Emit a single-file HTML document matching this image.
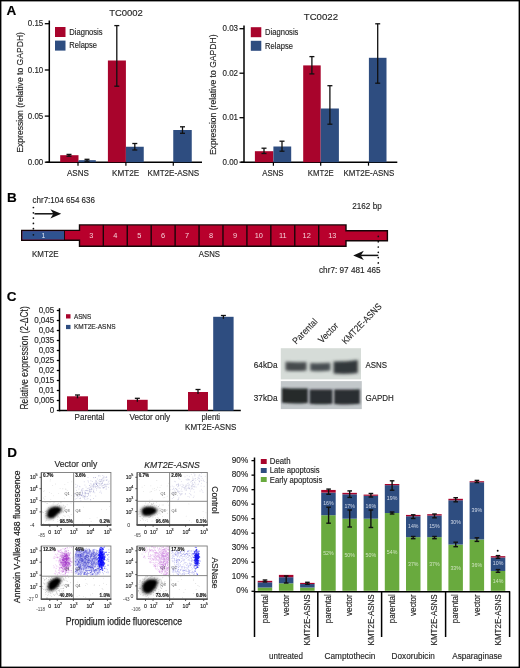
<!DOCTYPE html>
<html><head><meta charset="utf-8"><style>
html,body{margin:0;padding:0;background:#fff;}
svg{display:block;will-change:transform;}
text{font-family:"Liberation Sans",sans-serif;}
</style></head><body>
<svg width="520" height="668" viewBox="0 0 520 668">
<rect width="520" height="668" fill="#fff"/>
<text x="6.6" y="15.2" font-size="13.5" font-weight="bold" fill="#000" stroke="#000" stroke-width="0.15" >A</text>
<text x="7" y="202" font-size="13.5" font-weight="bold" fill="#000" stroke="#000" stroke-width="0.15" >B</text>
<text x="6.8" y="300.7" font-size="13.5" font-weight="bold" fill="#000" stroke="#000" stroke-width="0.15" >C</text>
<text x="7.2" y="456.8" font-size="13.5" font-weight="bold" fill="#000" stroke="#000" stroke-width="0.15" >D</text>
<text x="109.2" y="15.5" font-size="9.9" fill="#262626" stroke="#262626" stroke-width="0.15" textLength="33.7" lengthAdjust="spacingAndGlyphs" >TC0002</text>
<line x1="49.3" y1="20.5" x2="49.3" y2="162.95" stroke="#000" stroke-width="1.5" />
<line x1="46.3" y1="162.2" x2="202" y2="162.2" stroke="#000" stroke-width="1.5" />
<line x1="44.8" y1="23.7" x2="49.3" y2="23.7" stroke="#000" stroke-width="1.3" />
<text x="43.3" y="26.4" font-size="8.58" text-anchor="end" fill="#262626" stroke="#262626" stroke-width="0.15" textLength="15.5" lengthAdjust="spacingAndGlyphs" >0.15</text>
<line x1="44.8" y1="70" x2="49.3" y2="70" stroke="#000" stroke-width="1.3" />
<text x="43.3" y="72.7" font-size="8.58" text-anchor="end" fill="#262626" stroke="#262626" stroke-width="0.15" textLength="15.5" lengthAdjust="spacingAndGlyphs" >0.10</text>
<line x1="44.8" y1="116.1" x2="49.3" y2="116.1" stroke="#000" stroke-width="1.3" />
<text x="43.3" y="118.8" font-size="8.58" text-anchor="end" fill="#262626" stroke="#262626" stroke-width="0.15" textLength="15.5" lengthAdjust="spacingAndGlyphs" >0.05</text>
<line x1="44.8" y1="162.2" x2="49.3" y2="162.2" stroke="#000" stroke-width="1.3" />
<text x="43.3" y="164.9" font-size="8.58" text-anchor="end" fill="#262626" stroke="#262626" stroke-width="0.15" textLength="15.5" lengthAdjust="spacingAndGlyphs" >0.00</text>
<text transform="translate(22.6,92.35) rotate(-90)" font-size="9.46" text-anchor="middle" fill="#262626" stroke="#262626" stroke-width="0.15" textLength="120.6" lengthAdjust="spacingAndGlyphs" >Expression (relative to GAPDH)</text>
<rect x="55" y="27" width="10.5" height="10" fill="#a8042c" />
<rect x="55" y="40.6" width="10.5" height="10" fill="#2e4d80" />
<text x="69.3" y="34.8" font-size="8.25" fill="#262626" stroke="#262626" stroke-width="0.15" textLength="33.3" lengthAdjust="spacingAndGlyphs" >Diagnosis</text>
<text x="69.3" y="48.4" font-size="8.25" fill="#262626" stroke="#262626" stroke-width="0.15" textLength="27.8" lengthAdjust="spacingAndGlyphs" >Relapse</text>
<rect x="60.2" y="155.2" width="18.3" height="7" fill="#a8042c" />
<rect x="78.5" y="160.2" width="17.3" height="2" fill="#2e4d80" />
<rect x="107.9" y="60.5" width="18" height="101.7" fill="#a8042c" />
<rect x="125.9" y="146.75" width="17.85" height="15.45" fill="#2e4d80" />
<rect x="173.25" y="130" width="18.5" height="32.2" fill="#2e4d80" />
<line x1="69" y1="154.4" x2="69" y2="156.2" stroke="#111" stroke-width="1.3" />
<line x1="66.5" y1="154.4" x2="71.5" y2="154.4" stroke="#111" stroke-width="1.3" />
<line x1="66.5" y1="156.2" x2="71.5" y2="156.2" stroke="#111" stroke-width="1.3" />
<line x1="87" y1="159.3" x2="87" y2="161.2" stroke="#111" stroke-width="1.3" />
<line x1="84.5" y1="159.3" x2="89.5" y2="159.3" stroke="#111" stroke-width="1.3" />
<line x1="84.5" y1="161.2" x2="89.5" y2="161.2" stroke="#111" stroke-width="1.3" />
<line x1="116.8" y1="25.6" x2="116.8" y2="86.2" stroke="#111" stroke-width="1.3" />
<line x1="114.3" y1="25.6" x2="119.3" y2="25.6" stroke="#111" stroke-width="1.3" />
<line x1="114.3" y1="86.2" x2="119.3" y2="86.2" stroke="#111" stroke-width="1.3" />
<line x1="134.8" y1="143.5" x2="134.8" y2="150" stroke="#111" stroke-width="1.3" />
<line x1="132.3" y1="143.5" x2="137.3" y2="143.5" stroke="#111" stroke-width="1.3" />
<line x1="132.3" y1="150" x2="137.3" y2="150" stroke="#111" stroke-width="1.3" />
<line x1="182.5" y1="126.8" x2="182.5" y2="133.3" stroke="#111" stroke-width="1.3" />
<line x1="180" y1="126.8" x2="185" y2="126.8" stroke="#111" stroke-width="1.3" />
<line x1="180" y1="133.3" x2="185" y2="133.3" stroke="#111" stroke-width="1.3" />
<line x1="78" y1="162.2" x2="78" y2="165.7" stroke="#000" stroke-width="1.2" />
<line x1="125.9" y1="162.2" x2="125.9" y2="165.7" stroke="#000" stroke-width="1.2" />
<line x1="173.3" y1="162.2" x2="173.3" y2="165.7" stroke="#000" stroke-width="1.2" />
<text x="77.9" y="176" font-size="8.8" text-anchor="middle" fill="#262626" stroke="#262626" stroke-width="0.15" textLength="21.9" lengthAdjust="spacingAndGlyphs" >ASNS</text>
<text x="125.6" y="176" font-size="8.8" text-anchor="middle" fill="#262626" stroke="#262626" stroke-width="0.15" textLength="27.2" lengthAdjust="spacingAndGlyphs" >KMT2E</text>
<text x="173.4" y="176" font-size="8.8" text-anchor="middle" fill="#262626" stroke="#262626" stroke-width="0.15" textLength="51.7" lengthAdjust="spacingAndGlyphs" >KMT2E-ASNS</text>
<text x="303.8" y="19.8" font-size="9.9" fill="#262626" stroke="#262626" stroke-width="0.15" textLength="34.2" lengthAdjust="spacingAndGlyphs" >TC0022</text>
<line x1="244" y1="25.4" x2="244" y2="162.95" stroke="#000" stroke-width="1.5" />
<line x1="241" y1="162.2" x2="397.3" y2="162.2" stroke="#000" stroke-width="1.5" />
<line x1="239.5" y1="28.7" x2="244" y2="28.7" stroke="#000" stroke-width="1.3" />
<text x="238" y="31.4" font-size="8.58" text-anchor="end" fill="#262626" stroke="#262626" stroke-width="0.15" textLength="15.5" lengthAdjust="spacingAndGlyphs" >0.03</text>
<line x1="239.5" y1="73.2" x2="244" y2="73.2" stroke="#000" stroke-width="1.3" />
<text x="238" y="75.9" font-size="8.58" text-anchor="end" fill="#262626" stroke="#262626" stroke-width="0.15" textLength="15.5" lengthAdjust="spacingAndGlyphs" >0.02</text>
<line x1="239.5" y1="117.7" x2="244" y2="117.7" stroke="#000" stroke-width="1.3" />
<text x="238" y="120.4" font-size="8.58" text-anchor="end" fill="#262626" stroke="#262626" stroke-width="0.15" textLength="15.5" lengthAdjust="spacingAndGlyphs" >0.01</text>
<line x1="239.5" y1="162.2" x2="244" y2="162.2" stroke="#000" stroke-width="1.3" />
<text x="238" y="164.9" font-size="8.58" text-anchor="end" fill="#262626" stroke="#262626" stroke-width="0.15" textLength="15.5" lengthAdjust="spacingAndGlyphs" >0.00</text>
<text transform="translate(216.3,94.8) rotate(-90)" font-size="9.46" text-anchor="middle" fill="#262626" stroke="#262626" stroke-width="0.15" textLength="120.6" lengthAdjust="spacingAndGlyphs" >Expression (relative to GAPDH)</text>
<rect x="250.8" y="27.2" width="10.5" height="10" fill="#a8042c" />
<rect x="250.8" y="40.8" width="10.5" height="10" fill="#2e4d80" />
<text x="265.1" y="35" font-size="8.25" fill="#262626" stroke="#262626" stroke-width="0.15" textLength="33.3" lengthAdjust="spacingAndGlyphs" >Diagnosis</text>
<text x="265.1" y="48.6" font-size="8.25" fill="#262626" stroke="#262626" stroke-width="0.15" textLength="27.8" lengthAdjust="spacingAndGlyphs" >Relapse</text>
<rect x="254.9" y="151.2" width="18.5" height="11" fill="#a8042c" />
<rect x="273.4" y="146.5" width="17.8" height="15.7" fill="#2e4d80" />
<rect x="303.2" y="65.4" width="17.5" height="96.8" fill="#a8042c" />
<rect x="320.7" y="108.5" width="18.2" height="53.7" fill="#2e4d80" />
<rect x="368.9" y="57.8" width="17.6" height="104.4" fill="#2e4d80" />
<line x1="264" y1="148.2" x2="264" y2="153.5" stroke="#111" stroke-width="1.3" />
<line x1="261.5" y1="148.2" x2="266.5" y2="148.2" stroke="#111" stroke-width="1.3" />
<line x1="261.5" y1="153.5" x2="266.5" y2="153.5" stroke="#111" stroke-width="1.3" />
<line x1="282" y1="141.2" x2="282" y2="151.2" stroke="#111" stroke-width="1.3" />
<line x1="279.5" y1="141.2" x2="284.5" y2="141.2" stroke="#111" stroke-width="1.3" />
<line x1="279.5" y1="151.2" x2="284.5" y2="151.2" stroke="#111" stroke-width="1.3" />
<line x1="311.9" y1="56.6" x2="311.9" y2="73.9" stroke="#111" stroke-width="1.3" />
<line x1="309.4" y1="56.6" x2="314.4" y2="56.6" stroke="#111" stroke-width="1.3" />
<line x1="309.4" y1="73.9" x2="314.4" y2="73.9" stroke="#111" stroke-width="1.3" />
<line x1="329.9" y1="85.7" x2="329.9" y2="124.2" stroke="#111" stroke-width="1.3" />
<line x1="327.4" y1="85.7" x2="332.4" y2="85.7" stroke="#111" stroke-width="1.3" />
<line x1="327.4" y1="124.2" x2="332.4" y2="124.2" stroke="#111" stroke-width="1.3" />
<line x1="377.7" y1="23.8" x2="377.7" y2="83.2" stroke="#111" stroke-width="1.3" />
<line x1="375.2" y1="23.8" x2="380.2" y2="23.8" stroke="#111" stroke-width="1.3" />
<line x1="375.2" y1="83.2" x2="380.2" y2="83.2" stroke="#111" stroke-width="1.3" />
<line x1="273.4" y1="162.2" x2="273.4" y2="165.7" stroke="#000" stroke-width="1.2" />
<line x1="320.7" y1="162.2" x2="320.7" y2="165.7" stroke="#000" stroke-width="1.2" />
<line x1="368.5" y1="162.2" x2="368.5" y2="165.7" stroke="#000" stroke-width="1.2" />
<text x="272.9" y="176" font-size="8.8" text-anchor="middle" fill="#262626" stroke="#262626" stroke-width="0.15" textLength="21.2" lengthAdjust="spacingAndGlyphs" >ASNS</text>
<text x="320.8" y="176" font-size="8.8" text-anchor="middle" fill="#262626" stroke="#262626" stroke-width="0.15" textLength="26" lengthAdjust="spacingAndGlyphs" >KMT2E</text>
<text x="368.9" y="176" font-size="8.8" text-anchor="middle" fill="#262626" stroke="#262626" stroke-width="0.15" textLength="50.8" lengthAdjust="spacingAndGlyphs" >KMT2E-ASNS</text>
<text x="32.5" y="202.5" font-size="8.8" fill="#262626" stroke="#262626" stroke-width="0.15" textLength="62.5" lengthAdjust="spacingAndGlyphs" >chr7:104 654 636</text>
<circle cx="33.4" cy="207.5" r="0.85" fill="#111"/>
<circle cx="33.4" cy="212.8" r="0.85" fill="#111"/>
<circle cx="33.4" cy="218.1" r="0.85" fill="#111"/>
<circle cx="33.4" cy="223.4" r="0.85" fill="#111"/>
<circle cx="33.4" cy="228.7" r="0.85" fill="#111"/>
<circle cx="33.4" cy="234" r="0.85" fill="#111"/>
<circle cx="33.4" cy="239.3" r="0.85" fill="#111"/>
<line x1="34.5" y1="213.8" x2="54" y2="213.8" stroke="#111" stroke-width="1.5" />
<path d="M61.2,213.8 L50.4,209.2 L53.4,213.8 L50.4,218.4 Z" fill="#111"/>
<path d="M21.7,230.4 H79.5 V224.9 H346 V230.8 H387.4 V240.8 H346 V246.2 H79.5 V240.2 H21.7 Z" fill="#b8002c" stroke="#140406" stroke-width="1.4"/>
<rect x="22.4" y="231.1" width="42.1" height="8.4" fill="#2f5290" />
<line x1="64.5" y1="230.4" x2="64.5" y2="240.2" stroke="#140406" stroke-width="0.9" />
<text x="91.37" y="237.6" font-size="7.4" text-anchor="middle" fill="#f6d0d8" >3</text>
<line x1="103.33" y1="224.9" x2="103.33" y2="246.2" stroke="#1a0508" stroke-width="1.4" />
<text x="115.3" y="237.6" font-size="7.4" text-anchor="middle" fill="#f6d0d8" >4</text>
<line x1="127.26" y1="224.9" x2="127.26" y2="246.2" stroke="#1a0508" stroke-width="1.4" />
<text x="139.22" y="237.6" font-size="7.4" text-anchor="middle" fill="#f6d0d8" >5</text>
<line x1="151.19" y1="224.9" x2="151.19" y2="246.2" stroke="#1a0508" stroke-width="1.4" />
<text x="163.16" y="237.6" font-size="7.4" text-anchor="middle" fill="#f6d0d8" >6</text>
<line x1="175.12" y1="224.9" x2="175.12" y2="246.2" stroke="#1a0508" stroke-width="1.4" />
<text x="187.09" y="237.6" font-size="7.4" text-anchor="middle" fill="#f6d0d8" >7</text>
<line x1="199.05" y1="224.9" x2="199.05" y2="246.2" stroke="#1a0508" stroke-width="1.4" />
<text x="211.01" y="237.6" font-size="7.4" text-anchor="middle" fill="#f6d0d8" >8</text>
<line x1="222.98" y1="224.9" x2="222.98" y2="246.2" stroke="#1a0508" stroke-width="1.4" />
<text x="234.94" y="237.6" font-size="7.4" text-anchor="middle" fill="#f6d0d8" >9</text>
<line x1="246.91" y1="224.9" x2="246.91" y2="246.2" stroke="#1a0508" stroke-width="1.4" />
<text x="258.88" y="237.6" font-size="7.4" text-anchor="middle" fill="#f6d0d8" >10</text>
<line x1="270.84" y1="224.9" x2="270.84" y2="246.2" stroke="#1a0508" stroke-width="1.4" />
<text x="282.81" y="237.6" font-size="7.4" text-anchor="middle" fill="#f6d0d8" >11</text>
<line x1="294.77" y1="224.9" x2="294.77" y2="246.2" stroke="#1a0508" stroke-width="1.4" />
<text x="306.74" y="237.6" font-size="7.4" text-anchor="middle" fill="#f6d0d8" >12</text>
<line x1="318.7" y1="224.9" x2="318.7" y2="246.2" stroke="#1a0508" stroke-width="1.4" />
<text x="332.35" y="237.6" font-size="7.4" text-anchor="middle" fill="#f6d0d8" >13</text>
<circle cx="33.4" cy="234.8" r="0.85" fill="#111"/>
<text x="43.4" y="237.6" font-size="6.8" text-anchor="middle" fill="#dfe6f4" >1</text>
<circle cx="378.3" cy="236.4" r="0.85" fill="#111"/>
<circle cx="378.3" cy="241.7" r="0.85" fill="#111"/>
<circle cx="378.3" cy="247" r="0.85" fill="#111"/>
<circle cx="378.3" cy="252.3" r="0.85" fill="#111"/>
<circle cx="378.3" cy="257.6" r="0.85" fill="#111"/>
<circle cx="378.3" cy="262.9" r="0.85" fill="#111"/>
<line x1="361" y1="255.4" x2="378.3" y2="255.4" stroke="#111" stroke-width="1.5" />
<path d="M353.2,255.4 L363.8,250.8 L360.8,255.4 L363.8,260 Z" fill="#111"/>
<text x="31.9" y="256.7" font-size="8.8" fill="#262626" stroke="#262626" stroke-width="0.15" textLength="26.7" lengthAdjust="spacingAndGlyphs" >KMT2E</text>
<text x="198.8" y="256.7" font-size="8.8" fill="#262626" stroke="#262626" stroke-width="0.15" textLength="21.2" lengthAdjust="spacingAndGlyphs" >ASNS</text>
<text x="352.3" y="209.3" font-size="8.8" fill="#262626" stroke="#262626" stroke-width="0.15" textLength="29.4" lengthAdjust="spacingAndGlyphs" >2162 bp</text>
<text x="319" y="273" font-size="8.8" fill="#262626" stroke="#262626" stroke-width="0.15" textLength="61.6" lengthAdjust="spacingAndGlyphs" >chr7: 97 481 465</text>
<line x1="59.5" y1="308.2" x2="59.5" y2="411.35" stroke="#000" stroke-width="1.5" />
<line x1="59.5" y1="410.6" x2="240.8" y2="410.6" stroke="#000" stroke-width="1.5" />
<line x1="56.8" y1="310.5" x2="59.5" y2="310.5" stroke="#000" stroke-width="1.3" />
<text x="54.3" y="313.3" font-size="8.86" text-anchor="end" fill="#262626" stroke="#262626" stroke-width="0.15" textLength="15.67" lengthAdjust="spacingAndGlyphs" >0,05</text>
<line x1="56.8" y1="320.5" x2="59.5" y2="320.5" stroke="#000" stroke-width="1.3" />
<text x="54.3" y="323.3" font-size="8.86" text-anchor="end" fill="#262626" stroke="#262626" stroke-width="0.15" textLength="20.14" lengthAdjust="spacingAndGlyphs" >0,045</text>
<line x1="56.8" y1="330.5" x2="59.5" y2="330.5" stroke="#000" stroke-width="1.3" />
<text x="54.3" y="333.3" font-size="8.86" text-anchor="end" fill="#262626" stroke="#262626" stroke-width="0.15" textLength="15.67" lengthAdjust="spacingAndGlyphs" >0,04</text>
<line x1="56.8" y1="340.5" x2="59.5" y2="340.5" stroke="#000" stroke-width="1.3" />
<text x="54.3" y="343.3" font-size="8.86" text-anchor="end" fill="#262626" stroke="#262626" stroke-width="0.15" textLength="20.14" lengthAdjust="spacingAndGlyphs" >0,035</text>
<line x1="56.8" y1="350.5" x2="59.5" y2="350.5" stroke="#000" stroke-width="1.3" />
<text x="54.3" y="353.3" font-size="8.86" text-anchor="end" fill="#262626" stroke="#262626" stroke-width="0.15" textLength="15.67" lengthAdjust="spacingAndGlyphs" >0,03</text>
<line x1="56.8" y1="360.5" x2="59.5" y2="360.5" stroke="#000" stroke-width="1.3" />
<text x="54.3" y="363.3" font-size="8.86" text-anchor="end" fill="#262626" stroke="#262626" stroke-width="0.15" textLength="20.14" lengthAdjust="spacingAndGlyphs" >0,025</text>
<line x1="56.8" y1="370.5" x2="59.5" y2="370.5" stroke="#000" stroke-width="1.3" />
<text x="54.3" y="373.3" font-size="8.86" text-anchor="end" fill="#262626" stroke="#262626" stroke-width="0.15" textLength="15.67" lengthAdjust="spacingAndGlyphs" >0,02</text>
<line x1="56.8" y1="380.5" x2="59.5" y2="380.5" stroke="#000" stroke-width="1.3" />
<text x="54.3" y="383.3" font-size="8.86" text-anchor="end" fill="#262626" stroke="#262626" stroke-width="0.15" textLength="20.14" lengthAdjust="spacingAndGlyphs" >0,015</text>
<line x1="56.8" y1="390.5" x2="59.5" y2="390.5" stroke="#000" stroke-width="1.3" />
<text x="54.3" y="393.3" font-size="8.86" text-anchor="end" fill="#262626" stroke="#262626" stroke-width="0.15" textLength="15.67" lengthAdjust="spacingAndGlyphs" >0,01</text>
<line x1="56.8" y1="400.5" x2="59.5" y2="400.5" stroke="#000" stroke-width="1.3" />
<text x="54.3" y="403.3" font-size="8.86" text-anchor="end" fill="#262626" stroke="#262626" stroke-width="0.15" textLength="20.14" lengthAdjust="spacingAndGlyphs" >0,005</text>
<line x1="56.8" y1="410.5" x2="59.5" y2="410.5" stroke="#000" stroke-width="1.3" />
<text x="54.3" y="413.3" font-size="8.86" text-anchor="end" fill="#262626" stroke="#262626" stroke-width="0.15" textLength="4.48" lengthAdjust="spacingAndGlyphs" >0</text>
<text transform="translate(27.8,357.9) rotate(-90)" font-size="10.56" text-anchor="middle" fill="#262626" stroke="#262626" stroke-width="0.15" textLength="103.2" lengthAdjust="spacingAndGlyphs" >Relative expression (2-ΔCt)</text>
<rect x="66" y="314.2" width="4.5" height="4.3" fill="#a8042c" />
<rect x="66" y="324.9" width="4.5" height="4.2" fill="#2e4d80" />
<text x="73.9" y="318.9" font-size="6.4" fill="#262626" stroke="#262626" stroke-width="0.15" textLength="17.3" lengthAdjust="spacingAndGlyphs" >ASNS</text>
<text x="73.9" y="329.2" font-size="6.4" fill="#262626" stroke="#262626" stroke-width="0.15" textLength="41.6" lengthAdjust="spacingAndGlyphs" >KMT2E-ASNS</text>
<rect x="67" y="396.3" width="21" height="14.3" fill="#a8042c" />
<line x1="77.5" y1="395" x2="77.5" y2="398.3" stroke="#111" stroke-width="1.3" />
<line x1="75" y1="395" x2="80" y2="395" stroke="#111" stroke-width="1.3" />
<rect x="127" y="399.8" width="20.7" height="10.8" fill="#a8042c" />
<line x1="137.35" y1="398.3" x2="137.35" y2="401.8" stroke="#111" stroke-width="1.3" />
<line x1="134.85" y1="398.3" x2="139.85" y2="398.3" stroke="#111" stroke-width="1.3" />
<rect x="188" y="392" width="20" height="18.6" fill="#a8042c" />
<line x1="198" y1="389.5" x2="198" y2="394" stroke="#111" stroke-width="1.3" />
<line x1="195.5" y1="389.5" x2="200.5" y2="389.5" stroke="#111" stroke-width="1.3" />
<rect x="213.2" y="316.8" width="20.4" height="93.8" fill="#2e4d80" />
<line x1="223.4" y1="315.5" x2="223.4" y2="318.8" stroke="#111" stroke-width="1.3" />
<line x1="220.9" y1="315.5" x2="225.9" y2="315.5" stroke="#111" stroke-width="1.3" />
<text x="89.6" y="420.2" font-size="8.8" text-anchor="middle" fill="#262626" stroke="#262626" stroke-width="0.15" textLength="30" lengthAdjust="spacingAndGlyphs" >Parental</text>
<text x="149.8" y="420.2" font-size="8.8" text-anchor="middle" fill="#262626" stroke="#262626" stroke-width="0.15" textLength="40.8" lengthAdjust="spacingAndGlyphs" >Vector only</text>
<text x="210.8" y="420" font-size="8.8" text-anchor="middle" fill="#262626" stroke="#262626" stroke-width="0.15" textLength="18.6" lengthAdjust="spacingAndGlyphs" >plenti</text>
<text x="210.7" y="429.7" font-size="8.8" text-anchor="middle" fill="#262626" stroke="#262626" stroke-width="0.15" textLength="51.2" lengthAdjust="spacingAndGlyphs" >KMT2E-ASNS</text>
<defs><filter id="bl" x="-20%" y="-60%" width="140%" height="220%"><feGaussianBlur stdDeviation="1.5"/></filter><filter id="bl2" x="-20%" y="-60%" width="140%" height="220%"><feGaussianBlur stdDeviation="0.9"/></filter></defs>
<rect x="280.8" y="348.2" width="80.2" height="31.2" fill="#d6dcd8" />
<rect x="280.8" y="381.1" width="81" height="28" fill="#c2c7ca" />
<path d="M285.5,361.8 Q296,362.4 306.5,362 L306.5,370.48 Q296,371.6 285.5,370.42 Z" fill="#464b4e" filter="url(#bl)"/>
<path d="M310.2,363.1 Q320.3,363.4 330.4,362.8 L330.4,370.62 Q320.3,371.8 310.2,370.71 Z" fill="#4a4f52" filter="url(#bl)"/>
<path d="M333.6,361.6 Q345.7,361.8 357.8,360 L357.8,373.06 Q345.7,374.6 333.6,373.54 Z" fill="#33373a" filter="url(#bl)"/>
<path d="M282,388 Q294.9,388.8 307.8,388.4 L307.8,402.88 Q294.9,404 282,402.76 Z" fill="#26292c" filter="url(#bl2)"/>
<path d="M309.6,389.4 Q321,389.8 332.4,389.4 L332.4,403.68 Q321,404.8 309.6,403.68 Z" fill="#2a2d30" filter="url(#bl2)"/>
<path d="M334.2,389.4 Q347,389.8 359.8,389.2 L359.8,403.82 Q347,405 334.2,403.88 Z" fill="#2a2d30" filter="url(#bl2)"/>
<text x="253.8" y="368.2" font-size="8.8" fill="#262626" stroke="#262626" stroke-width="0.15" textLength="23.7" lengthAdjust="spacingAndGlyphs" >64kDa</text>
<text x="253.8" y="400.5" font-size="8.8" fill="#262626" stroke="#262626" stroke-width="0.15" textLength="23.7" lengthAdjust="spacingAndGlyphs" >37kDa</text>
<text x="365.5" y="368.2" font-size="8.8" fill="#262626" stroke="#262626" stroke-width="0.15" textLength="21.5" lengthAdjust="spacingAndGlyphs" >ASNS</text>
<text x="365.5" y="400.5" font-size="8.8" fill="#262626" stroke="#262626" stroke-width="0.15" textLength="28.3" lengthAdjust="spacingAndGlyphs" >GAPDH</text>
<text transform="translate(296.3,344.8) rotate(-46)" font-size="9.46" fill="#262626" stroke="#262626" stroke-width="0.1" textLength="31.5" lengthAdjust="spacingAndGlyphs" >Parental</text>
<text transform="translate(322,343.8) rotate(-46)" font-size="9.46" fill="#262626" stroke="#262626" stroke-width="0.1" textLength="24.5" lengthAdjust="spacingAndGlyphs" >Vector</text>
<text transform="translate(345.8,344.8) rotate(-46)" font-size="9.46" fill="#262626" stroke="#262626" stroke-width="0.1" textLength="52.5" lengthAdjust="spacingAndGlyphs" >KMT2E-ASNS</text>
<defs><filter id="sb" x="-30%" y="-30%" width="160%" height="160%"><feGaussianBlur stdDeviation="0.9"/></filter><filter id="sb2" x="-30%" y="-30%" width="160%" height="160%"><feGaussianBlur stdDeviation="1.3"/></filter></defs>
<g fill="#5a5aa8" fill-opacity="0.28"><circle cx="90.22" cy="495.69" r="0.5"/><circle cx="74.61" cy="493.47" r="0.5"/><circle cx="77.11" cy="494.61" r="0.5"/><circle cx="91.52" cy="489.45" r="0.5"/><circle cx="90.54" cy="486.72" r="0.5"/><circle cx="75.75" cy="484.16" r="0.5"/><circle cx="84.28" cy="493.75" r="0.5"/><circle cx="80.36" cy="491.96" r="0.5"/><circle cx="83.82" cy="495.88" r="0.5"/><circle cx="103.83" cy="487.85" r="0.5"/><circle cx="92.02" cy="489.39" r="0.5"/><circle cx="81.35" cy="495.71" r="0.5"/><circle cx="93.71" cy="486.36" r="0.5"/><circle cx="90.71" cy="487.27" r="0.5"/><circle cx="99.61" cy="479.62" r="0.5"/><circle cx="84.94" cy="484.9" r="0.5"/><circle cx="95.73" cy="496.1" r="0.5"/><circle cx="79.94" cy="493.24" r="0.5"/><circle cx="97.38" cy="479" r="0.5"/><circle cx="100.42" cy="487.89" r="0.5"/><circle cx="90.26" cy="483.64" r="0.5"/><circle cx="106.85" cy="480.34" r="0.5"/><circle cx="103.22" cy="487.51" r="0.5"/><circle cx="104.56" cy="484.82" r="0.5"/><circle cx="80.18" cy="495.42" r="0.5"/><circle cx="74.63" cy="495.89" r="0.5"/><circle cx="87.32" cy="496.5" r="0.5"/><circle cx="80.59" cy="498" r="0.5"/><circle cx="107.3" cy="483.95" r="0.5"/><circle cx="99.44" cy="481.19" r="0.5"/><circle cx="101.95" cy="486.28" r="0.5"/><circle cx="95.92" cy="482.3" r="0.5"/><circle cx="82.63" cy="496.09" r="0.5"/><circle cx="77.69" cy="492.41" r="0.5"/><circle cx="89.25" cy="491.49" r="0.5"/><circle cx="77.61" cy="485.15" r="0.5"/><circle cx="91.31" cy="483.88" r="0.5"/><circle cx="106.19" cy="487.92" r="0.5"/><circle cx="105.91" cy="477.34" r="0.5"/><circle cx="86.79" cy="490.53" r="0.5"/><circle cx="97.37" cy="486.03" r="0.5"/><circle cx="85.07" cy="495.73" r="0.5"/><circle cx="80.77" cy="494.76" r="0.5"/><circle cx="79" cy="494.74" r="0.5"/><circle cx="101.17" cy="479.85" r="0.5"/><circle cx="81.78" cy="495.04" r="0.5"/><circle cx="88.59" cy="482.08" r="0.5"/><circle cx="88.82" cy="488.29" r="0.5"/><circle cx="77.76" cy="496.9" r="0.5"/><circle cx="102.23" cy="483.08" r="0.5"/><circle cx="102.92" cy="479.84" r="0.5"/><circle cx="98.49" cy="487.79" r="0.5"/><circle cx="82.69" cy="493.42" r="0.5"/><circle cx="92.33" cy="481.58" r="0.5"/><circle cx="87.97" cy="498.4" r="0.5"/><circle cx="101.19" cy="479.2" r="0.5"/><circle cx="91.61" cy="488.13" r="0.5"/><circle cx="76.81" cy="498.58" r="0.5"/><circle cx="102.3" cy="483.13" r="0.5"/><circle cx="88.24" cy="492.9" r="0.5"/><circle cx="84.34" cy="498.47" r="0.5"/><circle cx="106.65" cy="476.77" r="0.5"/><circle cx="96.97" cy="483.28" r="0.5"/><circle cx="103.24" cy="480.74" r="0.5"/><circle cx="96.53" cy="483.91" r="0.5"/><circle cx="96.5" cy="489.92" r="0.5"/><circle cx="102.42" cy="482.73" r="0.5"/><circle cx="104.85" cy="477.64" r="0.5"/><circle cx="106.15" cy="489.31" r="0.5"/><circle cx="104" cy="476.33" r="0.5"/><circle cx="93.74" cy="487.33" r="0.5"/><circle cx="102.77" cy="475.52" r="0.5"/><circle cx="96.55" cy="484.25" r="0.5"/><circle cx="102.46" cy="485.62" r="0.5"/><circle cx="85.83" cy="496.85" r="0.5"/><circle cx="82.38" cy="492.59" r="0.5"/><circle cx="101.15" cy="484.91" r="0.5"/><circle cx="98.15" cy="483.55" r="0.5"/><circle cx="98.86" cy="480.77" r="0.5"/><circle cx="97.28" cy="487.74" r="0.5"/><circle cx="90.21" cy="492.85" r="0.5"/><circle cx="74.69" cy="494.02" r="0.5"/><circle cx="90.96" cy="491.47" r="0.5"/><circle cx="93.89" cy="484.58" r="0.5"/><circle cx="93.61" cy="490.2" r="0.5"/><circle cx="94.23" cy="482.89" r="0.5"/><circle cx="103.78" cy="480.82" r="0.5"/><circle cx="89.77" cy="485.55" r="0.5"/><circle cx="92.28" cy="486.09" r="0.5"/><circle cx="97.59" cy="485.4" r="0.5"/><circle cx="106.42" cy="480.25" r="0.5"/><circle cx="101.63" cy="483.59" r="0.5"/><circle cx="84.27" cy="496.76" r="0.5"/><circle cx="78.9" cy="496.18" r="0.5"/><circle cx="98.92" cy="475.44" r="0.5"/><circle cx="79.88" cy="486.65" r="0.5"/><circle cx="89.66" cy="485.39" r="0.5"/><circle cx="87.59" cy="490.73" r="0.5"/><circle cx="99.85" cy="487.21" r="0.5"/><circle cx="76.57" cy="495.26" r="0.5"/><circle cx="88.19" cy="493.85" r="0.5"/><circle cx="104.16" cy="484.67" r="0.5"/><circle cx="93.96" cy="488.97" r="0.5"/><circle cx="93.87" cy="485.43" r="0.5"/><circle cx="79.65" cy="495.19" r="0.5"/><circle cx="99.9" cy="485.41" r="0.5"/><circle cx="96.46" cy="484.41" r="0.5"/><circle cx="90.4" cy="499.58" r="0.5"/><circle cx="93.29" cy="484.56" r="0.5"/><circle cx="76.55" cy="490.29" r="0.5"/><circle cx="84.71" cy="492.02" r="0.5"/><circle cx="108.55" cy="487.14" r="0.5"/><circle cx="81.84" cy="490.77" r="0.5"/><circle cx="77.16" cy="486.77" r="0.5"/><circle cx="88.5" cy="495.28" r="0.5"/><circle cx="85.89" cy="493.46" r="0.5"/><circle cx="79.29" cy="498.5" r="0.5"/><circle cx="86.06" cy="486.97" r="0.5"/><circle cx="93.57" cy="491.28" r="0.5"/><circle cx="77.15" cy="496.1" r="0.5"/><circle cx="96.04" cy="482.88" r="0.5"/><circle cx="92.94" cy="487.1" r="0.5"/><circle cx="96.62" cy="484.59" r="0.5"/><circle cx="97.7" cy="485.49" r="0.5"/><circle cx="101.54" cy="484.07" r="0.5"/><circle cx="100.1" cy="476.04" r="0.5"/><circle cx="88" cy="490.32" r="0.5"/><circle cx="87.21" cy="496.69" r="0.5"/><circle cx="85.32" cy="493.1" r="0.5"/><circle cx="106.7" cy="477.18" r="0.5"/><circle cx="85.33" cy="494.8" r="0.5"/><circle cx="93.2" cy="492.29" r="0.5"/><circle cx="96.3" cy="488.49" r="0.5"/><circle cx="93.58" cy="498.47" r="0.5"/><circle cx="85.85" cy="490.78" r="0.5"/><circle cx="82.91" cy="490.3" r="0.5"/><circle cx="82.24" cy="492.35" r="0.5"/><circle cx="88.45" cy="493.78" r="0.5"/><circle cx="81.66" cy="495.47" r="0.5"/><circle cx="78.91" cy="489.02" r="0.5"/><circle cx="95.42" cy="477.55" r="0.5"/><circle cx="100.16" cy="484" r="0.5"/><circle cx="104.31" cy="487.57" r="0.5"/><circle cx="98.52" cy="475.99" r="0.5"/><circle cx="104.72" cy="486.73" r="0.5"/><circle cx="96.02" cy="480.48" r="0.5"/><circle cx="93.43" cy="477.5" r="0.5"/><circle cx="96.16" cy="481.56" r="0.5"/><circle cx="80.4" cy="498.26" r="0.5"/><circle cx="82.73" cy="488.97" r="0.5"/><circle cx="90.85" cy="480.65" r="0.5"/><circle cx="99.47" cy="487.89" r="0.5"/><circle cx="93.7" cy="483.45" r="0.5"/><circle cx="103.31" cy="487.95" r="0.5"/><circle cx="87.4" cy="493.13" r="0.5"/><circle cx="100.75" cy="490.95" r="0.5"/><circle cx="101.75" cy="480.06" r="0.5"/><circle cx="88.01" cy="480.86" r="0.5"/><circle cx="94.17" cy="484.25" r="0.5"/><circle cx="80.88" cy="500.64" r="0.5"/><circle cx="85.17" cy="490.4" r="0.5"/><circle cx="95.89" cy="481.12" r="0.5"/><circle cx="87.33" cy="488.39" r="0.5"/><circle cx="82.55" cy="491.83" r="0.5"/><circle cx="107.02" cy="479.52" r="0.5"/><circle cx="95.53" cy="477.52" r="0.5"/><circle cx="89.86" cy="491.43" r="0.5"/><circle cx="106.7" cy="486.14" r="0.5"/><circle cx="82.91" cy="488.61" r="0.5"/><circle cx="102.53" cy="478.2" r="0.5"/><circle cx="102.8" cy="481.23" r="0.5"/><circle cx="88.37" cy="493.93" r="0.5"/><circle cx="86.32" cy="490.29" r="0.5"/><circle cx="100.56" cy="481.58" r="0.5"/><circle cx="82.26" cy="494.17" r="0.5"/><circle cx="103.26" cy="477.26" r="0.5"/><circle cx="89.35" cy="490.11" r="0.5"/><circle cx="81.55" cy="490.78" r="0.5"/><circle cx="104.96" cy="484.07" r="0.5"/><circle cx="93.69" cy="491.42" r="0.5"/><circle cx="104.87" cy="479.91" r="0.5"/><circle cx="92.97" cy="485.35" r="0.5"/><circle cx="91.62" cy="486.09" r="0.5"/><circle cx="95.81" cy="486.61" r="0.5"/><circle cx="108.23" cy="484.33" r="0.5"/><circle cx="84.83" cy="497.11" r="0.5"/><circle cx="105.76" cy="486.44" r="0.5"/><circle cx="81.5" cy="489.17" r="0.5"/><circle cx="83.29" cy="495.52" r="0.5"/><circle cx="100.88" cy="481.07" r="0.5"/><circle cx="108.98" cy="480.9" r="0.5"/><circle cx="81.52" cy="495.19" r="0.5"/><circle cx="89.76" cy="491.9" r="0.5"/><circle cx="75.91" cy="487.46" r="0.5"/><circle cx="95.34" cy="485.95" r="0.5"/><circle cx="89.56" cy="490.02" r="0.5"/><circle cx="103.5" cy="485.2" r="0.5"/><circle cx="80.18" cy="494.48" r="0.5"/><circle cx="84.19" cy="496.67" r="0.5"/><circle cx="97.84" cy="482.18" r="0.5"/><circle cx="86.15" cy="493.25" r="0.5"/><circle cx="87.99" cy="477.43" r="0.5"/><circle cx="93.87" cy="477.86" r="0.5"/><circle cx="89.24" cy="487.83" r="0.5"/><circle cx="101.41" cy="493.06" r="0.5"/><circle cx="95.38" cy="487.43" r="0.5"/><circle cx="79.66" cy="486.28" r="0.5"/><circle cx="84.96" cy="496.14" r="0.5"/><circle cx="91.82" cy="488.29" r="0.5"/><circle cx="98.62" cy="486.17" r="0.5"/><circle cx="96.82" cy="486.53" r="0.5"/><circle cx="100.13" cy="481.88" r="0.5"/><circle cx="90.9" cy="489.9" r="0.5"/><circle cx="91.15" cy="491.37" r="0.5"/><circle cx="93.99" cy="486.41" r="0.5"/><circle cx="99.7" cy="483.39" r="0.5"/><circle cx="75.16" cy="499.05" r="0.5"/><circle cx="99.86" cy="492.22" r="0.5"/><circle cx="95.95" cy="483.61" r="0.5"/><circle cx="102.84" cy="487.7" r="0.5"/><circle cx="84.95" cy="499.37" r="0.5"/><circle cx="90.56" cy="489.29" r="0.5"/><circle cx="83.06" cy="497.19" r="0.5"/><circle cx="99.16" cy="484.09" r="0.5"/><circle cx="82.4" cy="493.82" r="0.5"/><circle cx="96" cy="483.7" r="0.5"/><circle cx="109.22" cy="483.64" r="0.5"/><circle cx="90.73" cy="499.99" r="0.5"/><circle cx="105.73" cy="484.91" r="0.5"/><circle cx="85.24" cy="492.38" r="0.5"/><circle cx="85.37" cy="492.94" r="0.5"/><circle cx="89.47" cy="489.3" r="0.5"/><circle cx="106.94" cy="484.15" r="0.5"/><circle cx="103.59" cy="478.06" r="0.5"/><circle cx="105.96" cy="484.81" r="0.5"/><circle cx="108.32" cy="482.03" r="0.5"/><circle cx="101.33" cy="481.24" r="0.5"/><circle cx="87" cy="498.91" r="0.5"/><circle cx="84.22" cy="481.84" r="0.5"/><circle cx="94.75" cy="492.79" r="0.5"/></g>
<g fill="#666" fill-opacity="0.35"><circle cx="53.34" cy="517.17" r="0.45"/><circle cx="67.17" cy="504.87" r="0.45"/><circle cx="61.45" cy="502.86" r="0.45"/><circle cx="55.22" cy="510.6" r="0.45"/><circle cx="57.96" cy="517.35" r="0.45"/><circle cx="50.69" cy="517" r="0.45"/><circle cx="46.9" cy="519.07" r="0.45"/><circle cx="57.52" cy="507.97" r="0.45"/><circle cx="46.7" cy="511.98" r="0.45"/><circle cx="53.1" cy="518.15" r="0.45"/><circle cx="53.3" cy="509.45" r="0.45"/><circle cx="62.64" cy="517.88" r="0.45"/><circle cx="54.9" cy="513.8" r="0.45"/><circle cx="64.36" cy="507.96" r="0.45"/><circle cx="54.69" cy="514.27" r="0.45"/><circle cx="63.35" cy="511.26" r="0.45"/><circle cx="48.62" cy="507.53" r="0.45"/><circle cx="57.59" cy="516.9" r="0.45"/><circle cx="42.24" cy="511.19" r="0.45"/><circle cx="50.49" cy="510.72" r="0.45"/><circle cx="55.34" cy="506.26" r="0.45"/><circle cx="45.7" cy="513.63" r="0.45"/><circle cx="51.49" cy="508.62" r="0.45"/><circle cx="56.05" cy="515.8" r="0.45"/><circle cx="68.06" cy="515.76" r="0.45"/><circle cx="46.4" cy="513.07" r="0.45"/><circle cx="47.98" cy="514.85" r="0.45"/><circle cx="54.02" cy="502.49" r="0.45"/><circle cx="57.39" cy="509.76" r="0.45"/><circle cx="60.78" cy="509.52" r="0.45"/><circle cx="58.82" cy="512.18" r="0.45"/><circle cx="63.46" cy="505.1" r="0.45"/><circle cx="59.52" cy="505.97" r="0.45"/><circle cx="57.21" cy="504.47" r="0.45"/><circle cx="57.92" cy="521.48" r="0.45"/><circle cx="56.86" cy="509.14" r="0.45"/><circle cx="42.49" cy="512.68" r="0.45"/><circle cx="58.03" cy="516.01" r="0.45"/><circle cx="58.67" cy="512.82" r="0.45"/><circle cx="57.36" cy="519.2" r="0.45"/><circle cx="49.13" cy="510.69" r="0.45"/><circle cx="61" cy="508.4" r="0.45"/><circle cx="49.94" cy="510.07" r="0.45"/><circle cx="53.56" cy="516.29" r="0.45"/><circle cx="53.11" cy="504" r="0.45"/><circle cx="57.68" cy="511" r="0.45"/><circle cx="48.12" cy="520.28" r="0.45"/><circle cx="50.62" cy="511.34" r="0.45"/><circle cx="63.88" cy="515.42" r="0.45"/><circle cx="49.62" cy="517.18" r="0.45"/><circle cx="53.34" cy="520.32" r="0.45"/><circle cx="51.02" cy="518.96" r="0.45"/><circle cx="51.81" cy="516.41" r="0.45"/><circle cx="51.14" cy="508.78" r="0.45"/><circle cx="71.03" cy="503.03" r="0.45"/><circle cx="43.27" cy="523.49" r="0.45"/><circle cx="49.65" cy="515.16" r="0.45"/><circle cx="64.1" cy="507.08" r="0.45"/><circle cx="65.27" cy="510.7" r="0.45"/><circle cx="49.83" cy="519.95" r="0.45"/><circle cx="59.59" cy="513.17" r="0.45"/><circle cx="63.02" cy="511.88" r="0.45"/><circle cx="56.55" cy="513.76" r="0.45"/><circle cx="51.3" cy="513.51" r="0.45"/><circle cx="59.52" cy="505.74" r="0.45"/><circle cx="60.59" cy="502.8" r="0.45"/><circle cx="54.39" cy="507.97" r="0.45"/><circle cx="53.06" cy="507.58" r="0.45"/><circle cx="54.59" cy="507.65" r="0.45"/><circle cx="58.24" cy="516.25" r="0.45"/><circle cx="45.76" cy="515.54" r="0.45"/><circle cx="59.57" cy="512.34" r="0.45"/><circle cx="45.09" cy="502.25" r="0.45"/><circle cx="64.56" cy="508.27" r="0.45"/><circle cx="53.1" cy="510.38" r="0.45"/><circle cx="54.66" cy="508.52" r="0.45"/><circle cx="43.58" cy="512.43" r="0.45"/><circle cx="47.32" cy="511.25" r="0.45"/><circle cx="46.48" cy="520.25" r="0.45"/><circle cx="45.35" cy="521.03" r="0.45"/><circle cx="46.8" cy="518.13" r="0.45"/><circle cx="65.24" cy="507.04" r="0.45"/><circle cx="48.17" cy="515.31" r="0.45"/><circle cx="49.98" cy="502.13" r="0.45"/><circle cx="49.47" cy="515.38" r="0.45"/><circle cx="50.32" cy="514.34" r="0.45"/><circle cx="61.8" cy="512.77" r="0.45"/><circle cx="62.65" cy="511.09" r="0.45"/><circle cx="51.47" cy="513.05" r="0.45"/><circle cx="50.76" cy="511.42" r="0.45"/><circle cx="47.42" cy="503.59" r="0.45"/><circle cx="51.1" cy="513.21" r="0.45"/><circle cx="46.04" cy="515.98" r="0.45"/><circle cx="57.4" cy="508.81" r="0.45"/><circle cx="46.92" cy="503.18" r="0.45"/><circle cx="69.17" cy="521.65" r="0.45"/><circle cx="57.03" cy="508.07" r="0.45"/><circle cx="61.6" cy="510.18" r="0.45"/><circle cx="52.29" cy="508.71" r="0.45"/><circle cx="57.45" cy="506.59" r="0.45"/><circle cx="54.09" cy="508.25" r="0.45"/><circle cx="57.57" cy="515" r="0.45"/><circle cx="46.79" cy="515.51" r="0.45"/><circle cx="59.09" cy="510" r="0.45"/><circle cx="69.34" cy="517.03" r="0.45"/><circle cx="64.97" cy="516.26" r="0.45"/><circle cx="63.43" cy="512.21" r="0.45"/><circle cx="46.86" cy="510.81" r="0.45"/><circle cx="58.19" cy="503.27" r="0.45"/><circle cx="46.28" cy="511.02" r="0.45"/><circle cx="53.47" cy="506.96" r="0.45"/><circle cx="63.92" cy="505.83" r="0.45"/><circle cx="48.99" cy="523.48" r="0.45"/><circle cx="49.83" cy="515.58" r="0.45"/><circle cx="52.8" cy="510.3" r="0.45"/><circle cx="54.37" cy="506.85" r="0.45"/><circle cx="53.78" cy="512.29" r="0.45"/><circle cx="58.54" cy="510.13" r="0.45"/><circle cx="45.49" cy="511.59" r="0.45"/><circle cx="59.15" cy="512.6" r="0.45"/><circle cx="52.34" cy="511.51" r="0.45"/><circle cx="61.24" cy="507.94" r="0.45"/><circle cx="61.3" cy="511.78" r="0.45"/><circle cx="59.24" cy="517.86" r="0.45"/><circle cx="48.24" cy="512.48" r="0.45"/><circle cx="45.13" cy="511.19" r="0.45"/><circle cx="71.15" cy="514.45" r="0.45"/><circle cx="55.62" cy="514.79" r="0.45"/><circle cx="65.41" cy="511.08" r="0.45"/><circle cx="50.05" cy="517.04" r="0.45"/><circle cx="65.44" cy="506.25" r="0.45"/><circle cx="46" cy="513.74" r="0.45"/></g>
<path d="M45.05,514.9 C45.27,513.37 45.72,510.69 46.67,509.23 C47.61,507.77 49.16,506.8 50.72,506.12 C52.27,505.45 54.25,505.23 55.98,505.18 C57.71,505.13 59.78,505.36 61.11,505.86 C62.44,506.35 63.77,507.18 63.95,508.15 C64.13,509.12 63.18,510.47 62.19,511.66 C61.2,512.85 59.47,514.02 58.01,515.31 C56.54,516.59 54.97,518.57 53.42,519.36 C51.86,520.14 50.04,520.19 48.69,520.03 C47.34,519.87 45.92,519.26 45.32,518.41 C44.71,517.55 44.82,516.43 45.05,514.9Z" fill="#666" fill-opacity="0.35" filter="url(#sb2)"/>
<path d="M47.3,514.2 C47.47,513.07 47.8,511.08 48.5,510 C49.2,508.92 50.35,508.2 51.5,507.7 C52.65,507.2 54.12,507.03 55.4,507 C56.68,506.97 58.22,507.13 59.2,507.5 C60.18,507.87 61.17,508.48 61.3,509.2 C61.43,509.92 60.73,510.92 60,511.8 C59.27,512.68 57.98,513.55 56.9,514.5 C55.82,515.45 54.65,516.92 53.5,517.5 C52.35,518.08 51,518.12 50,518 C49,517.88 47.95,517.43 47.5,516.8 C47.05,516.17 47.13,515.33 47.3,514.2Z" fill="#000" filter="url(#sb)"/>
<g fill="#999" fill-opacity="0.5"><circle cx="62.86" cy="488.75" r="0.4"/><circle cx="71.7" cy="495.44" r="0.4"/><circle cx="50.83" cy="499.37" r="0.4"/><circle cx="44.63" cy="490.78" r="0.4"/><circle cx="55.6" cy="483.99" r="0.4"/><circle cx="45.07" cy="496.49" r="0.4"/><circle cx="43.67" cy="491.23" r="0.4"/><circle cx="71.81" cy="481.79" r="0.4"/><circle cx="49.35" cy="492.55" r="0.4"/><circle cx="58.66" cy="493.32" r="0.4"/><circle cx="67.95" cy="482.53" r="0.4"/><circle cx="52.67" cy="485.44" r="0.4"/><circle cx="44.77" cy="499.04" r="0.4"/><circle cx="67.02" cy="495.03" r="0.4"/><circle cx="43.49" cy="498.01" r="0.4"/><circle cx="65.88" cy="489.25" r="0.4"/><circle cx="65.78" cy="488.95" r="0.4"/><circle cx="50.15" cy="480.93" r="0.4"/><circle cx="50.34" cy="479.4" r="0.4"/><circle cx="53.47" cy="495.82" r="0.4"/><circle cx="64.36" cy="498.03" r="0.4"/><circle cx="64.86" cy="484.64" r="0.4"/><circle cx="60.08" cy="488.57" r="0.4"/><circle cx="67.19" cy="490.59" r="0.4"/><circle cx="51.34" cy="493.33" r="0.4"/></g>
<g fill="#aaa" fill-opacity="0.6"><circle cx="109.6" cy="506.68" r="0.4"/><circle cx="83.31" cy="507.12" r="0.4"/><circle cx="101.35" cy="523.71" r="0.4"/><circle cx="101.43" cy="509.25" r="0.4"/><circle cx="106.43" cy="509.29" r="0.4"/><circle cx="82.52" cy="522.84" r="0.4"/><circle cx="97.12" cy="517.81" r="0.4"/><circle cx="91.11" cy="521.25" r="0.4"/><circle cx="99.62" cy="521.67" r="0.4"/><circle cx="89.91" cy="518.56" r="0.4"/></g>
<rect x="41.3" y="472.5" width="69.6" height="52.5" fill="none" stroke="#7a7a7a" stroke-width="0.9"/>
<line x1="73.6" y1="472.5" x2="73.6" y2="525" stroke="#7a7a7a" stroke-width="0.9" />
<line x1="41.3" y1="501.6" x2="110.9" y2="501.6" stroke="#7a7a7a" stroke-width="0.9" />
<line x1="40.8" y1="525" x2="111.4" y2="525" stroke="#333" stroke-width="1.3" />
<line x1="41.3" y1="472.5" x2="41.3" y2="525" stroke="#555" stroke-width="1" />
<text x="42.9" y="477.1" font-size="4.6" font-weight="bold" fill="#111" stroke="#111" stroke-width="0.12" >0.7%</text>
<text x="75.2" y="477.1" font-size="4.6" font-weight="bold" fill="#111" stroke="#111" stroke-width="0.12" >3.6%</text>
<text x="72.8" y="522.6" font-size="4.6" text-anchor="end" font-weight="bold" fill="#111" stroke="#111" stroke-width="0.12" >98.5%</text>
<text x="110.1" y="522.6" font-size="4.6" text-anchor="end" font-weight="bold" fill="#111" stroke="#111" stroke-width="0.12" >0.2%</text>
<text x="64.6" y="495.1" font-size="3.8" fill="#444" >Q1</text>
<text x="75.6" y="495.1" font-size="3.8" fill="#444" >Q2</text>
<text x="64.6" y="512.1" font-size="3.8" fill="#444" >Q3</text>
<text x="75.6" y="512.1" font-size="3.8" fill="#444" >Q4</text>
<text x="29.9" y="479.3" font-size="5.2" fill="#222" stroke="#222" stroke-width="0.15" >10</text>
<text x="35.5" y="476.3" font-size="3.6" fill="#222" stroke="#222" stroke-width="0.15" >5</text>
<line x1="39.5" y1="477.3" x2="41.3" y2="477.3" stroke="#333" stroke-width="0.8" />
<text x="29.9" y="490.7" font-size="5.2" fill="#222" stroke="#222" stroke-width="0.15" >10</text>
<text x="35.5" y="487.7" font-size="3.6" fill="#222" stroke="#222" stroke-width="0.15" >4</text>
<line x1="39.5" y1="488.7" x2="41.3" y2="488.7" stroke="#333" stroke-width="0.8" />
<text x="29.9" y="502.6" font-size="5.2" fill="#222" stroke="#222" stroke-width="0.15" >10</text>
<text x="35.5" y="499.6" font-size="3.6" fill="#222" stroke="#222" stroke-width="0.15" >3</text>
<line x1="39.5" y1="500.6" x2="41.3" y2="500.6" stroke="#333" stroke-width="0.8" />
<text x="29.9" y="513.9" font-size="5.2" fill="#222" stroke="#222" stroke-width="0.15" >10</text>
<text x="35.5" y="510.9" font-size="3.6" fill="#222" stroke="#222" stroke-width="0.15" >2</text>
<line x1="39.5" y1="511.9" x2="41.3" y2="511.9" stroke="#333" stroke-width="0.8" />
<text x="34.3" y="526.5" font-size="5.2" text-anchor="end" fill="#222" >-4</text>
<text x="48.3" y="534.2" font-size="5.2" fill="#222" stroke="#222" stroke-width="0.15" >0</text>
<text x="54.3" y="534.2" font-size="5.2" fill="#222" stroke="#222" stroke-width="0.15" >10</text>
<text x="59.9" y="531.2" font-size="3.6" fill="#222" stroke="#222" stroke-width="0.15" >2</text>
<text x="70" y="534.2" font-size="5.2" fill="#222" stroke="#222" stroke-width="0.15" >10</text>
<text x="75.6" y="531.2" font-size="3.6" fill="#222" stroke="#222" stroke-width="0.15" >3</text>
<text x="86.6" y="534.2" font-size="5.2" fill="#222" stroke="#222" stroke-width="0.15" >10</text>
<text x="92.2" y="531.2" font-size="3.6" fill="#222" stroke="#222" stroke-width="0.15" >4</text>
<text x="103.9" y="534.2" font-size="5.2" fill="#222" stroke="#222" stroke-width="0.15" >10</text>
<text x="109.5" y="531.2" font-size="3.6" fill="#222" stroke="#222" stroke-width="0.15" >5</text>
<line x1="49.8" y1="525" x2="49.8" y2="526.8" stroke="#333" stroke-width="0.8" />
<line x1="57.3" y1="525" x2="57.3" y2="526.8" stroke="#333" stroke-width="0.8" />
<line x1="73.6" y1="525" x2="73.6" y2="526.8" stroke="#333" stroke-width="0.8" />
<line x1="89.6" y1="525" x2="89.6" y2="526.8" stroke="#333" stroke-width="0.8" />
<line x1="107.4" y1="525" x2="107.4" y2="526.8" stroke="#333" stroke-width="0.8" />
<text x="45" y="536.5" font-size="4.6" text-anchor="end" fill="#444" >-85</text>
<g fill="#6a6ab0" fill-opacity="0.25"><circle cx="188.88" cy="488.09" r="0.5"/><circle cx="201.42" cy="489.25" r="0.5"/><circle cx="179.38" cy="491.56" r="0.5"/><circle cx="199.57" cy="481.84" r="0.5"/><circle cx="180.9" cy="494.86" r="0.5"/><circle cx="189.39" cy="476.2" r="0.5"/><circle cx="170.61" cy="489.77" r="0.5"/><circle cx="182.1" cy="484.14" r="0.5"/><circle cx="204.24" cy="481.44" r="0.5"/><circle cx="185.51" cy="493.72" r="0.5"/><circle cx="191.32" cy="474.31" r="0.5"/><circle cx="191.45" cy="486.18" r="0.5"/><circle cx="175.76" cy="488.47" r="0.5"/><circle cx="181.49" cy="489.05" r="0.5"/><circle cx="178.87" cy="497.27" r="0.5"/><circle cx="178.35" cy="499.49" r="0.5"/><circle cx="192.19" cy="480.27" r="0.5"/><circle cx="191.87" cy="488.27" r="0.5"/><circle cx="191.19" cy="495.08" r="0.5"/><circle cx="176.69" cy="489.19" r="0.5"/><circle cx="188.61" cy="482.97" r="0.5"/><circle cx="182.37" cy="493.72" r="0.5"/><circle cx="184.43" cy="488.03" r="0.5"/><circle cx="177.36" cy="484.54" r="0.5"/><circle cx="174.63" cy="490.12" r="0.5"/><circle cx="193.92" cy="473.33" r="0.5"/><circle cx="188.76" cy="488" r="0.5"/><circle cx="186.35" cy="486.11" r="0.5"/><circle cx="203.23" cy="480.69" r="0.5"/><circle cx="185.48" cy="485.97" r="0.5"/><circle cx="186.96" cy="485.26" r="0.5"/><circle cx="178.53" cy="484.83" r="0.5"/><circle cx="192.91" cy="478.48" r="0.5"/><circle cx="188.02" cy="496.44" r="0.5"/><circle cx="192.77" cy="480.46" r="0.5"/><circle cx="187.04" cy="480.3" r="0.5"/><circle cx="181.43" cy="493.73" r="0.5"/><circle cx="195.8" cy="480.48" r="0.5"/><circle cx="177.46" cy="495.44" r="0.5"/><circle cx="191" cy="489.35" r="0.5"/><circle cx="186.39" cy="489.24" r="0.5"/><circle cx="177.98" cy="491.25" r="0.5"/><circle cx="193.25" cy="486.71" r="0.5"/><circle cx="192.08" cy="483.76" r="0.5"/><circle cx="194.85" cy="485.97" r="0.5"/><circle cx="189.45" cy="488.62" r="0.5"/><circle cx="194.83" cy="476.07" r="0.5"/><circle cx="189.32" cy="484.57" r="0.5"/><circle cx="184.35" cy="489" r="0.5"/><circle cx="194.57" cy="482.64" r="0.5"/><circle cx="192.43" cy="483.93" r="0.5"/><circle cx="201.06" cy="476.71" r="0.5"/><circle cx="198.62" cy="476.9" r="0.5"/><circle cx="188.14" cy="485.04" r="0.5"/><circle cx="196.15" cy="487.01" r="0.5"/><circle cx="195" cy="474.86" r="0.5"/><circle cx="175.39" cy="492.14" r="0.5"/><circle cx="185.37" cy="488.14" r="0.5"/><circle cx="204.13" cy="486.19" r="0.5"/><circle cx="192.05" cy="485.52" r="0.5"/><circle cx="179.9" cy="479.27" r="0.5"/><circle cx="193.8" cy="489.49" r="0.5"/><circle cx="187.99" cy="479.43" r="0.5"/><circle cx="195.12" cy="478.5" r="0.5"/><circle cx="188.45" cy="486.12" r="0.5"/><circle cx="186.99" cy="488.47" r="0.5"/><circle cx="181.02" cy="491.03" r="0.5"/><circle cx="173.57" cy="497.45" r="0.5"/><circle cx="191.69" cy="486.11" r="0.5"/><circle cx="178.85" cy="478.14" r="0.5"/><circle cx="190.53" cy="494.32" r="0.5"/><circle cx="185.26" cy="490.06" r="0.5"/><circle cx="199.03" cy="475.21" r="0.5"/><circle cx="183.69" cy="485" r="0.5"/><circle cx="197.88" cy="484.72" r="0.5"/><circle cx="200" cy="476.04" r="0.5"/><circle cx="179.17" cy="488.17" r="0.5"/><circle cx="192.23" cy="488.67" r="0.5"/><circle cx="178.09" cy="492.03" r="0.5"/><circle cx="185.83" cy="487.33" r="0.5"/><circle cx="194.03" cy="486.29" r="0.5"/><circle cx="176.62" cy="489.51" r="0.5"/><circle cx="189.6" cy="479.87" r="0.5"/><circle cx="202.16" cy="478.2" r="0.5"/><circle cx="205.28" cy="476.16" r="0.5"/><circle cx="180.37" cy="485.05" r="0.5"/><circle cx="185.34" cy="493.97" r="0.5"/><circle cx="192.74" cy="485.91" r="0.5"/><circle cx="177.87" cy="499.79" r="0.5"/><circle cx="189.45" cy="497.04" r="0.5"/><circle cx="202.1" cy="490.74" r="0.5"/><circle cx="192.73" cy="477.01" r="0.5"/><circle cx="176.5" cy="484.62" r="0.5"/><circle cx="185.79" cy="486.22" r="0.5"/><circle cx="189.31" cy="488.72" r="0.5"/><circle cx="175.14" cy="491.31" r="0.5"/><circle cx="190.52" cy="490.97" r="0.5"/><circle cx="178.23" cy="483.48" r="0.5"/><circle cx="175.84" cy="488.47" r="0.5"/><circle cx="185.01" cy="476.72" r="0.5"/><circle cx="173.01" cy="493.96" r="0.5"/><circle cx="170.28" cy="486.79" r="0.5"/><circle cx="194.35" cy="491.89" r="0.5"/><circle cx="177.65" cy="486.77" r="0.5"/><circle cx="172.25" cy="485.93" r="0.5"/><circle cx="186.08" cy="484.64" r="0.5"/><circle cx="178.7" cy="484.91" r="0.5"/><circle cx="174.26" cy="492.26" r="0.5"/><circle cx="191.54" cy="481.41" r="0.5"/><circle cx="193.14" cy="484.42" r="0.5"/><circle cx="193.86" cy="479.29" r="0.5"/><circle cx="180.31" cy="494.94" r="0.5"/><circle cx="192.39" cy="482.51" r="0.5"/><circle cx="199.51" cy="478.47" r="0.5"/><circle cx="173.95" cy="493.09" r="0.5"/><circle cx="184.46" cy="487.24" r="0.5"/><circle cx="186.16" cy="479.55" r="0.5"/><circle cx="187.76" cy="478.69" r="0.5"/><circle cx="176.37" cy="485.36" r="0.5"/><circle cx="198.56" cy="483.89" r="0.5"/><circle cx="175.44" cy="481.81" r="0.5"/><circle cx="186.41" cy="490.42" r="0.5"/><circle cx="193.17" cy="480.19" r="0.5"/><circle cx="178.01" cy="490.9" r="0.5"/><circle cx="178.49" cy="477.87" r="0.5"/><circle cx="172.99" cy="491.91" r="0.5"/><circle cx="178.67" cy="485.46" r="0.5"/><circle cx="200.01" cy="479.98" r="0.5"/><circle cx="174.62" cy="481.13" r="0.5"/><circle cx="197.62" cy="479.58" r="0.5"/><circle cx="173.61" cy="489.07" r="0.5"/><circle cx="177.75" cy="491.1" r="0.5"/><circle cx="202.99" cy="492.19" r="0.5"/><circle cx="177.1" cy="490.08" r="0.5"/><circle cx="172.43" cy="489.38" r="0.5"/><circle cx="195.73" cy="483.92" r="0.5"/><circle cx="201.08" cy="486.06" r="0.5"/><circle cx="183.12" cy="485.65" r="0.5"/><circle cx="188.15" cy="487.77" r="0.5"/><circle cx="180.17" cy="493.8" r="0.5"/><circle cx="201.48" cy="483.28" r="0.5"/><circle cx="200" cy="491.08" r="0.5"/><circle cx="191.98" cy="487.86" r="0.5"/><circle cx="183.29" cy="487.61" r="0.5"/><circle cx="178.44" cy="486.61" r="0.5"/><circle cx="188.83" cy="479.97" r="0.5"/><circle cx="187.16" cy="475.86" r="0.5"/><circle cx="192.89" cy="479.99" r="0.5"/><circle cx="182.15" cy="491.13" r="0.5"/><circle cx="194.64" cy="486.99" r="0.5"/><circle cx="172.65" cy="493.27" r="0.5"/><circle cx="181.46" cy="481.5" r="0.5"/><circle cx="201.55" cy="476.22" r="0.5"/><circle cx="172.22" cy="498.5" r="0.5"/><circle cx="194.82" cy="475.05" r="0.5"/><circle cx="178.46" cy="484.76" r="0.5"/><circle cx="195.62" cy="478.72" r="0.5"/><circle cx="201.4" cy="473.59" r="0.5"/><circle cx="199.45" cy="481.51" r="0.5"/><circle cx="190.58" cy="481.91" r="0.5"/><circle cx="198.95" cy="480.68" r="0.5"/><circle cx="188.78" cy="479.29" r="0.5"/><circle cx="178.69" cy="498.58" r="0.5"/><circle cx="194.83" cy="482.12" r="0.5"/><circle cx="197.87" cy="477.76" r="0.5"/><circle cx="198.69" cy="478.45" r="0.5"/><circle cx="182.02" cy="486.55" r="0.5"/><circle cx="179.53" cy="493.45" r="0.5"/><circle cx="189.93" cy="487.82" r="0.5"/><circle cx="182.13" cy="487.04" r="0.5"/><circle cx="178.81" cy="492.55" r="0.5"/><circle cx="173.63" cy="488.35" r="0.5"/><circle cx="189.84" cy="485.78" r="0.5"/><circle cx="189.38" cy="493.57" r="0.5"/><circle cx="193.74" cy="484.18" r="0.5"/><circle cx="201.47" cy="480.31" r="0.5"/><circle cx="174.72" cy="495.75" r="0.5"/><circle cx="181.23" cy="494.07" r="0.5"/><circle cx="187.62" cy="483.56" r="0.5"/><circle cx="206.74" cy="482.48" r="0.5"/><circle cx="194.03" cy="496.07" r="0.5"/><circle cx="173.92" cy="486.67" r="0.5"/><circle cx="199.55" cy="474.77" r="0.5"/><circle cx="193.34" cy="497.62" r="0.5"/><circle cx="203.29" cy="480" r="0.5"/></g>
<g fill="#666" fill-opacity="0.35"><circle cx="150.32" cy="516.28" r="0.45"/><circle cx="150.06" cy="509.48" r="0.45"/><circle cx="149.67" cy="502.3" r="0.45"/><circle cx="153.93" cy="510.91" r="0.45"/><circle cx="144.66" cy="508.33" r="0.45"/><circle cx="155.98" cy="512.3" r="0.45"/><circle cx="149.74" cy="514.06" r="0.45"/><circle cx="144.03" cy="513.28" r="0.45"/><circle cx="150.35" cy="514.11" r="0.45"/><circle cx="148.27" cy="510.73" r="0.45"/><circle cx="146.89" cy="508.27" r="0.45"/><circle cx="156.51" cy="522.2" r="0.45"/><circle cx="156.44" cy="513.85" r="0.45"/><circle cx="167.44" cy="513.2" r="0.45"/><circle cx="153.81" cy="503.06" r="0.45"/><circle cx="142.05" cy="515.03" r="0.45"/><circle cx="151.78" cy="504.59" r="0.45"/><circle cx="145.14" cy="510.22" r="0.45"/><circle cx="150.17" cy="512.91" r="0.45"/><circle cx="144.62" cy="505.56" r="0.45"/><circle cx="162.38" cy="516.38" r="0.45"/><circle cx="149.85" cy="516.97" r="0.45"/><circle cx="153.99" cy="513.58" r="0.45"/><circle cx="152" cy="506.01" r="0.45"/><circle cx="155.68" cy="515.08" r="0.45"/><circle cx="144.59" cy="524.02" r="0.45"/><circle cx="167.41" cy="509.91" r="0.45"/><circle cx="145.22" cy="509.05" r="0.45"/><circle cx="142.3" cy="514.07" r="0.45"/><circle cx="149.91" cy="514.91" r="0.45"/><circle cx="168.63" cy="505.1" r="0.45"/><circle cx="155.69" cy="512" r="0.45"/><circle cx="151.11" cy="509.48" r="0.45"/><circle cx="146.7" cy="507.29" r="0.45"/><circle cx="150.59" cy="510.7" r="0.45"/><circle cx="150.46" cy="505.96" r="0.45"/><circle cx="149.52" cy="511.45" r="0.45"/><circle cx="152.57" cy="504.11" r="0.45"/><circle cx="154.3" cy="515.35" r="0.45"/><circle cx="153.64" cy="507.77" r="0.45"/><circle cx="144.49" cy="511.37" r="0.45"/><circle cx="157.89" cy="517.52" r="0.45"/><circle cx="146.7" cy="508.34" r="0.45"/><circle cx="152.66" cy="511.37" r="0.45"/><circle cx="140.09" cy="509.84" r="0.45"/><circle cx="149.32" cy="515.1" r="0.45"/><circle cx="151.4" cy="503.54" r="0.45"/><circle cx="150.61" cy="512.86" r="0.45"/><circle cx="146.49" cy="506.25" r="0.45"/><circle cx="148.05" cy="509.71" r="0.45"/><circle cx="150.63" cy="506" r="0.45"/><circle cx="147.6" cy="511.81" r="0.45"/><circle cx="156.38" cy="505.55" r="0.45"/><circle cx="152.87" cy="506.87" r="0.45"/><circle cx="158.27" cy="518.46" r="0.45"/><circle cx="146.37" cy="514.69" r="0.45"/><circle cx="142.71" cy="518.88" r="0.45"/><circle cx="159.57" cy="508.27" r="0.45"/><circle cx="140" cy="516.43" r="0.45"/><circle cx="160.75" cy="513.97" r="0.45"/><circle cx="145.57" cy="520.58" r="0.45"/><circle cx="140.4" cy="520.51" r="0.45"/><circle cx="166.52" cy="510.3" r="0.45"/><circle cx="158.19" cy="506.57" r="0.45"/><circle cx="138.4" cy="514.02" r="0.45"/><circle cx="147.31" cy="511.58" r="0.45"/><circle cx="154.86" cy="508.69" r="0.45"/><circle cx="151.44" cy="513.02" r="0.45"/><circle cx="152.05" cy="521" r="0.45"/><circle cx="153.04" cy="510.57" r="0.45"/><circle cx="146.3" cy="508.57" r="0.45"/><circle cx="160.9" cy="508.51" r="0.45"/><circle cx="138.91" cy="511.21" r="0.45"/><circle cx="147.2" cy="509.32" r="0.45"/><circle cx="156.54" cy="502.31" r="0.45"/><circle cx="153.56" cy="510.75" r="0.45"/><circle cx="139.05" cy="514.68" r="0.45"/><circle cx="149.1" cy="514.19" r="0.45"/><circle cx="145.72" cy="514.09" r="0.45"/><circle cx="157.54" cy="514.69" r="0.45"/><circle cx="148.02" cy="508.19" r="0.45"/><circle cx="143.32" cy="516.96" r="0.45"/><circle cx="153.03" cy="504.14" r="0.45"/><circle cx="148.96" cy="506.18" r="0.45"/><circle cx="151.04" cy="515.89" r="0.45"/><circle cx="159.54" cy="510.36" r="0.45"/><circle cx="167.47" cy="502.1" r="0.45"/><circle cx="150.84" cy="516.79" r="0.45"/><circle cx="142.45" cy="509.3" r="0.45"/><circle cx="145.78" cy="511.91" r="0.45"/><circle cx="140.58" cy="516.72" r="0.45"/><circle cx="153.89" cy="510.23" r="0.45"/><circle cx="163.18" cy="505.06" r="0.45"/><circle cx="159.45" cy="504.95" r="0.45"/><circle cx="150.52" cy="509.85" r="0.45"/><circle cx="143.85" cy="509.41" r="0.45"/><circle cx="144.94" cy="508.44" r="0.45"/><circle cx="143.52" cy="510.01" r="0.45"/><circle cx="139.78" cy="513.4" r="0.45"/><circle cx="155.44" cy="507.9" r="0.45"/><circle cx="147.07" cy="519.74" r="0.45"/><circle cx="159" cy="513.55" r="0.45"/><circle cx="158.5" cy="506.51" r="0.45"/><circle cx="149.8" cy="517.49" r="0.45"/><circle cx="144.14" cy="512.15" r="0.45"/><circle cx="152.95" cy="512.25" r="0.45"/><circle cx="148.32" cy="517.2" r="0.45"/><circle cx="148.75" cy="515.58" r="0.45"/><circle cx="159.38" cy="511.92" r="0.45"/><circle cx="153.52" cy="503.26" r="0.45"/><circle cx="155.63" cy="517.92" r="0.45"/><circle cx="139.09" cy="516.16" r="0.45"/><circle cx="140.57" cy="509.72" r="0.45"/><circle cx="147.85" cy="515.67" r="0.45"/><circle cx="152.85" cy="516.93" r="0.45"/><circle cx="142.07" cy="518.59" r="0.45"/><circle cx="157.21" cy="509.19" r="0.45"/><circle cx="152.29" cy="507.07" r="0.45"/><circle cx="139.07" cy="512.07" r="0.45"/><circle cx="147.61" cy="521.26" r="0.45"/><circle cx="151.34" cy="512.4" r="0.45"/><circle cx="154.23" cy="505.23" r="0.45"/><circle cx="157.59" cy="510.84" r="0.45"/><circle cx="154.59" cy="512.21" r="0.45"/><circle cx="162.05" cy="504.91" r="0.45"/><circle cx="154.72" cy="513.87" r="0.45"/><circle cx="143.31" cy="520" r="0.45"/><circle cx="151.82" cy="504.19" r="0.45"/><circle cx="145.43" cy="502.97" r="0.45"/><circle cx="147.85" cy="505.16" r="0.45"/><circle cx="149.55" cy="502.34" r="0.45"/><circle cx="152.52" cy="508.71" r="0.45"/><circle cx="149.54" cy="510.77" r="0.45"/><circle cx="148.08" cy="504.01" r="0.45"/><circle cx="140.32" cy="511.4" r="0.45"/></g>
<path d="M139.36,512.25 C139.1,510.81 139.57,509.05 140.46,507.99 C141.35,506.94 142.99,506.33 144.71,505.93 C146.43,505.52 148.86,505.42 150.78,505.56 C152.71,505.7 154.83,506.11 156.25,506.78 C157.67,507.45 159.03,508.56 159.29,509.57 C159.55,510.58 158.84,511.84 157.83,512.85 C156.82,513.87 155,514.94 153.21,515.65 C151.43,516.36 149,516.94 147.14,517.1 C145.28,517.27 143.33,517.43 142.04,516.62 C140.74,515.81 139.63,513.68 139.36,512.25Z" fill="#666" fill-opacity="0.35" filter="url(#sb2)"/>
<path d="M141.89,511.93 C141.69,510.87 142.04,509.56 142.7,508.78 C143.36,508 144.57,507.55 145.85,507.25 C147.12,506.95 148.92,506.88 150.35,506.98 C151.78,507.09 153.35,507.38 154.4,507.88 C155.45,508.38 156.46,509.2 156.65,509.95 C156.84,510.7 156.32,511.63 155.57,512.38 C154.82,513.13 153.47,513.92 152.15,514.45 C150.83,514.97 149.03,515.41 147.65,515.53 C146.27,515.65 144.83,515.77 143.87,515.17 C142.91,514.57 142.08,513 141.89,511.93Z" fill="#000" filter="url(#sb)"/>
<g fill="#999" fill-opacity="0.5"><circle cx="157.62" cy="487.15" r="0.4"/><circle cx="152.89" cy="488.94" r="0.4"/><circle cx="161.15" cy="485.18" r="0.4"/><circle cx="151.02" cy="491.16" r="0.4"/><circle cx="150.83" cy="485.84" r="0.4"/><circle cx="163.11" cy="497.87" r="0.4"/><circle cx="154.34" cy="488.62" r="0.4"/><circle cx="144.72" cy="485.43" r="0.4"/><circle cx="143.52" cy="491.62" r="0.4"/><circle cx="156.84" cy="480.5" r="0.4"/><circle cx="167.16" cy="485.88" r="0.4"/><circle cx="164.82" cy="497.61" r="0.4"/><circle cx="168.34" cy="483.16" r="0.4"/><circle cx="152.11" cy="499.26" r="0.4"/><circle cx="139.43" cy="479.58" r="0.4"/><circle cx="156.33" cy="489.84" r="0.4"/><circle cx="167.17" cy="496.14" r="0.4"/><circle cx="154.88" cy="490.29" r="0.4"/><circle cx="160" cy="487.38" r="0.4"/><circle cx="150.01" cy="492.06" r="0.4"/><circle cx="149.81" cy="500.11" r="0.4"/><circle cx="159.73" cy="490.48" r="0.4"/><circle cx="142.12" cy="487.04" r="0.4"/><circle cx="151.33" cy="491.3" r="0.4"/></g>
<g fill="#aaa" fill-opacity="0.6"><circle cx="191.24" cy="522.15" r="0.4"/><circle cx="205.96" cy="512.84" r="0.4"/><circle cx="186.19" cy="516.1" r="0.4"/><circle cx="189.59" cy="520.64" r="0.4"/><circle cx="176.04" cy="508.84" r="0.4"/><circle cx="206.49" cy="520.88" r="0.4"/><circle cx="188.92" cy="503.92" r="0.4"/><circle cx="203.32" cy="517.65" r="0.4"/><circle cx="203.08" cy="511.28" r="0.4"/><circle cx="175.5" cy="508.17" r="0.4"/></g>
<rect x="137.1" y="472.5" width="70.2" height="52.5" fill="none" stroke="#7a7a7a" stroke-width="0.9"/>
<line x1="169.6" y1="472.5" x2="169.6" y2="525" stroke="#7a7a7a" stroke-width="0.9" />
<line x1="137.1" y1="501.3" x2="207.3" y2="501.3" stroke="#7a7a7a" stroke-width="0.9" />
<line x1="136.6" y1="525" x2="207.8" y2="525" stroke="#333" stroke-width="1.3" />
<line x1="137.1" y1="472.5" x2="137.1" y2="525" stroke="#555" stroke-width="1" />
<text x="138.7" y="477.1" font-size="4.6" font-weight="bold" fill="#111" stroke="#111" stroke-width="0.12" >0.7%</text>
<text x="171.2" y="477.1" font-size="4.6" font-weight="bold" fill="#111" stroke="#111" stroke-width="0.12" >2.6%</text>
<text x="168.8" y="522.6" font-size="4.6" text-anchor="end" font-weight="bold" fill="#111" stroke="#111" stroke-width="0.12" >96.6%</text>
<text x="206.5" y="522.6" font-size="4.6" text-anchor="end" font-weight="bold" fill="#111" stroke="#111" stroke-width="0.12" >0.1%</text>
<text x="160.6" y="494.8" font-size="3.8" fill="#444" >Q1</text>
<text x="171.6" y="494.8" font-size="3.8" fill="#444" >Q2</text>
<text x="160.6" y="511.8" font-size="3.8" fill="#444" >Q3</text>
<text x="171.6" y="511.8" font-size="3.8" fill="#444" >Q4</text>
<text x="125.7" y="479.3" font-size="5.2" fill="#222" stroke="#222" stroke-width="0.15" >10</text>
<text x="131.3" y="476.3" font-size="3.6" fill="#222" stroke="#222" stroke-width="0.15" >5</text>
<line x1="135.3" y1="477.3" x2="137.1" y2="477.3" stroke="#333" stroke-width="0.8" />
<text x="125.7" y="490.7" font-size="5.2" fill="#222" stroke="#222" stroke-width="0.15" >10</text>
<text x="131.3" y="487.7" font-size="3.6" fill="#222" stroke="#222" stroke-width="0.15" >4</text>
<line x1="135.3" y1="488.7" x2="137.1" y2="488.7" stroke="#333" stroke-width="0.8" />
<text x="125.7" y="502.3" font-size="5.2" fill="#222" stroke="#222" stroke-width="0.15" >10</text>
<text x="131.3" y="499.3" font-size="3.6" fill="#222" stroke="#222" stroke-width="0.15" >3</text>
<line x1="135.3" y1="500.3" x2="137.1" y2="500.3" stroke="#333" stroke-width="0.8" />
<text x="125.7" y="513.6" font-size="5.2" fill="#222" stroke="#222" stroke-width="0.15" >10</text>
<text x="131.3" y="510.6" font-size="3.6" fill="#222" stroke="#222" stroke-width="0.15" >2</text>
<line x1="135.3" y1="511.6" x2="137.1" y2="511.6" stroke="#333" stroke-width="0.8" />
<text x="130.1" y="526.5" font-size="5.2" text-anchor="end" fill="#222" >0</text>
<text x="144.1" y="534.2" font-size="5.2" fill="#222" stroke="#222" stroke-width="0.15" >0</text>
<text x="150.1" y="534.2" font-size="5.2" fill="#222" stroke="#222" stroke-width="0.15" >10</text>
<text x="155.7" y="531.2" font-size="3.6" fill="#222" stroke="#222" stroke-width="0.15" >2</text>
<text x="166" y="534.2" font-size="5.2" fill="#222" stroke="#222" stroke-width="0.15" >10</text>
<text x="171.6" y="531.2" font-size="3.6" fill="#222" stroke="#222" stroke-width="0.15" >3</text>
<text x="182.6" y="534.2" font-size="5.2" fill="#222" stroke="#222" stroke-width="0.15" >10</text>
<text x="188.2" y="531.2" font-size="3.6" fill="#222" stroke="#222" stroke-width="0.15" >4</text>
<text x="200.3" y="534.2" font-size="5.2" fill="#222" stroke="#222" stroke-width="0.15" >10</text>
<text x="205.9" y="531.2" font-size="3.6" fill="#222" stroke="#222" stroke-width="0.15" >5</text>
<line x1="145.6" y1="525" x2="145.6" y2="526.8" stroke="#333" stroke-width="0.8" />
<line x1="153.1" y1="525" x2="153.1" y2="526.8" stroke="#333" stroke-width="0.8" />
<line x1="169.6" y1="525" x2="169.6" y2="526.8" stroke="#333" stroke-width="0.8" />
<line x1="185.6" y1="525" x2="185.6" y2="526.8" stroke="#333" stroke-width="0.8" />
<line x1="203.8" y1="525" x2="203.8" y2="526.8" stroke="#333" stroke-width="0.8" />
<text x="140.8" y="536.5" font-size="4.6" text-anchor="end" fill="#444" >-65</text>
<g fill="#e8a8f0" fill-opacity="0.5"><circle cx="63.58" cy="563.23" r="0.55"/><circle cx="57.08" cy="554.78" r="0.55"/><circle cx="65.96" cy="565.8" r="0.55"/><circle cx="66.09" cy="551.11" r="0.55"/><circle cx="61.57" cy="570.64" r="0.55"/><circle cx="59.47" cy="568.1" r="0.55"/><circle cx="53.38" cy="557.98" r="0.55"/><circle cx="70.23" cy="565.36" r="0.55"/><circle cx="66.73" cy="555.15" r="0.55"/><circle cx="63.31" cy="564.5" r="0.55"/><circle cx="58.65" cy="566.95" r="0.55"/><circle cx="64.85" cy="560.77" r="0.55"/><circle cx="55.74" cy="554.11" r="0.55"/><circle cx="68.57" cy="552.79" r="0.55"/><circle cx="55.31" cy="554.47" r="0.55"/><circle cx="63.8" cy="571.57" r="0.55"/><circle cx="65.62" cy="571.13" r="0.55"/><circle cx="54.55" cy="550.33" r="0.55"/><circle cx="68.79" cy="558.46" r="0.55"/><circle cx="67.68" cy="559.27" r="0.55"/><circle cx="56.71" cy="556.99" r="0.55"/><circle cx="55.3" cy="573.68" r="0.55"/><circle cx="65" cy="559.14" r="0.55"/><circle cx="62.34" cy="560.1" r="0.55"/><circle cx="54.4" cy="573.33" r="0.55"/><circle cx="65.01" cy="575.14" r="0.55"/><circle cx="62.14" cy="566.25" r="0.55"/><circle cx="58.31" cy="551.15" r="0.55"/><circle cx="72.01" cy="572.39" r="0.55"/><circle cx="59.63" cy="573.55" r="0.55"/><circle cx="69.7" cy="557.96" r="0.55"/><circle cx="65.41" cy="575.15" r="0.55"/><circle cx="63.26" cy="574.88" r="0.55"/><circle cx="58.18" cy="560.21" r="0.55"/><circle cx="67.74" cy="555.8" r="0.55"/><circle cx="59.51" cy="572.93" r="0.55"/><circle cx="63.04" cy="570.77" r="0.55"/><circle cx="58.19" cy="554.54" r="0.55"/><circle cx="60.5" cy="554.89" r="0.55"/><circle cx="72.83" cy="557.62" r="0.55"/><circle cx="64.59" cy="553.01" r="0.55"/><circle cx="64.03" cy="560.1" r="0.55"/><circle cx="61.4" cy="551.71" r="0.55"/><circle cx="55.78" cy="571.64" r="0.55"/><circle cx="60.36" cy="556.42" r="0.55"/><circle cx="57.14" cy="557.43" r="0.55"/><circle cx="58.07" cy="550.91" r="0.55"/><circle cx="66.65" cy="558.95" r="0.55"/><circle cx="56.43" cy="568.49" r="0.55"/><circle cx="55.16" cy="557.07" r="0.55"/><circle cx="70.08" cy="553.35" r="0.55"/><circle cx="62.21" cy="571.91" r="0.55"/><circle cx="69.48" cy="554.17" r="0.55"/><circle cx="60.39" cy="568.93" r="0.55"/><circle cx="60.88" cy="575.11" r="0.55"/><circle cx="57.48" cy="574.91" r="0.55"/><circle cx="63.45" cy="555.95" r="0.55"/><circle cx="62.4" cy="553.43" r="0.55"/><circle cx="67.5" cy="556.83" r="0.55"/><circle cx="71.38" cy="565.39" r="0.55"/><circle cx="60.7" cy="556.45" r="0.55"/><circle cx="65.52" cy="555.57" r="0.55"/><circle cx="70.84" cy="553.22" r="0.55"/><circle cx="63.61" cy="564.22" r="0.55"/><circle cx="58.74" cy="570.22" r="0.55"/><circle cx="61.03" cy="567.23" r="0.55"/><circle cx="64.71" cy="558.14" r="0.55"/><circle cx="61.14" cy="552.25" r="0.55"/><circle cx="56.86" cy="572.3" r="0.55"/><circle cx="59.75" cy="567.36" r="0.55"/><circle cx="55.49" cy="564.72" r="0.55"/><circle cx="60.57" cy="563.11" r="0.55"/><circle cx="59.27" cy="551.73" r="0.55"/><circle cx="59.56" cy="555.93" r="0.55"/><circle cx="55.84" cy="568.78" r="0.55"/><circle cx="58.98" cy="560.57" r="0.55"/><circle cx="71.57" cy="570.3" r="0.55"/><circle cx="71.04" cy="572.57" r="0.55"/><circle cx="55.96" cy="557.24" r="0.55"/><circle cx="53.89" cy="567.81" r="0.55"/><circle cx="66.64" cy="559.21" r="0.55"/><circle cx="61.59" cy="567.27" r="0.55"/><circle cx="67.35" cy="556.51" r="0.55"/><circle cx="70.32" cy="559.23" r="0.55"/><circle cx="65.94" cy="554.76" r="0.55"/><circle cx="55.62" cy="573.91" r="0.55"/><circle cx="68.05" cy="568.67" r="0.55"/><circle cx="54.11" cy="551.05" r="0.55"/><circle cx="56.56" cy="555.19" r="0.55"/><circle cx="59.39" cy="559.98" r="0.55"/><circle cx="54.09" cy="558.15" r="0.55"/><circle cx="66.13" cy="554.71" r="0.55"/><circle cx="70.17" cy="564.94" r="0.55"/><circle cx="67.7" cy="556.67" r="0.55"/><circle cx="62.04" cy="567.93" r="0.55"/><circle cx="60.32" cy="550.03" r="0.55"/><circle cx="70.07" cy="570.34" r="0.55"/><circle cx="59.06" cy="551.13" r="0.55"/><circle cx="70.47" cy="565.91" r="0.55"/><circle cx="54.25" cy="556.4" r="0.55"/><circle cx="55.53" cy="570.74" r="0.55"/><circle cx="57.52" cy="573.96" r="0.55"/><circle cx="68.37" cy="552.26" r="0.55"/><circle cx="67.26" cy="560.31" r="0.55"/><circle cx="68.33" cy="571.71" r="0.55"/><circle cx="58.95" cy="552.36" r="0.55"/><circle cx="72.32" cy="561.11" r="0.55"/><circle cx="72" cy="568.12" r="0.55"/></g>
<g fill="#d080e0" fill-opacity="0.45"><circle cx="62.83" cy="548.8" r="0.5"/><circle cx="60.64" cy="555.86" r="0.5"/><circle cx="68.41" cy="564.37" r="0.5"/><circle cx="59.53" cy="564.39" r="0.5"/><circle cx="64.95" cy="559.52" r="0.5"/><circle cx="63.38" cy="559.06" r="0.5"/><circle cx="61.45" cy="549.75" r="0.5"/><circle cx="62.99" cy="569.15" r="0.5"/><circle cx="68.19" cy="559.23" r="0.5"/><circle cx="60.75" cy="559.66" r="0.5"/><circle cx="66.37" cy="563.23" r="0.5"/><circle cx="61.31" cy="563.3" r="0.5"/><circle cx="62.6" cy="564.27" r="0.5"/><circle cx="61.91" cy="551.67" r="0.5"/><circle cx="63.5" cy="565.82" r="0.5"/><circle cx="59.52" cy="560.32" r="0.5"/><circle cx="66.3" cy="558.63" r="0.5"/><circle cx="61.08" cy="573.87" r="0.5"/><circle cx="66.13" cy="567.51" r="0.5"/><circle cx="60.07" cy="571.34" r="0.5"/><circle cx="57.65" cy="557.72" r="0.5"/><circle cx="65.82" cy="569.42" r="0.5"/><circle cx="60.13" cy="556.8" r="0.5"/><circle cx="63.97" cy="548.8" r="0.5"/><circle cx="65.48" cy="564.54" r="0.5"/><circle cx="61.78" cy="564.4" r="0.5"/><circle cx="65.94" cy="562.95" r="0.5"/><circle cx="65.08" cy="570.56" r="0.5"/><circle cx="61.68" cy="562.02" r="0.5"/><circle cx="61.52" cy="567.52" r="0.5"/><circle cx="61.92" cy="563.99" r="0.5"/><circle cx="63.76" cy="561.42" r="0.5"/><circle cx="69.12" cy="560.46" r="0.5"/><circle cx="68.11" cy="566.2" r="0.5"/><circle cx="67.77" cy="559.96" r="0.5"/><circle cx="66.44" cy="565.76" r="0.5"/><circle cx="61.22" cy="562.69" r="0.5"/><circle cx="62.86" cy="560.78" r="0.5"/><circle cx="67.7" cy="556.47" r="0.5"/><circle cx="57.61" cy="550.06" r="0.5"/><circle cx="61.77" cy="556.95" r="0.5"/><circle cx="63.35" cy="564.55" r="0.5"/><circle cx="69.25" cy="562.94" r="0.5"/><circle cx="64.87" cy="556.39" r="0.5"/><circle cx="65.26" cy="569.52" r="0.5"/><circle cx="67.83" cy="548.75" r="0.5"/><circle cx="66.31" cy="570.93" r="0.5"/><circle cx="66.09" cy="551.63" r="0.5"/><circle cx="62.26" cy="564.68" r="0.5"/><circle cx="64.7" cy="555.92" r="0.5"/><circle cx="60.3" cy="567.05" r="0.5"/><circle cx="58.8" cy="569.98" r="0.5"/><circle cx="63.37" cy="562.88" r="0.5"/><circle cx="58.8" cy="557.27" r="0.5"/><circle cx="65.62" cy="551.8" r="0.5"/><circle cx="70.28" cy="552.22" r="0.5"/><circle cx="59.18" cy="561.27" r="0.5"/><circle cx="64.92" cy="565.58" r="0.5"/><circle cx="62.05" cy="559.7" r="0.5"/><circle cx="62.51" cy="557.41" r="0.5"/><circle cx="54.62" cy="567.01" r="0.5"/><circle cx="64.14" cy="561.99" r="0.5"/><circle cx="61.19" cy="562.57" r="0.5"/><circle cx="63.26" cy="560.52" r="0.5"/><circle cx="67.02" cy="550.24" r="0.5"/><circle cx="64.15" cy="554.34" r="0.5"/><circle cx="62.23" cy="570.36" r="0.5"/><circle cx="59.66" cy="560.38" r="0.5"/><circle cx="61.31" cy="566.93" r="0.5"/><circle cx="60.01" cy="550.49" r="0.5"/><circle cx="65.03" cy="558.79" r="0.5"/><circle cx="62.23" cy="567.75" r="0.5"/><circle cx="60.32" cy="558.67" r="0.5"/><circle cx="63.8" cy="563.58" r="0.5"/><circle cx="61.56" cy="567.46" r="0.5"/><circle cx="70.83" cy="558.45" r="0.5"/><circle cx="69.58" cy="547.83" r="0.5"/><circle cx="68.03" cy="558.85" r="0.5"/><circle cx="63.76" cy="558.88" r="0.5"/><circle cx="61.16" cy="553.03" r="0.5"/><circle cx="61.97" cy="569.09" r="0.5"/><circle cx="67.13" cy="558.83" r="0.5"/><circle cx="61.53" cy="556.62" r="0.5"/><circle cx="59.27" cy="572.26" r="0.5"/><circle cx="65.53" cy="561.73" r="0.5"/><circle cx="61.65" cy="554.62" r="0.5"/><circle cx="67.72" cy="565.87" r="0.5"/><circle cx="60.1" cy="567.17" r="0.5"/><circle cx="59.58" cy="565.01" r="0.5"/><circle cx="60.07" cy="558.41" r="0.5"/><circle cx="64.96" cy="563.7" r="0.5"/><circle cx="66.7" cy="555.78" r="0.5"/><circle cx="68.6" cy="569.39" r="0.5"/><circle cx="63.27" cy="563.9" r="0.5"/><circle cx="60.69" cy="560.05" r="0.5"/><circle cx="58.86" cy="561.56" r="0.5"/><circle cx="63.97" cy="569.38" r="0.5"/><circle cx="66.48" cy="566.08" r="0.5"/><circle cx="62.08" cy="559.6" r="0.5"/><circle cx="62.15" cy="562.39" r="0.5"/><circle cx="56.81" cy="565.81" r="0.5"/><circle cx="58.03" cy="557.78" r="0.5"/><circle cx="63.37" cy="557.8" r="0.5"/><circle cx="68.89" cy="560.39" r="0.5"/><circle cx="68.58" cy="568.32" r="0.5"/><circle cx="61.63" cy="563.5" r="0.5"/><circle cx="67.66" cy="558.92" r="0.5"/><circle cx="63.6" cy="557.52" r="0.5"/><circle cx="63.5" cy="558.79" r="0.5"/><circle cx="63.58" cy="567.25" r="0.5"/><circle cx="67.98" cy="561.83" r="0.5"/><circle cx="63.98" cy="566.34" r="0.5"/><circle cx="62.33" cy="554.39" r="0.5"/><circle cx="67.03" cy="555.17" r="0.5"/><circle cx="66.43" cy="554.98" r="0.5"/><circle cx="69.45" cy="554.49" r="0.5"/><circle cx="66.15" cy="570.36" r="0.5"/><circle cx="60.07" cy="570.27" r="0.5"/><circle cx="60.53" cy="549.99" r="0.5"/><circle cx="65.73" cy="565.38" r="0.5"/><circle cx="63.12" cy="559.09" r="0.5"/><circle cx="62.03" cy="559.19" r="0.5"/><circle cx="57.29" cy="557.46" r="0.5"/><circle cx="69.35" cy="570.65" r="0.5"/><circle cx="62.09" cy="556.56" r="0.5"/><circle cx="64.63" cy="567.63" r="0.5"/><circle cx="65.73" cy="553.7" r="0.5"/><circle cx="63.84" cy="561.88" r="0.5"/><circle cx="68.13" cy="568.47" r="0.5"/><circle cx="65.06" cy="568.59" r="0.5"/><circle cx="61.97" cy="570.6" r="0.5"/><circle cx="61.87" cy="563.47" r="0.5"/><circle cx="66.39" cy="555.3" r="0.5"/><circle cx="60.94" cy="550.03" r="0.5"/><circle cx="63.85" cy="560.66" r="0.5"/><circle cx="62.2" cy="564.11" r="0.5"/><circle cx="56.19" cy="560.85" r="0.5"/><circle cx="63.59" cy="559.34" r="0.5"/><circle cx="65.97" cy="571.93" r="0.5"/><circle cx="61.8" cy="555.14" r="0.5"/><circle cx="61.27" cy="561.58" r="0.5"/><circle cx="65.27" cy="555.63" r="0.5"/><circle cx="66.66" cy="554.61" r="0.5"/><circle cx="66.08" cy="563.67" r="0.5"/><circle cx="64.86" cy="574.46" r="0.5"/><circle cx="62.41" cy="559.97" r="0.5"/><circle cx="64.9" cy="566.39" r="0.5"/><circle cx="58.8" cy="562.72" r="0.5"/><circle cx="60.81" cy="564.93" r="0.5"/><circle cx="67.9" cy="561.32" r="0.5"/><circle cx="62.94" cy="562.14" r="0.5"/><circle cx="53.37" cy="565.81" r="0.5"/><circle cx="65.19" cy="562.03" r="0.5"/><circle cx="61.97" cy="556.44" r="0.5"/><circle cx="62.7" cy="568.57" r="0.5"/><circle cx="62.96" cy="569.41" r="0.5"/><circle cx="54.66" cy="558.13" r="0.5"/><circle cx="64.22" cy="560.92" r="0.5"/><circle cx="57.72" cy="556.85" r="0.5"/><circle cx="67.5" cy="552.94" r="0.5"/><circle cx="59.97" cy="554.15" r="0.5"/><circle cx="61.45" cy="565.01" r="0.5"/><circle cx="65.3" cy="548.33" r="0.5"/><circle cx="68.2" cy="557.3" r="0.5"/><circle cx="61.32" cy="571.41" r="0.5"/><circle cx="63.03" cy="553.26" r="0.5"/><circle cx="61.15" cy="556.47" r="0.5"/><circle cx="59.91" cy="558.92" r="0.5"/><circle cx="66.25" cy="563.19" r="0.5"/><circle cx="59.97" cy="561.72" r="0.5"/><circle cx="63.41" cy="565.75" r="0.5"/><circle cx="62.2" cy="563.85" r="0.5"/><circle cx="70.38" cy="561.6" r="0.5"/><circle cx="59.66" cy="563.05" r="0.5"/><circle cx="60.6" cy="558.69" r="0.5"/><circle cx="63.93" cy="563.1" r="0.5"/><circle cx="62.34" cy="566.29" r="0.5"/><circle cx="62.65" cy="552.86" r="0.5"/><circle cx="66.25" cy="558.73" r="0.5"/><circle cx="67.38" cy="556.91" r="0.5"/><circle cx="65.22" cy="562.97" r="0.5"/><circle cx="54.24" cy="551.68" r="0.5"/><circle cx="59.54" cy="569.78" r="0.5"/><circle cx="56.96" cy="566.7" r="0.5"/><circle cx="66.97" cy="564.09" r="0.5"/><circle cx="65.57" cy="557.91" r="0.5"/><circle cx="63.26" cy="562.4" r="0.5"/><circle cx="64.71" cy="565.41" r="0.5"/><circle cx="62.61" cy="556.62" r="0.5"/><circle cx="61.41" cy="563.56" r="0.5"/><circle cx="57.72" cy="553.18" r="0.5"/><circle cx="61.92" cy="557.55" r="0.5"/><circle cx="62.15" cy="559.43" r="0.5"/><circle cx="65.91" cy="548.65" r="0.5"/><circle cx="62.27" cy="563.96" r="0.5"/><circle cx="64.94" cy="568.46" r="0.5"/><circle cx="66.85" cy="554.45" r="0.5"/></g>
<ellipse cx="65.8" cy="561" rx="4.5" ry="9" fill="#c070d8" fill-opacity="0.35" filter="url(#sb2)"/>
<g fill="#a030c8" fill-opacity="0.45"><circle cx="67.39" cy="559.2" r="0.5"/><circle cx="63.79" cy="569.25" r="0.5"/><circle cx="64.23" cy="556.4" r="0.5"/><circle cx="64.78" cy="556.41" r="0.5"/><circle cx="68.32" cy="563.05" r="0.5"/><circle cx="69.3" cy="563.21" r="0.5"/><circle cx="64.26" cy="566.64" r="0.5"/><circle cx="64.16" cy="558.51" r="0.5"/><circle cx="65.38" cy="561.21" r="0.5"/><circle cx="68.79" cy="557.74" r="0.5"/><circle cx="66.68" cy="560.85" r="0.5"/><circle cx="62.65" cy="555.1" r="0.5"/><circle cx="65.25" cy="563.18" r="0.5"/><circle cx="66.6" cy="563.58" r="0.5"/><circle cx="65.92" cy="558.58" r="0.5"/><circle cx="66.87" cy="555.59" r="0.5"/><circle cx="62.44" cy="559.21" r="0.5"/><circle cx="62.22" cy="558.22" r="0.5"/><circle cx="63.93" cy="558.01" r="0.5"/><circle cx="65.69" cy="556.68" r="0.5"/><circle cx="64.74" cy="551.77" r="0.5"/><circle cx="66.16" cy="556.25" r="0.5"/><circle cx="63.79" cy="562.31" r="0.5"/><circle cx="59.68" cy="559.05" r="0.5"/><circle cx="66.04" cy="561.56" r="0.5"/><circle cx="62.05" cy="562.24" r="0.5"/><circle cx="66.17" cy="555.75" r="0.5"/><circle cx="67.67" cy="560.73" r="0.5"/><circle cx="65.85" cy="558.57" r="0.5"/><circle cx="67.17" cy="561.53" r="0.5"/><circle cx="68.65" cy="563.44" r="0.5"/><circle cx="64.25" cy="559.79" r="0.5"/><circle cx="68.1" cy="559.03" r="0.5"/><circle cx="66.76" cy="563.82" r="0.5"/><circle cx="65.35" cy="548.41" r="0.5"/><circle cx="66.13" cy="562.16" r="0.5"/><circle cx="66.14" cy="556.89" r="0.5"/><circle cx="68.84" cy="560.27" r="0.5"/><circle cx="64.23" cy="557.12" r="0.5"/><circle cx="66.7" cy="555.09" r="0.5"/><circle cx="63.28" cy="571.83" r="0.5"/><circle cx="69.09" cy="566.71" r="0.5"/><circle cx="69.23" cy="564.22" r="0.5"/><circle cx="61.56" cy="567.47" r="0.5"/><circle cx="68.92" cy="563.66" r="0.5"/><circle cx="60.88" cy="567.73" r="0.5"/><circle cx="69.24" cy="558.33" r="0.5"/><circle cx="66.12" cy="565.21" r="0.5"/><circle cx="65.59" cy="566.95" r="0.5"/><circle cx="66" cy="564.75" r="0.5"/><circle cx="66.01" cy="552.98" r="0.5"/><circle cx="66.5" cy="568.11" r="0.5"/><circle cx="68.67" cy="570.3" r="0.5"/><circle cx="67.2" cy="557.77" r="0.5"/><circle cx="65.85" cy="550.58" r="0.5"/><circle cx="65.33" cy="565.92" r="0.5"/><circle cx="60.35" cy="562.07" r="0.5"/><circle cx="67.88" cy="568.21" r="0.5"/><circle cx="63.46" cy="557.46" r="0.5"/><circle cx="61.07" cy="555.46" r="0.5"/><circle cx="67.15" cy="572.25" r="0.5"/><circle cx="62.91" cy="568.49" r="0.5"/><circle cx="66.88" cy="558.31" r="0.5"/><circle cx="71.34" cy="547.29" r="0.5"/><circle cx="65.63" cy="562.19" r="0.5"/><circle cx="71.18" cy="570.78" r="0.5"/><circle cx="71.52" cy="561.73" r="0.5"/><circle cx="68.28" cy="568.42" r="0.5"/><circle cx="67.09" cy="562.96" r="0.5"/><circle cx="65.34" cy="558.78" r="0.5"/><circle cx="62.69" cy="571.61" r="0.5"/><circle cx="64.67" cy="549.68" r="0.5"/><circle cx="66.47" cy="560.82" r="0.5"/><circle cx="66.24" cy="570.88" r="0.5"/><circle cx="65.53" cy="559.56" r="0.5"/><circle cx="63.91" cy="560.88" r="0.5"/><circle cx="64.69" cy="562.11" r="0.5"/><circle cx="63.63" cy="571.51" r="0.5"/><circle cx="67.98" cy="565.45" r="0.5"/><circle cx="67.61" cy="565.46" r="0.5"/><circle cx="67.51" cy="568.68" r="0.5"/><circle cx="68.35" cy="568.35" r="0.5"/><circle cx="64.53" cy="560.99" r="0.5"/><circle cx="63.96" cy="566.22" r="0.5"/><circle cx="67.9" cy="558.46" r="0.5"/><circle cx="67.28" cy="575.31" r="0.5"/><circle cx="68.93" cy="554.92" r="0.5"/><circle cx="65.57" cy="564.46" r="0.5"/><circle cx="65.71" cy="563.11" r="0.5"/><circle cx="68.79" cy="562.79" r="0.5"/><circle cx="63.02" cy="564.9" r="0.5"/><circle cx="65.55" cy="561.62" r="0.5"/><circle cx="64.37" cy="553.46" r="0.5"/><circle cx="62.64" cy="559.07" r="0.5"/><circle cx="68.71" cy="554.67" r="0.5"/><circle cx="63.96" cy="563.9" r="0.5"/><circle cx="59.7" cy="568.32" r="0.5"/><circle cx="63.85" cy="564.6" r="0.5"/><circle cx="64.58" cy="562.67" r="0.5"/><circle cx="66.07" cy="560.99" r="0.5"/><circle cx="61.17" cy="552.98" r="0.5"/><circle cx="65.7" cy="568.69" r="0.5"/><circle cx="64.42" cy="563.9" r="0.5"/><circle cx="66.21" cy="563.64" r="0.5"/><circle cx="68.31" cy="552.83" r="0.5"/><circle cx="66.5" cy="560.03" r="0.5"/><circle cx="65.01" cy="556.34" r="0.5"/><circle cx="63.81" cy="555.38" r="0.5"/><circle cx="63.02" cy="574.69" r="0.5"/><circle cx="70.11" cy="561.05" r="0.5"/><circle cx="67.68" cy="555.67" r="0.5"/><circle cx="58.75" cy="551.06" r="0.5"/><circle cx="66.16" cy="568.85" r="0.5"/><circle cx="65.69" cy="555.54" r="0.5"/><circle cx="65.19" cy="555.56" r="0.5"/><circle cx="62.27" cy="559.73" r="0.5"/><circle cx="64.79" cy="556.57" r="0.5"/><circle cx="63.56" cy="555.92" r="0.5"/><circle cx="66.4" cy="568.6" r="0.5"/><circle cx="65.27" cy="573.2" r="0.5"/><circle cx="61.7" cy="562.5" r="0.5"/><circle cx="62.87" cy="560.12" r="0.5"/><circle cx="66.06" cy="564.05" r="0.5"/><circle cx="68.66" cy="557.97" r="0.5"/><circle cx="62.65" cy="559.97" r="0.5"/><circle cx="66.54" cy="557.19" r="0.5"/><circle cx="68.06" cy="570.19" r="0.5"/><circle cx="62.2" cy="562.98" r="0.5"/><circle cx="68.38" cy="550.51" r="0.5"/><circle cx="66.32" cy="559.77" r="0.5"/><circle cx="62.19" cy="568.18" r="0.5"/><circle cx="66.35" cy="558.39" r="0.5"/><circle cx="66.92" cy="564.51" r="0.5"/><circle cx="67.75" cy="564.17" r="0.5"/><circle cx="66.84" cy="554.58" r="0.5"/><circle cx="64.73" cy="561.7" r="0.5"/><circle cx="58.79" cy="572.63" r="0.5"/><circle cx="64.84" cy="555.24" r="0.5"/><circle cx="61.19" cy="562.36" r="0.5"/><circle cx="65.88" cy="557.81" r="0.5"/><circle cx="64.74" cy="556.15" r="0.5"/><circle cx="63.9" cy="560.47" r="0.5"/><circle cx="64.17" cy="564.7" r="0.5"/><circle cx="65.44" cy="561.72" r="0.5"/><circle cx="66.83" cy="567.94" r="0.5"/><circle cx="67.32" cy="562.25" r="0.5"/><circle cx="65.39" cy="556.6" r="0.5"/><circle cx="64.93" cy="564.72" r="0.5"/><circle cx="66.37" cy="558.88" r="0.5"/><circle cx="62.43" cy="552.63" r="0.5"/><circle cx="66.62" cy="566.61" r="0.5"/><circle cx="66.75" cy="553.51" r="0.5"/><circle cx="65.26" cy="562.21" r="0.5"/><circle cx="63.47" cy="562.89" r="0.5"/><circle cx="65.29" cy="556.44" r="0.5"/><circle cx="62.65" cy="565.43" r="0.5"/><circle cx="66.7" cy="556.16" r="0.5"/><circle cx="63.23" cy="565.86" r="0.5"/><circle cx="67.31" cy="559.34" r="0.5"/><circle cx="69.84" cy="559.42" r="0.5"/><circle cx="63.12" cy="566.96" r="0.5"/><circle cx="65.32" cy="562.88" r="0.5"/><circle cx="65.9" cy="555.53" r="0.5"/><circle cx="62.79" cy="559.94" r="0.5"/><circle cx="69.36" cy="555.53" r="0.5"/><circle cx="69.24" cy="562.2" r="0.5"/><circle cx="62.98" cy="562.45" r="0.5"/><circle cx="67.24" cy="556.1" r="0.5"/><circle cx="60.41" cy="562.94" r="0.5"/><circle cx="62.99" cy="563.4" r="0.5"/><circle cx="60.96" cy="560.23" r="0.5"/><circle cx="63.75" cy="552.93" r="0.5"/><circle cx="65.19" cy="561.93" r="0.5"/><circle cx="64.39" cy="554.57" r="0.5"/><circle cx="66.34" cy="551.47" r="0.5"/><circle cx="67.15" cy="563.67" r="0.5"/><circle cx="70.04" cy="565.81" r="0.5"/><circle cx="66.7" cy="562.44" r="0.5"/><circle cx="65.87" cy="553.78" r="0.5"/><circle cx="69.5" cy="563.87" r="0.5"/><circle cx="65.08" cy="554.76" r="0.5"/><circle cx="69.55" cy="563.9" r="0.5"/><circle cx="62.8" cy="564.66" r="0.5"/><circle cx="70.59" cy="560.88" r="0.5"/><circle cx="66.81" cy="558.74" r="0.5"/><circle cx="64.21" cy="566.84" r="0.5"/><circle cx="65.49" cy="565.32" r="0.5"/><circle cx="65.03" cy="564.96" r="0.5"/><circle cx="67.89" cy="555.47" r="0.5"/><circle cx="63.09" cy="560.6" r="0.5"/><circle cx="67.9" cy="562.51" r="0.5"/><circle cx="68.93" cy="553.52" r="0.5"/><circle cx="67.04" cy="557.62" r="0.5"/><circle cx="66.05" cy="562.75" r="0.5"/><circle cx="63.35" cy="559.76" r="0.5"/><circle cx="62.86" cy="562.45" r="0.5"/><circle cx="63.65" cy="558.32" r="0.5"/><circle cx="66.35" cy="557.45" r="0.5"/><circle cx="68.7" cy="557.54" r="0.5"/><circle cx="67.94" cy="562.54" r="0.5"/><circle cx="63.19" cy="559.81" r="0.5"/><circle cx="63.69" cy="559.04" r="0.5"/><circle cx="65.12" cy="570.88" r="0.5"/><circle cx="64.74" cy="569.52" r="0.5"/><circle cx="66.93" cy="553.9" r="0.5"/><circle cx="59.97" cy="564.68" r="0.5"/><circle cx="60.78" cy="564.9" r="0.5"/><circle cx="68.39" cy="563.12" r="0.5"/><circle cx="65.27" cy="559.64" r="0.5"/><circle cx="66.45" cy="559.36" r="0.5"/><circle cx="64.45" cy="558.99" r="0.5"/><circle cx="68.75" cy="557.63" r="0.5"/><circle cx="66.76" cy="554.75" r="0.5"/><circle cx="64.01" cy="553.55" r="0.5"/><circle cx="65.3" cy="564.7" r="0.5"/><circle cx="66.57" cy="558.33" r="0.5"/><circle cx="67.34" cy="559.12" r="0.5"/><circle cx="66.74" cy="562.48" r="0.5"/><circle cx="67.16" cy="547.57" r="0.5"/><circle cx="62.52" cy="565.19" r="0.5"/><circle cx="65.53" cy="573.16" r="0.5"/><circle cx="65.21" cy="558.01" r="0.5"/><circle cx="69.56" cy="564.01" r="0.5"/><circle cx="70.58" cy="563.76" r="0.5"/><circle cx="65.29" cy="564.92" r="0.5"/><circle cx="63.82" cy="558.58" r="0.5"/><circle cx="64.4" cy="559.8" r="0.5"/><circle cx="67.76" cy="558.39" r="0.5"/><circle cx="66.61" cy="558.3" r="0.5"/><circle cx="65.28" cy="561.91" r="0.5"/><circle cx="63.09" cy="566.49" r="0.5"/><circle cx="66.34" cy="567.94" r="0.5"/><circle cx="68.22" cy="564.47" r="0.5"/><circle cx="65.42" cy="555.12" r="0.5"/><circle cx="65.25" cy="558.51" r="0.5"/><circle cx="66.43" cy="558.48" r="0.5"/><circle cx="68.75" cy="558.46" r="0.5"/><circle cx="65.19" cy="566.01" r="0.5"/><circle cx="65.81" cy="554.44" r="0.5"/><circle cx="66.84" cy="559.94" r="0.5"/><circle cx="60.63" cy="562.07" r="0.5"/><circle cx="63.15" cy="556.97" r="0.5"/><circle cx="67.01" cy="562.62" r="0.5"/><circle cx="65.07" cy="572.74" r="0.5"/><circle cx="66.85" cy="557.68" r="0.5"/><circle cx="66.39" cy="560.34" r="0.5"/><circle cx="60.27" cy="552.48" r="0.5"/><circle cx="62.31" cy="572.17" r="0.5"/><circle cx="65.34" cy="559.51" r="0.5"/><circle cx="64.38" cy="566.3" r="0.5"/><circle cx="65.87" cy="570.22" r="0.5"/><circle cx="67.78" cy="569.89" r="0.5"/><circle cx="65.51" cy="563.03" r="0.5"/><circle cx="64.71" cy="560.09" r="0.5"/><circle cx="61.46" cy="557.86" r="0.5"/><circle cx="63.41" cy="557.48" r="0.5"/><circle cx="68.85" cy="562.41" r="0.5"/><circle cx="68.87" cy="565.63" r="0.5"/><circle cx="68.11" cy="566.42" r="0.5"/><circle cx="64.28" cy="565.33" r="0.5"/><circle cx="64.99" cy="558.14" r="0.5"/><circle cx="68.8" cy="572.68" r="0.5"/><circle cx="63.35" cy="570.38" r="0.5"/><circle cx="67.88" cy="556.43" r="0.5"/><circle cx="66.48" cy="563" r="0.5"/><circle cx="66.74" cy="559.08" r="0.5"/><circle cx="62.58" cy="561.17" r="0.5"/><circle cx="67.96" cy="565.24" r="0.5"/><circle cx="67.46" cy="566.95" r="0.5"/><circle cx="63.32" cy="560.77" r="0.5"/><circle cx="66.65" cy="566.39" r="0.5"/><circle cx="66.19" cy="563.8" r="0.5"/><circle cx="66.13" cy="572.32" r="0.5"/><circle cx="60.33" cy="560.87" r="0.5"/><circle cx="72" cy="562.27" r="0.5"/><circle cx="61.21" cy="561.72" r="0.5"/><circle cx="62.21" cy="557.34" r="0.5"/><circle cx="66.36" cy="570.25" r="0.5"/><circle cx="66.96" cy="564.61" r="0.5"/><circle cx="68.35" cy="562.08" r="0.5"/><circle cx="63.65" cy="560.47" r="0.5"/><circle cx="66.64" cy="559.51" r="0.5"/><circle cx="64.13" cy="559.06" r="0.5"/><circle cx="62.04" cy="555.47" r="0.5"/><circle cx="65.57" cy="559.05" r="0.5"/><circle cx="65.89" cy="568.57" r="0.5"/><circle cx="66.55" cy="560.83" r="0.5"/><circle cx="62.86" cy="555.19" r="0.5"/><circle cx="66.74" cy="556.29" r="0.5"/><circle cx="66.87" cy="555.21" r="0.5"/><circle cx="66.14" cy="560.61" r="0.5"/><circle cx="68.29" cy="558.89" r="0.5"/><circle cx="64.87" cy="562.33" r="0.5"/></g>
<ellipse cx="86.4" cy="560" rx="12" ry="10" fill="#6a6ae0" fill-opacity="0.35" filter="url(#sb2)"/>
<g fill="#4848d8" fill-opacity="0.45"><circle cx="81.4" cy="568.22" r="0.5"/><circle cx="92.03" cy="552.96" r="0.5"/><circle cx="83.84" cy="552.68" r="0.5"/><circle cx="80.26" cy="554.75" r="0.5"/><circle cx="83.51" cy="574.57" r="0.5"/><circle cx="99.83" cy="569.74" r="0.5"/><circle cx="87.15" cy="562.03" r="0.5"/><circle cx="94.49" cy="572.79" r="0.5"/><circle cx="93.81" cy="565.67" r="0.5"/><circle cx="80.28" cy="565.38" r="0.5"/><circle cx="96.12" cy="569.61" r="0.5"/><circle cx="77.66" cy="567.8" r="0.5"/><circle cx="83.96" cy="553.25" r="0.5"/><circle cx="99.06" cy="566.63" r="0.5"/><circle cx="93.67" cy="552.54" r="0.5"/><circle cx="95.7" cy="573.55" r="0.5"/><circle cx="97.57" cy="568.52" r="0.5"/><circle cx="95.8" cy="570.02" r="0.5"/><circle cx="89.86" cy="560.41" r="0.5"/><circle cx="95.62" cy="569.55" r="0.5"/><circle cx="96.74" cy="556.83" r="0.5"/><circle cx="98.94" cy="562.93" r="0.5"/><circle cx="98.58" cy="552.03" r="0.5"/><circle cx="99.13" cy="569.63" r="0.5"/><circle cx="81.57" cy="570.97" r="0.5"/><circle cx="81.09" cy="554.19" r="0.5"/><circle cx="86.62" cy="555.2" r="0.5"/><circle cx="87.47" cy="572.79" r="0.5"/><circle cx="92.19" cy="567.61" r="0.5"/><circle cx="85" cy="569.54" r="0.5"/><circle cx="94.84" cy="566.89" r="0.5"/><circle cx="98.47" cy="570.64" r="0.5"/><circle cx="85.35" cy="551.28" r="0.5"/><circle cx="91.39" cy="570.91" r="0.5"/><circle cx="83.72" cy="564.59" r="0.5"/><circle cx="95.89" cy="569.78" r="0.5"/><circle cx="75.51" cy="561.81" r="0.5"/><circle cx="75.8" cy="551.9" r="0.5"/><circle cx="95.3" cy="559.97" r="0.5"/><circle cx="90.22" cy="560.99" r="0.5"/><circle cx="83.62" cy="554.6" r="0.5"/><circle cx="84.07" cy="571.13" r="0.5"/><circle cx="90.57" cy="556.65" r="0.5"/><circle cx="77.56" cy="556.1" r="0.5"/><circle cx="92.58" cy="560.58" r="0.5"/><circle cx="91.59" cy="570.15" r="0.5"/><circle cx="78.36" cy="566.89" r="0.5"/><circle cx="76.42" cy="570.56" r="0.5"/><circle cx="79.91" cy="556.11" r="0.5"/><circle cx="98.86" cy="558.49" r="0.5"/><circle cx="80.89" cy="572.31" r="0.5"/><circle cx="90.35" cy="572.42" r="0.5"/><circle cx="85.06" cy="562.09" r="0.5"/><circle cx="98.82" cy="562.28" r="0.5"/><circle cx="99.62" cy="553.96" r="0.5"/><circle cx="95.75" cy="553.25" r="0.5"/><circle cx="88.32" cy="549.01" r="0.5"/><circle cx="79.7" cy="573.76" r="0.5"/><circle cx="86.54" cy="570.21" r="0.5"/><circle cx="81.54" cy="558.23" r="0.5"/><circle cx="77.87" cy="563.48" r="0.5"/><circle cx="96.53" cy="562.46" r="0.5"/><circle cx="84.63" cy="573.33" r="0.5"/><circle cx="97.3" cy="566.46" r="0.5"/><circle cx="77.26" cy="565.35" r="0.5"/><circle cx="86.28" cy="574.1" r="0.5"/><circle cx="84.26" cy="566.32" r="0.5"/><circle cx="90.88" cy="558.85" r="0.5"/><circle cx="88.19" cy="566.73" r="0.5"/><circle cx="97.63" cy="562.05" r="0.5"/><circle cx="84.31" cy="574.58" r="0.5"/><circle cx="76.8" cy="570.87" r="0.5"/><circle cx="92.15" cy="563.6" r="0.5"/><circle cx="86.37" cy="568.68" r="0.5"/><circle cx="97.23" cy="568.1" r="0.5"/><circle cx="93.77" cy="549.92" r="0.5"/><circle cx="83.37" cy="552.59" r="0.5"/><circle cx="98.75" cy="572.36" r="0.5"/><circle cx="78.94" cy="564.39" r="0.5"/><circle cx="89.53" cy="550.22" r="0.5"/><circle cx="85.01" cy="568.58" r="0.5"/><circle cx="91.12" cy="556.36" r="0.5"/><circle cx="94.08" cy="556.63" r="0.5"/><circle cx="88.74" cy="560.02" r="0.5"/><circle cx="99.36" cy="566" r="0.5"/><circle cx="95.12" cy="566.72" r="0.5"/><circle cx="84.72" cy="574.23" r="0.5"/><circle cx="92.79" cy="567.1" r="0.5"/><circle cx="82.2" cy="553.24" r="0.5"/><circle cx="89.49" cy="570.64" r="0.5"/><circle cx="94.84" cy="558.1" r="0.5"/><circle cx="78.83" cy="562.52" r="0.5"/><circle cx="96.9" cy="553.25" r="0.5"/><circle cx="93.49" cy="553.47" r="0.5"/><circle cx="83.04" cy="550.4" r="0.5"/><circle cx="82.69" cy="559.03" r="0.5"/><circle cx="99.09" cy="574.21" r="0.5"/><circle cx="79.99" cy="557.11" r="0.5"/><circle cx="98.52" cy="554.17" r="0.5"/><circle cx="83.26" cy="560.48" r="0.5"/><circle cx="78.06" cy="555.82" r="0.5"/><circle cx="85.05" cy="559.1" r="0.5"/><circle cx="99.01" cy="555.99" r="0.5"/><circle cx="80.4" cy="572.81" r="0.5"/><circle cx="86.43" cy="570.93" r="0.5"/><circle cx="91.01" cy="569.4" r="0.5"/><circle cx="83.11" cy="552.98" r="0.5"/><circle cx="93.95" cy="561.32" r="0.5"/><circle cx="89.09" cy="566.57" r="0.5"/><circle cx="93.84" cy="556.22" r="0.5"/><circle cx="84.29" cy="573.04" r="0.5"/><circle cx="88.37" cy="556.56" r="0.5"/><circle cx="90.84" cy="555.8" r="0.5"/><circle cx="94.3" cy="550.08" r="0.5"/><circle cx="95.65" cy="563.84" r="0.5"/><circle cx="84.06" cy="573.63" r="0.5"/><circle cx="81.91" cy="555.38" r="0.5"/><circle cx="77.11" cy="563.37" r="0.5"/><circle cx="93.87" cy="566.77" r="0.5"/><circle cx="85.51" cy="570.16" r="0.5"/><circle cx="78.13" cy="557.04" r="0.5"/><circle cx="91.2" cy="574.34" r="0.5"/><circle cx="90.93" cy="567.13" r="0.5"/><circle cx="94.38" cy="559.34" r="0.5"/><circle cx="98.44" cy="568.45" r="0.5"/><circle cx="83.77" cy="559.29" r="0.5"/><circle cx="95.14" cy="558.16" r="0.5"/><circle cx="79.95" cy="571.84" r="0.5"/><circle cx="88.43" cy="562.66" r="0.5"/><circle cx="91.8" cy="572.62" r="0.5"/><circle cx="78.67" cy="557.87" r="0.5"/><circle cx="77.02" cy="559.83" r="0.5"/><circle cx="87.7" cy="571.32" r="0.5"/><circle cx="91.76" cy="564.14" r="0.5"/><circle cx="85.29" cy="564.03" r="0.5"/><circle cx="82.11" cy="571.13" r="0.5"/><circle cx="94.72" cy="570.97" r="0.5"/><circle cx="79.1" cy="566.59" r="0.5"/><circle cx="93.88" cy="562.11" r="0.5"/><circle cx="97.41" cy="572.55" r="0.5"/><circle cx="93.6" cy="570.51" r="0.5"/><circle cx="91.3" cy="572.02" r="0.5"/><circle cx="78.62" cy="567.45" r="0.5"/><circle cx="92.64" cy="565.04" r="0.5"/><circle cx="82.14" cy="550.76" r="0.5"/><circle cx="90.18" cy="570.6" r="0.5"/><circle cx="82.09" cy="554.58" r="0.5"/><circle cx="80.88" cy="551.46" r="0.5"/><circle cx="91.96" cy="574.54" r="0.5"/><circle cx="95.05" cy="558.42" r="0.5"/><circle cx="92.54" cy="550.89" r="0.5"/><circle cx="95.95" cy="557.52" r="0.5"/><circle cx="75.48" cy="565.49" r="0.5"/><circle cx="78.8" cy="556.21" r="0.5"/><circle cx="76.85" cy="560.68" r="0.5"/><circle cx="89" cy="570.15" r="0.5"/><circle cx="76.37" cy="570.68" r="0.5"/><circle cx="78.11" cy="554.88" r="0.5"/><circle cx="90.82" cy="557.91" r="0.5"/><circle cx="83.51" cy="563.89" r="0.5"/><circle cx="80.74" cy="569.79" r="0.5"/><circle cx="80.52" cy="570.99" r="0.5"/><circle cx="95.21" cy="563.07" r="0.5"/><circle cx="76.15" cy="569.39" r="0.5"/><circle cx="76.1" cy="562.22" r="0.5"/><circle cx="85.79" cy="550.65" r="0.5"/><circle cx="90.84" cy="567.98" r="0.5"/><circle cx="89.73" cy="559.48" r="0.5"/><circle cx="87.95" cy="564.43" r="0.5"/><circle cx="80.94" cy="571.73" r="0.5"/><circle cx="99.79" cy="570.07" r="0.5"/><circle cx="98.95" cy="557.63" r="0.5"/><circle cx="99.56" cy="550.87" r="0.5"/><circle cx="87.11" cy="552.5" r="0.5"/><circle cx="86.52" cy="566.89" r="0.5"/><circle cx="92.76" cy="560.91" r="0.5"/><circle cx="83.77" cy="553.98" r="0.5"/><circle cx="85.27" cy="556.4" r="0.5"/><circle cx="80.16" cy="568.28" r="0.5"/><circle cx="88.05" cy="560.49" r="0.5"/><circle cx="80.24" cy="567.44" r="0.5"/><circle cx="80.22" cy="555.96" r="0.5"/><circle cx="89.13" cy="567.37" r="0.5"/><circle cx="99.24" cy="568.59" r="0.5"/><circle cx="98.63" cy="573.1" r="0.5"/><circle cx="93.1" cy="567.85" r="0.5"/><circle cx="76.94" cy="554.39" r="0.5"/><circle cx="75.72" cy="571.63" r="0.5"/><circle cx="93.09" cy="565.51" r="0.5"/><circle cx="81.86" cy="558.31" r="0.5"/><circle cx="79.41" cy="565.56" r="0.5"/><circle cx="99.69" cy="557.01" r="0.5"/><circle cx="76.48" cy="553.59" r="0.5"/><circle cx="84.1" cy="572.55" r="0.5"/><circle cx="95.11" cy="560.92" r="0.5"/><circle cx="77.9" cy="551.8" r="0.5"/><circle cx="79.17" cy="569.37" r="0.5"/><circle cx="86.95" cy="574.95" r="0.5"/><circle cx="97.74" cy="569.82" r="0.5"/><circle cx="87.07" cy="570.53" r="0.5"/><circle cx="78.54" cy="551.85" r="0.5"/><circle cx="89.2" cy="562.31" r="0.5"/><circle cx="80.53" cy="555.6" r="0.5"/><circle cx="75.92" cy="572.81" r="0.5"/><circle cx="92.8" cy="573.77" r="0.5"/><circle cx="99.42" cy="560.44" r="0.5"/><circle cx="93.34" cy="559.06" r="0.5"/><circle cx="95.29" cy="571.04" r="0.5"/><circle cx="78.68" cy="549.34" r="0.5"/><circle cx="80.64" cy="564.34" r="0.5"/><circle cx="84.68" cy="549.24" r="0.5"/><circle cx="95.74" cy="569.59" r="0.5"/><circle cx="86.76" cy="550.13" r="0.5"/><circle cx="97.18" cy="563" r="0.5"/><circle cx="77.14" cy="557.47" r="0.5"/><circle cx="90.7" cy="572.2" r="0.5"/><circle cx="87.27" cy="565.75" r="0.5"/><circle cx="80.44" cy="555.38" r="0.5"/><circle cx="97.59" cy="559.02" r="0.5"/><circle cx="77.95" cy="564.49" r="0.5"/><circle cx="78.49" cy="554.24" r="0.5"/><circle cx="86.58" cy="564.34" r="0.5"/><circle cx="90.99" cy="567.52" r="0.5"/><circle cx="86.17" cy="550.77" r="0.5"/><circle cx="93.15" cy="550.41" r="0.5"/><circle cx="86.93" cy="559.49" r="0.5"/><circle cx="91.89" cy="567.7" r="0.5"/><circle cx="81.27" cy="566.02" r="0.5"/><circle cx="92.35" cy="561.36" r="0.5"/><circle cx="78.87" cy="572.82" r="0.5"/><circle cx="90.08" cy="550.64" r="0.5"/><circle cx="81.25" cy="574.86" r="0.5"/><circle cx="81" cy="559.28" r="0.5"/><circle cx="94.71" cy="570.58" r="0.5"/><circle cx="90.93" cy="568.43" r="0.5"/><circle cx="76.34" cy="551.46" r="0.5"/><circle cx="99.32" cy="570.03" r="0.5"/><circle cx="76.33" cy="550.28" r="0.5"/><circle cx="81.29" cy="573.38" r="0.5"/><circle cx="80.78" cy="566.6" r="0.5"/><circle cx="98.19" cy="565.73" r="0.5"/><circle cx="97.92" cy="555.89" r="0.5"/><circle cx="79.16" cy="549.48" r="0.5"/><circle cx="93.95" cy="551.72" r="0.5"/><circle cx="99.24" cy="567.6" r="0.5"/><circle cx="79.98" cy="570.15" r="0.5"/><circle cx="79.39" cy="562.42" r="0.5"/><circle cx="77.99" cy="569.62" r="0.5"/><circle cx="97.2" cy="573.01" r="0.5"/><circle cx="75.46" cy="571.31" r="0.5"/><circle cx="89.02" cy="570.52" r="0.5"/><circle cx="87.71" cy="565.24" r="0.5"/><circle cx="89.97" cy="569.95" r="0.5"/><circle cx="77.3" cy="550.42" r="0.5"/><circle cx="88.76" cy="556.62" r="0.5"/><circle cx="85.13" cy="549.2" r="0.5"/><circle cx="93.65" cy="549.63" r="0.5"/><circle cx="95.73" cy="570.26" r="0.5"/><circle cx="86.62" cy="552.2" r="0.5"/><circle cx="91.33" cy="554.43" r="0.5"/><circle cx="85.91" cy="551.89" r="0.5"/><circle cx="99.32" cy="563.31" r="0.5"/><circle cx="84.04" cy="551.46" r="0.5"/><circle cx="93.29" cy="571.26" r="0.5"/><circle cx="96.18" cy="551.66" r="0.5"/><circle cx="84.41" cy="556.93" r="0.5"/><circle cx="94.08" cy="552.87" r="0.5"/><circle cx="90.26" cy="574.64" r="0.5"/><circle cx="94.24" cy="549.18" r="0.5"/><circle cx="77.24" cy="551.98" r="0.5"/><circle cx="92.37" cy="564.69" r="0.5"/><circle cx="88.14" cy="560.94" r="0.5"/><circle cx="85.38" cy="565.01" r="0.5"/><circle cx="91.29" cy="573.01" r="0.5"/><circle cx="93.35" cy="569.87" r="0.5"/><circle cx="97.77" cy="570.93" r="0.5"/><circle cx="92.96" cy="549.8" r="0.5"/><circle cx="92.08" cy="571.27" r="0.5"/><circle cx="85.95" cy="572.01" r="0.5"/><circle cx="79.81" cy="573.7" r="0.5"/><circle cx="86.22" cy="567.51" r="0.5"/><circle cx="81.59" cy="556.87" r="0.5"/><circle cx="83.94" cy="557.5" r="0.5"/><circle cx="77.72" cy="560.6" r="0.5"/><circle cx="99.43" cy="566.14" r="0.5"/><circle cx="98.24" cy="568.97" r="0.5"/><circle cx="95.9" cy="575.05" r="0.5"/><circle cx="93.84" cy="556.18" r="0.5"/><circle cx="81.52" cy="559.81" r="0.5"/><circle cx="75.91" cy="555.05" r="0.5"/><circle cx="97.11" cy="573.13" r="0.5"/><circle cx="83.45" cy="569.18" r="0.5"/><circle cx="94.39" cy="572.31" r="0.5"/><circle cx="94.87" cy="562.94" r="0.5"/><circle cx="77.97" cy="570.63" r="0.5"/><circle cx="83.08" cy="565.43" r="0.5"/><circle cx="84.39" cy="563.08" r="0.5"/><circle cx="99.06" cy="553.22" r="0.5"/><circle cx="88.41" cy="566.03" r="0.5"/><circle cx="88.59" cy="573.57" r="0.5"/><circle cx="85.38" cy="572.94" r="0.5"/><circle cx="92.3" cy="574.35" r="0.5"/><circle cx="77.6" cy="554.56" r="0.5"/><circle cx="82.44" cy="572.75" r="0.5"/><circle cx="75.73" cy="555.82" r="0.5"/><circle cx="92.94" cy="574.93" r="0.5"/><circle cx="79.72" cy="560.48" r="0.5"/><circle cx="92.23" cy="567.09" r="0.5"/><circle cx="93.68" cy="568.73" r="0.5"/><circle cx="81.49" cy="555.74" r="0.5"/><circle cx="76.08" cy="567.11" r="0.5"/><circle cx="80.53" cy="555.8" r="0.5"/><circle cx="99.03" cy="565.85" r="0.5"/><circle cx="89.88" cy="566.19" r="0.5"/><circle cx="90.05" cy="567.21" r="0.5"/><circle cx="82.85" cy="550.68" r="0.5"/><circle cx="77.04" cy="549.38" r="0.5"/><circle cx="84.26" cy="552.73" r="0.5"/><circle cx="78.17" cy="561.93" r="0.5"/><circle cx="99.15" cy="567.01" r="0.5"/><circle cx="82.1" cy="569.16" r="0.5"/><circle cx="79.76" cy="551.62" r="0.5"/><circle cx="82.83" cy="559.71" r="0.5"/><circle cx="92.29" cy="560.66" r="0.5"/><circle cx="93.24" cy="551.48" r="0.5"/><circle cx="98.24" cy="557.97" r="0.5"/><circle cx="95.79" cy="549.8" r="0.5"/><circle cx="95.7" cy="554.93" r="0.5"/><circle cx="96.35" cy="570.04" r="0.5"/><circle cx="91.83" cy="556.27" r="0.5"/><circle cx="75.64" cy="553.98" r="0.5"/><circle cx="97.57" cy="553.14" r="0.5"/><circle cx="91.55" cy="564.38" r="0.5"/><circle cx="91.6" cy="553.73" r="0.5"/><circle cx="78.92" cy="551.54" r="0.5"/><circle cx="99.48" cy="559.03" r="0.5"/><circle cx="91.38" cy="563.92" r="0.5"/><circle cx="80.87" cy="550.7" r="0.5"/><circle cx="75.76" cy="571.34" r="0.5"/><circle cx="78.59" cy="574.23" r="0.5"/><circle cx="84.31" cy="567.93" r="0.5"/><circle cx="78.79" cy="569.65" r="0.5"/><circle cx="81.57" cy="558.6" r="0.5"/><circle cx="88.21" cy="551.92" r="0.5"/><circle cx="81.48" cy="569.85" r="0.5"/><circle cx="82.39" cy="558.98" r="0.5"/><circle cx="94.14" cy="554.87" r="0.5"/><circle cx="80.15" cy="554.74" r="0.5"/><circle cx="84.81" cy="558.57" r="0.5"/><circle cx="91.11" cy="561.36" r="0.5"/><circle cx="96.71" cy="550.32" r="0.5"/><circle cx="91.66" cy="570.91" r="0.5"/><circle cx="81.15" cy="549.77" r="0.5"/><circle cx="86.14" cy="552.04" r="0.5"/><circle cx="86.67" cy="567.64" r="0.5"/><circle cx="77.7" cy="552.09" r="0.5"/><circle cx="87.15" cy="553.55" r="0.5"/><circle cx="81.05" cy="560.53" r="0.5"/><circle cx="78.3" cy="550.78" r="0.5"/><circle cx="84.25" cy="561.29" r="0.5"/><circle cx="98.35" cy="563.54" r="0.5"/><circle cx="77.15" cy="554.83" r="0.5"/><circle cx="93.63" cy="563.75" r="0.5"/><circle cx="96.72" cy="574.22" r="0.5"/><circle cx="96.42" cy="551.88" r="0.5"/><circle cx="98.52" cy="562.75" r="0.5"/><circle cx="81.27" cy="553.47" r="0.5"/><circle cx="96.58" cy="554.56" r="0.5"/><circle cx="77.44" cy="555.95" r="0.5"/><circle cx="98.04" cy="561.08" r="0.5"/><circle cx="93.32" cy="550.95" r="0.5"/><circle cx="86.5" cy="557.33" r="0.5"/><circle cx="80.43" cy="566.37" r="0.5"/><circle cx="84.25" cy="552.14" r="0.5"/><circle cx="99.51" cy="561.62" r="0.5"/><circle cx="79.81" cy="549.29" r="0.5"/><circle cx="91.4" cy="562.48" r="0.5"/><circle cx="76" cy="561.32" r="0.5"/><circle cx="93.54" cy="563.07" r="0.5"/><circle cx="81.14" cy="562.07" r="0.5"/><circle cx="90.22" cy="566.06" r="0.5"/><circle cx="78.95" cy="570.06" r="0.5"/><circle cx="98.57" cy="568.4" r="0.5"/><circle cx="96.4" cy="558.63" r="0.5"/><circle cx="97.52" cy="553.76" r="0.5"/><circle cx="80.96" cy="564.67" r="0.5"/><circle cx="97.49" cy="551.15" r="0.5"/><circle cx="80.72" cy="549.94" r="0.5"/><circle cx="86.16" cy="552.68" r="0.5"/><circle cx="80.09" cy="568.62" r="0.5"/><circle cx="89.69" cy="573.61" r="0.5"/><circle cx="85.25" cy="566.79" r="0.5"/><circle cx="75.71" cy="573.85" r="0.5"/><circle cx="81.11" cy="561.5" r="0.5"/><circle cx="87.94" cy="573.85" r="0.5"/><circle cx="87.46" cy="574.99" r="0.5"/><circle cx="90.62" cy="554.67" r="0.5"/><circle cx="95.83" cy="554.29" r="0.5"/><circle cx="99.89" cy="560.96" r="0.5"/><circle cx="80.94" cy="574.18" r="0.5"/><circle cx="83.28" cy="559.66" r="0.5"/><circle cx="83.81" cy="566.52" r="0.5"/><circle cx="75.96" cy="558.8" r="0.5"/><circle cx="79.37" cy="570.69" r="0.5"/><circle cx="75.4" cy="564.92" r="0.5"/><circle cx="81.72" cy="560.9" r="0.5"/><circle cx="89.17" cy="567.65" r="0.5"/><circle cx="78.77" cy="555.3" r="0.5"/><circle cx="78.35" cy="574.16" r="0.5"/><circle cx="79.05" cy="552.59" r="0.5"/><circle cx="88.19" cy="564.23" r="0.5"/><circle cx="97.12" cy="550.49" r="0.5"/><circle cx="81.14" cy="553.39" r="0.5"/><circle cx="89.75" cy="560.85" r="0.5"/><circle cx="85.42" cy="572.28" r="0.5"/><circle cx="91.61" cy="571.54" r="0.5"/><circle cx="98.84" cy="556.05" r="0.5"/><circle cx="98.48" cy="559.68" r="0.5"/><circle cx="76.66" cy="572.97" r="0.5"/><circle cx="77.95" cy="549.46" r="0.5"/><circle cx="82.5" cy="556.57" r="0.5"/><circle cx="99.09" cy="571.81" r="0.5"/><circle cx="85.69" cy="562.87" r="0.5"/><circle cx="96.2" cy="570.14" r="0.5"/><circle cx="91.41" cy="562.44" r="0.5"/><circle cx="78.26" cy="555.39" r="0.5"/><circle cx="91.52" cy="564.36" r="0.5"/><circle cx="95.03" cy="572.55" r="0.5"/><circle cx="98.98" cy="554.05" r="0.5"/><circle cx="77.26" cy="572.52" r="0.5"/><circle cx="89.37" cy="553.76" r="0.5"/><circle cx="92.36" cy="555.7" r="0.5"/><circle cx="81.2" cy="558.6" r="0.5"/><circle cx="88.23" cy="566.75" r="0.5"/><circle cx="77.2" cy="568.42" r="0.5"/><circle cx="90.69" cy="561.36" r="0.5"/><circle cx="91.87" cy="569.95" r="0.5"/><circle cx="75.64" cy="561.45" r="0.5"/><circle cx="92.01" cy="567.58" r="0.5"/><circle cx="91.26" cy="553.72" r="0.5"/><circle cx="98.88" cy="569.59" r="0.5"/><circle cx="81.11" cy="560.28" r="0.5"/><circle cx="98.87" cy="554.43" r="0.5"/><circle cx="85.42" cy="574.19" r="0.5"/><circle cx="97.45" cy="555.09" r="0.5"/><circle cx="93.41" cy="558.42" r="0.5"/><circle cx="91.65" cy="569.09" r="0.5"/><circle cx="78.53" cy="554.83" r="0.5"/><circle cx="80.67" cy="555.97" r="0.5"/><circle cx="76.27" cy="552.56" r="0.5"/><circle cx="85.35" cy="560.02" r="0.5"/><circle cx="77.31" cy="564.26" r="0.5"/><circle cx="98.49" cy="564.12" r="0.5"/><circle cx="84.11" cy="567.46" r="0.5"/><circle cx="86.11" cy="553.6" r="0.5"/><circle cx="87.2" cy="549.46" r="0.5"/><circle cx="91.96" cy="553.22" r="0.5"/><circle cx="84.46" cy="574.22" r="0.5"/><circle cx="94.19" cy="570.89" r="0.5"/><circle cx="91.13" cy="565.63" r="0.5"/><circle cx="92.67" cy="574.32" r="0.5"/><circle cx="80.21" cy="569.07" r="0.5"/><circle cx="82.77" cy="555.7" r="0.5"/><circle cx="95.53" cy="564.75" r="0.5"/><circle cx="96.22" cy="571.93" r="0.5"/><circle cx="89.83" cy="554.2" r="0.5"/><circle cx="75.77" cy="563.01" r="0.5"/><circle cx="93.18" cy="556.14" r="0.5"/><circle cx="77.12" cy="549.12" r="0.5"/><circle cx="79.64" cy="567.23" r="0.5"/><circle cx="75.5" cy="555.03" r="0.5"/><circle cx="81.9" cy="567.63" r="0.5"/><circle cx="99.59" cy="549.51" r="0.5"/><circle cx="78.2" cy="573.49" r="0.5"/><circle cx="99.16" cy="552.89" r="0.5"/><circle cx="83.62" cy="562.68" r="0.5"/><circle cx="83.24" cy="559.94" r="0.5"/><circle cx="87.13" cy="555.77" r="0.5"/><circle cx="76.75" cy="551.2" r="0.5"/><circle cx="79.38" cy="551.39" r="0.5"/><circle cx="90.69" cy="567.25" r="0.5"/><circle cx="81.84" cy="569.74" r="0.5"/><circle cx="93.25" cy="557.95" r="0.5"/><circle cx="87.45" cy="553.94" r="0.5"/><circle cx="98.16" cy="563.68" r="0.5"/><circle cx="76.66" cy="553.03" r="0.5"/><circle cx="92.37" cy="559.09" r="0.5"/><circle cx="92.97" cy="555.01" r="0.5"/><circle cx="94.93" cy="570.01" r="0.5"/><circle cx="77.71" cy="564.36" r="0.5"/><circle cx="80.09" cy="567.54" r="0.5"/><circle cx="95.1" cy="569.73" r="0.5"/><circle cx="81.07" cy="551.45" r="0.5"/><circle cx="91.65" cy="563.8" r="0.5"/><circle cx="78.79" cy="554.05" r="0.5"/><circle cx="89.67" cy="551.83" r="0.5"/><circle cx="90.93" cy="555.31" r="0.5"/><circle cx="81.73" cy="560.1" r="0.5"/><circle cx="88.46" cy="567.98" r="0.5"/><circle cx="76.16" cy="567.98" r="0.5"/><circle cx="80.81" cy="556.62" r="0.5"/><circle cx="91.07" cy="567.11" r="0.5"/><circle cx="90.46" cy="572.63" r="0.5"/><circle cx="80.41" cy="557.15" r="0.5"/><circle cx="91.63" cy="555.83" r="0.5"/><circle cx="79.25" cy="554.93" r="0.5"/><circle cx="94.3" cy="570.67" r="0.5"/><circle cx="92.95" cy="574.12" r="0.5"/><circle cx="94.86" cy="557.11" r="0.5"/><circle cx="83.13" cy="567.9" r="0.5"/><circle cx="76.76" cy="564.96" r="0.5"/><circle cx="77.58" cy="550.29" r="0.5"/><circle cx="87.99" cy="552.96" r="0.5"/><circle cx="98.23" cy="571.98" r="0.5"/><circle cx="86.71" cy="554.18" r="0.5"/><circle cx="78.33" cy="562.28" r="0.5"/><circle cx="88.17" cy="558.51" r="0.5"/><circle cx="92.95" cy="562.87" r="0.5"/><circle cx="94.4" cy="551.78" r="0.5"/><circle cx="77.12" cy="559.14" r="0.5"/><circle cx="87.25" cy="555.62" r="0.5"/><circle cx="91.78" cy="554.81" r="0.5"/><circle cx="83.2" cy="561.49" r="0.5"/><circle cx="92.85" cy="569.18" r="0.5"/><circle cx="84.51" cy="560.71" r="0.5"/><circle cx="98.13" cy="573.47" r="0.5"/><circle cx="90.56" cy="551.75" r="0.5"/><circle cx="86.57" cy="565.68" r="0.5"/><circle cx="82.23" cy="549.98" r="0.5"/><circle cx="99.44" cy="572.83" r="0.5"/><circle cx="78.56" cy="561.21" r="0.5"/><circle cx="90.57" cy="556.86" r="0.5"/><circle cx="77.08" cy="568.67" r="0.5"/><circle cx="94.28" cy="560.46" r="0.5"/><circle cx="77.5" cy="559.32" r="0.5"/><circle cx="77.7" cy="574.24" r="0.5"/><circle cx="76.66" cy="556.55" r="0.5"/><circle cx="94.21" cy="552.54" r="0.5"/><circle cx="78.01" cy="550.85" r="0.5"/><circle cx="79.42" cy="562.93" r="0.5"/><circle cx="95.81" cy="553.43" r="0.5"/><circle cx="79.66" cy="569.04" r="0.5"/><circle cx="85.83" cy="557.86" r="0.5"/><circle cx="78.42" cy="555.36" r="0.5"/><circle cx="99.21" cy="552.06" r="0.5"/><circle cx="81.76" cy="568.41" r="0.5"/><circle cx="97.25" cy="572.69" r="0.5"/><circle cx="86.98" cy="574.06" r="0.5"/><circle cx="90.2" cy="556.56" r="0.5"/><circle cx="86.8" cy="567.76" r="0.5"/><circle cx="93.38" cy="552.4" r="0.5"/><circle cx="80.14" cy="574.11" r="0.5"/><circle cx="78.02" cy="570.31" r="0.5"/><circle cx="83.7" cy="555.5" r="0.5"/><circle cx="81.65" cy="561.29" r="0.5"/><circle cx="99.67" cy="552.89" r="0.5"/><circle cx="96.34" cy="557.42" r="0.5"/><circle cx="79.63" cy="568.51" r="0.5"/><circle cx="83.77" cy="553.91" r="0.5"/><circle cx="85.65" cy="570.53" r="0.5"/><circle cx="96.54" cy="564.06" r="0.5"/><circle cx="75.66" cy="569" r="0.5"/><circle cx="90.26" cy="572.56" r="0.5"/><circle cx="98.72" cy="557.57" r="0.5"/><circle cx="96.19" cy="570.46" r="0.5"/><circle cx="81.92" cy="558.58" r="0.5"/><circle cx="84.58" cy="558.25" r="0.5"/><circle cx="84.67" cy="551.89" r="0.5"/><circle cx="80.97" cy="572.83" r="0.5"/><circle cx="85.46" cy="565.66" r="0.5"/><circle cx="97.14" cy="568.8" r="0.5"/><circle cx="81.39" cy="573.09" r="0.5"/><circle cx="95.1" cy="574.95" r="0.5"/><circle cx="93.24" cy="568.78" r="0.5"/><circle cx="95.32" cy="555.63" r="0.5"/><circle cx="91.47" cy="558.97" r="0.5"/><circle cx="95.97" cy="552.5" r="0.5"/><circle cx="88.61" cy="557.81" r="0.5"/><circle cx="95.5" cy="558.05" r="0.5"/><circle cx="96.07" cy="571.21" r="0.5"/><circle cx="96.93" cy="552.64" r="0.5"/><circle cx="98.39" cy="568.5" r="0.5"/><circle cx="91.98" cy="566.09" r="0.5"/><circle cx="76.58" cy="571.8" r="0.5"/><circle cx="88.82" cy="560.94" r="0.5"/><circle cx="83.71" cy="569.51" r="0.5"/><circle cx="94.56" cy="571.79" r="0.5"/><circle cx="80.65" cy="557.92" r="0.5"/><circle cx="81.51" cy="551.63" r="0.5"/><circle cx="83.41" cy="549.68" r="0.5"/><circle cx="94.92" cy="554.95" r="0.5"/><circle cx="77.13" cy="550.77" r="0.5"/><circle cx="93.56" cy="554.2" r="0.5"/><circle cx="86.72" cy="559.53" r="0.5"/><circle cx="95.06" cy="574" r="0.5"/><circle cx="82.99" cy="565.57" r="0.5"/><circle cx="97.32" cy="561.33" r="0.5"/><circle cx="97.44" cy="568.22" r="0.5"/><circle cx="83.03" cy="571.9" r="0.5"/><circle cx="89.45" cy="551.77" r="0.5"/><circle cx="89.79" cy="570.73" r="0.5"/><circle cx="88.1" cy="561.68" r="0.5"/><circle cx="85.6" cy="572.07" r="0.5"/><circle cx="91.71" cy="554.45" r="0.5"/><circle cx="84.28" cy="558.52" r="0.5"/><circle cx="98.89" cy="567.23" r="0.5"/><circle cx="78.46" cy="572.96" r="0.5"/><circle cx="76.25" cy="564.48" r="0.5"/><circle cx="85.99" cy="567.8" r="0.5"/><circle cx="85.92" cy="551.42" r="0.5"/><circle cx="88.23" cy="570.49" r="0.5"/><circle cx="94.73" cy="558.34" r="0.5"/><circle cx="80.85" cy="568.51" r="0.5"/><circle cx="95.04" cy="554.74" r="0.5"/><circle cx="97.04" cy="575" r="0.5"/><circle cx="86.02" cy="558.97" r="0.5"/><circle cx="92.79" cy="573.36" r="0.5"/><circle cx="80.34" cy="556.91" r="0.5"/><circle cx="83.46" cy="568.18" r="0.5"/><circle cx="79.98" cy="563.33" r="0.5"/><circle cx="87.66" cy="566.51" r="0.5"/><circle cx="78.91" cy="574.06" r="0.5"/><circle cx="99.9" cy="563.7" r="0.5"/><circle cx="94.88" cy="553.8" r="0.5"/><circle cx="97.7" cy="563.45" r="0.5"/><circle cx="94.01" cy="571.75" r="0.5"/><circle cx="84.26" cy="573.21" r="0.5"/><circle cx="80.48" cy="549.61" r="0.5"/><circle cx="87.71" cy="572.55" r="0.5"/><circle cx="97.46" cy="574.02" r="0.5"/><circle cx="87.91" cy="573.43" r="0.5"/><circle cx="89.12" cy="552.76" r="0.5"/><circle cx="90.86" cy="570.05" r="0.5"/><circle cx="85.78" cy="564.78" r="0.5"/><circle cx="81.75" cy="556.23" r="0.5"/><circle cx="85.7" cy="562.45" r="0.5"/><circle cx="86.87" cy="551.42" r="0.5"/><circle cx="75.54" cy="557.91" r="0.5"/><circle cx="92.96" cy="568.61" r="0.5"/><circle cx="81.21" cy="555.7" r="0.5"/><circle cx="88.06" cy="553.6" r="0.5"/><circle cx="90.17" cy="572.69" r="0.5"/><circle cx="80.35" cy="564.34" r="0.5"/><circle cx="93.06" cy="568.63" r="0.5"/><circle cx="92.85" cy="567.62" r="0.5"/><circle cx="82.08" cy="570.96" r="0.5"/><circle cx="98.06" cy="550.38" r="0.5"/><circle cx="98.53" cy="560.6" r="0.5"/><circle cx="77.52" cy="550.82" r="0.5"/><circle cx="94.92" cy="566.75" r="0.5"/><circle cx="78.88" cy="561.05" r="0.5"/><circle cx="91.05" cy="575.14" r="0.5"/><circle cx="83.63" cy="569.08" r="0.5"/><circle cx="81.41" cy="554.21" r="0.5"/><circle cx="79.35" cy="559.75" r="0.5"/><circle cx="90.55" cy="556.94" r="0.5"/><circle cx="79.37" cy="554.72" r="0.5"/><circle cx="77.48" cy="554.06" r="0.5"/><circle cx="83.14" cy="562.22" r="0.5"/><circle cx="79.9" cy="561.57" r="0.5"/><circle cx="86.18" cy="574.49" r="0.5"/><circle cx="87.31" cy="573.75" r="0.5"/><circle cx="86.95" cy="554.19" r="0.5"/><circle cx="89.9" cy="552.79" r="0.5"/><circle cx="79.55" cy="550.92" r="0.5"/><circle cx="92.58" cy="574.34" r="0.5"/><circle cx="85.28" cy="558.28" r="0.5"/><circle cx="85.82" cy="558.22" r="0.5"/><circle cx="92.32" cy="559.27" r="0.5"/><circle cx="79.13" cy="571.65" r="0.5"/><circle cx="89.43" cy="549.17" r="0.5"/><circle cx="96.21" cy="568.09" r="0.5"/><circle cx="84.08" cy="565.5" r="0.5"/><circle cx="97.95" cy="559.52" r="0.5"/><circle cx="86" cy="556.81" r="0.5"/><circle cx="88.98" cy="566.36" r="0.5"/><circle cx="93.41" cy="573.87" r="0.5"/><circle cx="78.96" cy="558.59" r="0.5"/><circle cx="96.26" cy="569.72" r="0.5"/><circle cx="89.86" cy="566.74" r="0.5"/><circle cx="83.73" cy="573.75" r="0.5"/><circle cx="88.86" cy="559.55" r="0.5"/><circle cx="79.87" cy="552.02" r="0.5"/><circle cx="97.39" cy="569.97" r="0.5"/><circle cx="76.06" cy="557.47" r="0.5"/><circle cx="87.15" cy="561.99" r="0.5"/><circle cx="84.3" cy="572.45" r="0.5"/><circle cx="83.97" cy="562.94" r="0.5"/><circle cx="98.17" cy="565.75" r="0.5"/><circle cx="87.08" cy="557.71" r="0.5"/><circle cx="84.88" cy="564.96" r="0.5"/><circle cx="94.66" cy="555.83" r="0.5"/><circle cx="84.48" cy="559.16" r="0.5"/><circle cx="84.29" cy="572.92" r="0.5"/><circle cx="88.6" cy="556.23" r="0.5"/><circle cx="83.54" cy="570.52" r="0.5"/><circle cx="79.33" cy="567.08" r="0.5"/><circle cx="75.93" cy="554.06" r="0.5"/><circle cx="76.86" cy="570.11" r="0.5"/><circle cx="79" cy="554.97" r="0.5"/></g>
<g fill="#3030c0" fill-opacity="0.4"><circle cx="91.52" cy="561.66" r="0.5"/><circle cx="85.24" cy="550.48" r="0.5"/><circle cx="100.74" cy="552.23" r="0.5"/><circle cx="99.88" cy="567.29" r="0.5"/><circle cx="82.2" cy="561.58" r="0.5"/><circle cx="86.23" cy="548.13" r="0.5"/><circle cx="84.07" cy="561.75" r="0.5"/><circle cx="94.58" cy="552.81" r="0.5"/><circle cx="88.71" cy="560.48" r="0.5"/><circle cx="87.44" cy="560.89" r="0.5"/><circle cx="83.84" cy="551.83" r="0.5"/><circle cx="89.57" cy="562.31" r="0.5"/><circle cx="90.44" cy="567.46" r="0.5"/><circle cx="73.94" cy="572.81" r="0.5"/><circle cx="80.01" cy="562.39" r="0.5"/><circle cx="86.29" cy="564.37" r="0.5"/><circle cx="108.85" cy="556.9" r="0.5"/><circle cx="85.21" cy="556.42" r="0.5"/><circle cx="88.12" cy="563.12" r="0.5"/><circle cx="79.61" cy="567.9" r="0.5"/><circle cx="94.42" cy="562.67" r="0.5"/><circle cx="85.63" cy="558.58" r="0.5"/><circle cx="74.9" cy="563.93" r="0.5"/><circle cx="79.58" cy="556.99" r="0.5"/><circle cx="93.37" cy="554.48" r="0.5"/><circle cx="82.75" cy="565.15" r="0.5"/><circle cx="99.4" cy="555.86" r="0.5"/><circle cx="94.12" cy="556.08" r="0.5"/><circle cx="89.12" cy="562.9" r="0.5"/><circle cx="78.43" cy="566.15" r="0.5"/><circle cx="98.99" cy="560.31" r="0.5"/><circle cx="88.29" cy="552.97" r="0.5"/><circle cx="98.91" cy="560.38" r="0.5"/><circle cx="77.47" cy="564.59" r="0.5"/><circle cx="76.17" cy="555.88" r="0.5"/><circle cx="101.87" cy="556.19" r="0.5"/><circle cx="81.83" cy="556.53" r="0.5"/><circle cx="82.44" cy="563.32" r="0.5"/><circle cx="96.61" cy="553.95" r="0.5"/><circle cx="89.48" cy="549.18" r="0.5"/><circle cx="97.07" cy="559.47" r="0.5"/><circle cx="81.5" cy="569.19" r="0.5"/><circle cx="85.66" cy="568.22" r="0.5"/><circle cx="93.92" cy="569.94" r="0.5"/><circle cx="80.8" cy="560.34" r="0.5"/><circle cx="88.98" cy="558.84" r="0.5"/><circle cx="97.06" cy="555.72" r="0.5"/><circle cx="93.42" cy="568.18" r="0.5"/><circle cx="80.07" cy="556.72" r="0.5"/><circle cx="89.13" cy="558.96" r="0.5"/><circle cx="86.95" cy="557.24" r="0.5"/><circle cx="85.83" cy="562.91" r="0.5"/><circle cx="91.62" cy="555.31" r="0.5"/><circle cx="85.6" cy="555.43" r="0.5"/><circle cx="85.15" cy="551.39" r="0.5"/><circle cx="93.08" cy="564.03" r="0.5"/><circle cx="85.54" cy="555.9" r="0.5"/><circle cx="83.2" cy="556.01" r="0.5"/><circle cx="75.59" cy="569.8" r="0.5"/><circle cx="109.43" cy="552.62" r="0.5"/><circle cx="78.23" cy="563.47" r="0.5"/><circle cx="90.64" cy="550.56" r="0.5"/><circle cx="82.93" cy="560.51" r="0.5"/><circle cx="86.38" cy="556.64" r="0.5"/><circle cx="85.41" cy="558.2" r="0.5"/><circle cx="95.11" cy="559.45" r="0.5"/><circle cx="86.18" cy="556.82" r="0.5"/><circle cx="81.96" cy="555.58" r="0.5"/><circle cx="86.47" cy="571.02" r="0.5"/><circle cx="94.21" cy="561.42" r="0.5"/><circle cx="98.08" cy="566.08" r="0.5"/><circle cx="87.85" cy="559.01" r="0.5"/><circle cx="78.72" cy="561.49" r="0.5"/><circle cx="84.19" cy="550.49" r="0.5"/><circle cx="77.41" cy="571.62" r="0.5"/><circle cx="87.9" cy="562.99" r="0.5"/><circle cx="87.8" cy="557.21" r="0.5"/><circle cx="89.63" cy="566.5" r="0.5"/><circle cx="84.24" cy="563.07" r="0.5"/><circle cx="93.58" cy="557.1" r="0.5"/><circle cx="87.59" cy="555.56" r="0.5"/><circle cx="90.62" cy="557.79" r="0.5"/><circle cx="94.42" cy="555.42" r="0.5"/><circle cx="98.22" cy="558.14" r="0.5"/><circle cx="80.52" cy="554.58" r="0.5"/><circle cx="91.04" cy="554.86" r="0.5"/><circle cx="99.03" cy="567.69" r="0.5"/><circle cx="90.03" cy="551.47" r="0.5"/><circle cx="86.23" cy="555.64" r="0.5"/><circle cx="101.81" cy="556.78" r="0.5"/><circle cx="92.06" cy="567.7" r="0.5"/><circle cx="79.67" cy="557.96" r="0.5"/><circle cx="88.28" cy="562.83" r="0.5"/><circle cx="78.38" cy="561.3" r="0.5"/><circle cx="85.65" cy="565.71" r="0.5"/><circle cx="75.22" cy="556.61" r="0.5"/><circle cx="82.88" cy="558.1" r="0.5"/><circle cx="91.46" cy="556.23" r="0.5"/><circle cx="105.57" cy="555.76" r="0.5"/><circle cx="92.28" cy="566.12" r="0.5"/><circle cx="93.15" cy="558.78" r="0.5"/><circle cx="80.59" cy="558.47" r="0.5"/><circle cx="91.06" cy="560.73" r="0.5"/><circle cx="90.47" cy="563.45" r="0.5"/><circle cx="80.21" cy="554.39" r="0.5"/><circle cx="96.49" cy="557.08" r="0.5"/><circle cx="75.31" cy="571.16" r="0.5"/><circle cx="80.56" cy="554.4" r="0.5"/><circle cx="93.17" cy="553.21" r="0.5"/><circle cx="80.3" cy="566.29" r="0.5"/><circle cx="80.66" cy="575.05" r="0.5"/><circle cx="87.31" cy="560.33" r="0.5"/><circle cx="81.91" cy="558.66" r="0.5"/><circle cx="82.89" cy="559.86" r="0.5"/><circle cx="91.8" cy="552.37" r="0.5"/><circle cx="79.97" cy="547.44" r="0.5"/><circle cx="96.93" cy="559.55" r="0.5"/><circle cx="86.3" cy="559.65" r="0.5"/><circle cx="93.43" cy="561.93" r="0.5"/><circle cx="92.35" cy="559" r="0.5"/><circle cx="85.55" cy="559.67" r="0.5"/><circle cx="75.36" cy="554.03" r="0.5"/><circle cx="91.1" cy="560.33" r="0.5"/><circle cx="92.09" cy="570.24" r="0.5"/><circle cx="99.43" cy="568.3" r="0.5"/><circle cx="84.82" cy="572.29" r="0.5"/><circle cx="80.24" cy="559.48" r="0.5"/><circle cx="93.38" cy="558.72" r="0.5"/><circle cx="85.55" cy="557.88" r="0.5"/><circle cx="95.31" cy="566.36" r="0.5"/><circle cx="85.89" cy="563.37" r="0.5"/><circle cx="79.62" cy="566.66" r="0.5"/><circle cx="107.82" cy="554.48" r="0.5"/><circle cx="96.17" cy="559.66" r="0.5"/><circle cx="84.03" cy="557.08" r="0.5"/><circle cx="85.07" cy="552.49" r="0.5"/><circle cx="76.9" cy="569.97" r="0.5"/><circle cx="86.28" cy="563.31" r="0.5"/><circle cx="88.57" cy="562.86" r="0.5"/><circle cx="75.72" cy="554.31" r="0.5"/><circle cx="90.83" cy="565.99" r="0.5"/><circle cx="78.39" cy="556.53" r="0.5"/><circle cx="78.92" cy="563.92" r="0.5"/><circle cx="88.81" cy="560.2" r="0.5"/><circle cx="81.85" cy="562.06" r="0.5"/><circle cx="86.62" cy="555.54" r="0.5"/><circle cx="88.73" cy="556.01" r="0.5"/><circle cx="93.06" cy="563.76" r="0.5"/><circle cx="81.59" cy="563.52" r="0.5"/><circle cx="86.87" cy="555.76" r="0.5"/><circle cx="80" cy="550.02" r="0.5"/><circle cx="78.49" cy="562.08" r="0.5"/><circle cx="94.85" cy="556.23" r="0.5"/><circle cx="87.52" cy="562.07" r="0.5"/><circle cx="91.86" cy="562.66" r="0.5"/><circle cx="94.99" cy="564.6" r="0.5"/><circle cx="81.07" cy="562.38" r="0.5"/><circle cx="86.54" cy="563.48" r="0.5"/><circle cx="84.29" cy="564.99" r="0.5"/><circle cx="95.65" cy="554.96" r="0.5"/><circle cx="82.6" cy="561.56" r="0.5"/><circle cx="89.83" cy="560.86" r="0.5"/><circle cx="92.22" cy="552.91" r="0.5"/><circle cx="91.83" cy="567" r="0.5"/><circle cx="94.17" cy="562.56" r="0.5"/><circle cx="84.74" cy="562.4" r="0.5"/><circle cx="85.88" cy="550.48" r="0.5"/><circle cx="82.16" cy="559.76" r="0.5"/><circle cx="82.79" cy="554.4" r="0.5"/><circle cx="84.78" cy="557.77" r="0.5"/><circle cx="86.88" cy="559.71" r="0.5"/><circle cx="87.6" cy="565.96" r="0.5"/><circle cx="87.36" cy="562.44" r="0.5"/><circle cx="83.6" cy="564.06" r="0.5"/><circle cx="84.03" cy="556.26" r="0.5"/><circle cx="77.72" cy="565.35" r="0.5"/><circle cx="82.71" cy="561.47" r="0.5"/><circle cx="94.32" cy="563.22" r="0.5"/><circle cx="102.1" cy="559.2" r="0.5"/><circle cx="93.09" cy="564.16" r="0.5"/><circle cx="81.81" cy="560.29" r="0.5"/><circle cx="82.45" cy="553.85" r="0.5"/><circle cx="88.5" cy="555.35" r="0.5"/><circle cx="98.16" cy="555.56" r="0.5"/><circle cx="82.59" cy="560.55" r="0.5"/><circle cx="82.77" cy="560.32" r="0.5"/><circle cx="82.15" cy="551.47" r="0.5"/><circle cx="97.05" cy="562.67" r="0.5"/><circle cx="87.48" cy="557.21" r="0.5"/><circle cx="85.38" cy="561.79" r="0.5"/><circle cx="76.67" cy="555.21" r="0.5"/><circle cx="80.17" cy="567.55" r="0.5"/><circle cx="79" cy="567.04" r="0.5"/><circle cx="85.85" cy="560.19" r="0.5"/><circle cx="95.86" cy="565.25" r="0.5"/><circle cx="92.97" cy="553.59" r="0.5"/><circle cx="94.35" cy="570.08" r="0.5"/><circle cx="85.68" cy="557.1" r="0.5"/><circle cx="78.76" cy="566.1" r="0.5"/><circle cx="88.46" cy="560.04" r="0.5"/><circle cx="77.75" cy="569.73" r="0.5"/><circle cx="92.53" cy="559.88" r="0.5"/><circle cx="96.73" cy="554.29" r="0.5"/><circle cx="92.57" cy="554.01" r="0.5"/><circle cx="96.28" cy="558.35" r="0.5"/><circle cx="94.96" cy="557.51" r="0.5"/><circle cx="89.19" cy="566.85" r="0.5"/><circle cx="80.09" cy="560.58" r="0.5"/><circle cx="80.53" cy="565.11" r="0.5"/><circle cx="82.17" cy="557.76" r="0.5"/><circle cx="84.98" cy="566.99" r="0.5"/><circle cx="79.11" cy="559.85" r="0.5"/><circle cx="84.1" cy="556.7" r="0.5"/><circle cx="80.89" cy="559.04" r="0.5"/><circle cx="87.77" cy="550.72" r="0.5"/><circle cx="88.04" cy="552.89" r="0.5"/><circle cx="86.5" cy="573.68" r="0.5"/><circle cx="79.63" cy="559.6" r="0.5"/><circle cx="84.62" cy="565.89" r="0.5"/><circle cx="83.08" cy="549.29" r="0.5"/><circle cx="75.12" cy="561.06" r="0.5"/><circle cx="88.17" cy="566.4" r="0.5"/><circle cx="82.64" cy="564" r="0.5"/><circle cx="78.95" cy="567.77" r="0.5"/><circle cx="85.9" cy="555.93" r="0.5"/><circle cx="87.65" cy="570.46" r="0.5"/><circle cx="80.47" cy="552.56" r="0.5"/><circle cx="79.29" cy="553.07" r="0.5"/><circle cx="86.05" cy="562.1" r="0.5"/><circle cx="85.25" cy="561.18" r="0.5"/><circle cx="94.7" cy="558.27" r="0.5"/><circle cx="88.09" cy="555.92" r="0.5"/><circle cx="84.66" cy="562.46" r="0.5"/><circle cx="89.64" cy="550.59" r="0.5"/></g>
<g fill="#0a0aff" fill-opacity="0.75"><circle cx="99.96" cy="558.39" r="0.55"/><circle cx="101.18" cy="563.96" r="0.55"/><circle cx="100.65" cy="547.26" r="0.55"/><circle cx="103.16" cy="549.49" r="0.55"/><circle cx="99.94" cy="560.03" r="0.55"/><circle cx="99.81" cy="570.94" r="0.55"/><circle cx="101.76" cy="560.78" r="0.55"/><circle cx="100.75" cy="569.53" r="0.55"/><circle cx="102.21" cy="554.27" r="0.55"/><circle cx="103.28" cy="549.22" r="0.55"/><circle cx="100.52" cy="559.5" r="0.55"/><circle cx="101.61" cy="553.01" r="0.55"/><circle cx="103.77" cy="565.65" r="0.55"/><circle cx="100" cy="559.94" r="0.55"/><circle cx="100.45" cy="555.75" r="0.55"/><circle cx="102.88" cy="558.66" r="0.55"/><circle cx="101.24" cy="558.53" r="0.55"/><circle cx="99.64" cy="564.35" r="0.55"/><circle cx="100.27" cy="564.8" r="0.55"/><circle cx="100.71" cy="555.63" r="0.55"/><circle cx="103.63" cy="558.99" r="0.55"/><circle cx="100.44" cy="555.21" r="0.55"/><circle cx="102.31" cy="567.73" r="0.55"/><circle cx="102.32" cy="555.95" r="0.55"/><circle cx="99.72" cy="554.5" r="0.55"/><circle cx="101.22" cy="559.27" r="0.55"/><circle cx="100.42" cy="564.66" r="0.55"/><circle cx="99.96" cy="554.29" r="0.55"/><circle cx="102.15" cy="560.5" r="0.55"/><circle cx="100.81" cy="563" r="0.55"/><circle cx="99.29" cy="566.5" r="0.55"/><circle cx="104.68" cy="568.15" r="0.55"/><circle cx="101.58" cy="568.23" r="0.55"/><circle cx="101.48" cy="564.91" r="0.55"/><circle cx="101.1" cy="559.01" r="0.55"/><circle cx="102.19" cy="548.92" r="0.55"/><circle cx="101.09" cy="566.93" r="0.55"/><circle cx="97.02" cy="560" r="0.55"/><circle cx="102.78" cy="559.7" r="0.55"/><circle cx="101.69" cy="565.21" r="0.55"/><circle cx="101.9" cy="548.16" r="0.55"/><circle cx="99.98" cy="556.46" r="0.55"/><circle cx="101.62" cy="555.67" r="0.55"/><circle cx="101.24" cy="566.68" r="0.55"/><circle cx="97" cy="563.99" r="0.55"/><circle cx="102.8" cy="561.13" r="0.55"/><circle cx="101.42" cy="558.33" r="0.55"/><circle cx="101.95" cy="559.26" r="0.55"/><circle cx="100.31" cy="562.06" r="0.55"/><circle cx="100.16" cy="557.79" r="0.55"/><circle cx="100.86" cy="552.02" r="0.55"/><circle cx="102.31" cy="557.64" r="0.55"/><circle cx="99.65" cy="557.6" r="0.55"/><circle cx="99.33" cy="565.45" r="0.55"/><circle cx="102.17" cy="568.32" r="0.55"/><circle cx="100.55" cy="561.66" r="0.55"/><circle cx="99.95" cy="553.58" r="0.55"/><circle cx="101.27" cy="560.13" r="0.55"/><circle cx="102.78" cy="556.61" r="0.55"/><circle cx="103.05" cy="563.01" r="0.55"/><circle cx="100.09" cy="557.07" r="0.55"/><circle cx="100.03" cy="566.85" r="0.55"/><circle cx="100.58" cy="562.59" r="0.55"/><circle cx="102.77" cy="556.68" r="0.55"/><circle cx="100.67" cy="559.79" r="0.55"/><circle cx="100.24" cy="551.45" r="0.55"/><circle cx="99.96" cy="559.76" r="0.55"/><circle cx="101.69" cy="567.13" r="0.55"/><circle cx="98.67" cy="560.61" r="0.55"/><circle cx="99.68" cy="563.98" r="0.55"/><circle cx="102.44" cy="558.66" r="0.55"/><circle cx="103.6" cy="556.07" r="0.55"/><circle cx="100.61" cy="552.56" r="0.55"/><circle cx="100.42" cy="558.6" r="0.55"/><circle cx="102.4" cy="564.63" r="0.55"/><circle cx="101" cy="554.22" r="0.55"/><circle cx="100.9" cy="555.78" r="0.55"/><circle cx="100.7" cy="555.92" r="0.55"/><circle cx="100.1" cy="557.73" r="0.55"/><circle cx="100.64" cy="557.13" r="0.55"/><circle cx="99.33" cy="558.75" r="0.55"/><circle cx="102.25" cy="561.35" r="0.55"/><circle cx="100.58" cy="552.11" r="0.55"/><circle cx="99.46" cy="551.94" r="0.55"/><circle cx="100.44" cy="556.4" r="0.55"/><circle cx="98.76" cy="561.46" r="0.55"/><circle cx="99.11" cy="554.46" r="0.55"/><circle cx="100.33" cy="562.28" r="0.55"/><circle cx="104.14" cy="556.18" r="0.55"/><circle cx="100.99" cy="555.98" r="0.55"/><circle cx="101.1" cy="557.13" r="0.55"/><circle cx="105.07" cy="552.39" r="0.55"/><circle cx="101.24" cy="553.94" r="0.55"/><circle cx="101.93" cy="555.32" r="0.55"/><circle cx="102.26" cy="552.43" r="0.55"/><circle cx="104.54" cy="559.08" r="0.55"/><circle cx="98.77" cy="561.6" r="0.55"/><circle cx="100.7" cy="552.06" r="0.55"/><circle cx="102.06" cy="555.34" r="0.55"/><circle cx="102.5" cy="555.19" r="0.55"/><circle cx="102.74" cy="558.77" r="0.55"/><circle cx="101.93" cy="558.81" r="0.55"/><circle cx="100.86" cy="556.14" r="0.55"/><circle cx="102.07" cy="561.65" r="0.55"/><circle cx="100.79" cy="569.5" r="0.55"/><circle cx="103.91" cy="552.12" r="0.55"/><circle cx="103.01" cy="557.64" r="0.55"/><circle cx="101.75" cy="553.95" r="0.55"/><circle cx="103.85" cy="553.77" r="0.55"/><circle cx="101.28" cy="554.29" r="0.55"/><circle cx="104.27" cy="564.44" r="0.55"/><circle cx="99.44" cy="555.7" r="0.55"/><circle cx="101.94" cy="555.79" r="0.55"/><circle cx="100.88" cy="552.48" r="0.55"/><circle cx="101.77" cy="552.41" r="0.55"/><circle cx="102.63" cy="570.29" r="0.55"/><circle cx="100.92" cy="566.43" r="0.55"/><circle cx="101.95" cy="554.58" r="0.55"/><circle cx="100.89" cy="553.09" r="0.55"/><circle cx="101.57" cy="561.59" r="0.55"/><circle cx="102.78" cy="556.58" r="0.55"/><circle cx="99.63" cy="557.62" r="0.55"/><circle cx="103.88" cy="559.45" r="0.55"/><circle cx="101.31" cy="547.38" r="0.55"/><circle cx="100.76" cy="560.79" r="0.55"/><circle cx="100" cy="564.91" r="0.55"/><circle cx="100.56" cy="553.55" r="0.55"/><circle cx="100.54" cy="557.54" r="0.55"/><circle cx="102.88" cy="555.12" r="0.55"/><circle cx="98.76" cy="557.61" r="0.55"/><circle cx="102.17" cy="565.88" r="0.55"/><circle cx="99.74" cy="565.58" r="0.55"/><circle cx="102.4" cy="560.33" r="0.55"/><circle cx="100.27" cy="553.51" r="0.55"/><circle cx="99.99" cy="562.78" r="0.55"/><circle cx="101.72" cy="563.46" r="0.55"/><circle cx="104.09" cy="558.11" r="0.55"/><circle cx="101.33" cy="567.8" r="0.55"/><circle cx="99.47" cy="555.73" r="0.55"/><circle cx="100.85" cy="556.08" r="0.55"/><circle cx="101.61" cy="553.74" r="0.55"/><circle cx="103.11" cy="551.06" r="0.55"/><circle cx="100.2" cy="549.4" r="0.55"/><circle cx="99.33" cy="561.01" r="0.55"/><circle cx="102.33" cy="557.02" r="0.55"/><circle cx="102.65" cy="561.17" r="0.55"/><circle cx="100.55" cy="557.82" r="0.55"/><circle cx="101.94" cy="568.27" r="0.55"/><circle cx="100.75" cy="559.91" r="0.55"/><circle cx="102.21" cy="564.23" r="0.55"/><circle cx="102.03" cy="563.49" r="0.55"/><circle cx="99.83" cy="556.69" r="0.55"/><circle cx="98.54" cy="557.77" r="0.55"/><circle cx="104.84" cy="559.26" r="0.55"/><circle cx="101.53" cy="559.38" r="0.55"/><circle cx="101.61" cy="551.29" r="0.55"/><circle cx="100.38" cy="557.14" r="0.55"/><circle cx="101.65" cy="553.64" r="0.55"/><circle cx="101.24" cy="554.3" r="0.55"/><circle cx="99.45" cy="554.68" r="0.55"/><circle cx="100.21" cy="562.29" r="0.55"/><circle cx="103.38" cy="560.98" r="0.55"/><circle cx="101.09" cy="555.2" r="0.55"/><circle cx="99.08" cy="555.35" r="0.55"/><circle cx="103.71" cy="563.9" r="0.55"/><circle cx="101.73" cy="556.78" r="0.55"/><circle cx="101.41" cy="560.18" r="0.55"/><circle cx="101.39" cy="560.21" r="0.55"/><circle cx="100.26" cy="558.26" r="0.55"/><circle cx="100.88" cy="563.5" r="0.55"/><circle cx="99.57" cy="564.62" r="0.55"/><circle cx="101.27" cy="555.48" r="0.55"/><circle cx="101.43" cy="558.66" r="0.55"/><circle cx="101.06" cy="560.19" r="0.55"/><circle cx="100.55" cy="549.44" r="0.55"/><circle cx="102.43" cy="557.91" r="0.55"/><circle cx="103.86" cy="560" r="0.55"/><circle cx="98.45" cy="564.33" r="0.55"/><circle cx="100.39" cy="560.82" r="0.55"/><circle cx="104.67" cy="563.57" r="0.55"/><circle cx="99.79" cy="557.57" r="0.55"/><circle cx="99.03" cy="561.43" r="0.55"/><circle cx="102.23" cy="552.83" r="0.55"/><circle cx="102.07" cy="562.78" r="0.55"/><circle cx="102.59" cy="554.64" r="0.55"/><circle cx="100.38" cy="552.36" r="0.55"/><circle cx="99.5" cy="559.64" r="0.55"/><circle cx="101.46" cy="564.64" r="0.55"/><circle cx="101.8" cy="556.41" r="0.55"/><circle cx="99.3" cy="565.86" r="0.55"/><circle cx="101.64" cy="557.88" r="0.55"/><circle cx="99.92" cy="552.73" r="0.55"/><circle cx="102.33" cy="553.11" r="0.55"/><circle cx="102.26" cy="561.22" r="0.55"/><circle cx="100.84" cy="549.83" r="0.55"/><circle cx="102.01" cy="565.16" r="0.55"/><circle cx="100.19" cy="551.65" r="0.55"/><circle cx="103" cy="558.77" r="0.55"/><circle cx="100.48" cy="564.25" r="0.55"/><circle cx="100.99" cy="560.33" r="0.55"/><circle cx="100.81" cy="554.25" r="0.55"/><circle cx="101.72" cy="553.7" r="0.55"/><circle cx="98.79" cy="555.32" r="0.55"/><circle cx="103.22" cy="563.6" r="0.55"/><circle cx="104.6" cy="563.07" r="0.55"/><circle cx="103.78" cy="559.31" r="0.55"/><circle cx="100.76" cy="560.4" r="0.55"/><circle cx="100" cy="561.76" r="0.55"/><circle cx="100.74" cy="559.35" r="0.55"/><circle cx="100.15" cy="557.37" r="0.55"/><circle cx="102.84" cy="556.96" r="0.55"/><circle cx="100.41" cy="559.48" r="0.55"/><circle cx="102.7" cy="557.11" r="0.55"/><circle cx="99.68" cy="550.18" r="0.55"/><circle cx="99.43" cy="563.43" r="0.55"/><circle cx="101.27" cy="560.46" r="0.55"/><circle cx="102.98" cy="559.49" r="0.55"/><circle cx="102.11" cy="555.51" r="0.55"/><circle cx="99.03" cy="561.22" r="0.55"/><circle cx="101.26" cy="560.95" r="0.55"/><circle cx="99.83" cy="557.34" r="0.55"/><circle cx="104.36" cy="553.82" r="0.55"/><circle cx="101.54" cy="564.65" r="0.55"/><circle cx="101.06" cy="558.69" r="0.55"/><circle cx="98.27" cy="561.96" r="0.55"/><circle cx="100.75" cy="564.53" r="0.55"/><circle cx="101.27" cy="556.18" r="0.55"/><circle cx="102.04" cy="556.85" r="0.55"/><circle cx="100.64" cy="565.82" r="0.55"/><circle cx="102.84" cy="558.61" r="0.55"/><circle cx="102.59" cy="562.21" r="0.55"/><circle cx="102.25" cy="558.3" r="0.55"/><circle cx="101.51" cy="560.11" r="0.55"/><circle cx="102.23" cy="559.84" r="0.55"/><circle cx="100.59" cy="557.69" r="0.55"/><circle cx="102.07" cy="553.13" r="0.55"/><circle cx="101.39" cy="561.86" r="0.55"/><circle cx="101.65" cy="556.64" r="0.55"/><circle cx="101.37" cy="555.65" r="0.55"/><circle cx="102.84" cy="556.18" r="0.55"/><circle cx="98.95" cy="552.03" r="0.55"/><circle cx="101.84" cy="559.12" r="0.55"/><circle cx="100.71" cy="551.51" r="0.55"/><circle cx="101.18" cy="553.87" r="0.55"/><circle cx="100.44" cy="558.07" r="0.55"/><circle cx="100.27" cy="559.63" r="0.55"/><circle cx="100.31" cy="555.75" r="0.55"/><circle cx="101.07" cy="565.37" r="0.55"/><circle cx="103.72" cy="562.79" r="0.55"/><circle cx="100.32" cy="558.1" r="0.55"/><circle cx="102.74" cy="562.1" r="0.55"/><circle cx="99.01" cy="557.8" r="0.55"/><circle cx="100.31" cy="561.82" r="0.55"/><circle cx="102.34" cy="555.4" r="0.55"/><circle cx="104.55" cy="556.7" r="0.55"/><circle cx="104.99" cy="557.23" r="0.55"/><circle cx="101.28" cy="567.53" r="0.55"/><circle cx="100.63" cy="555.73" r="0.55"/><circle cx="103.57" cy="557.88" r="0.55"/><circle cx="102.1" cy="551.82" r="0.55"/><circle cx="104.03" cy="562.97" r="0.55"/><circle cx="101.92" cy="561.59" r="0.55"/><circle cx="100.67" cy="555.72" r="0.55"/><circle cx="99.09" cy="559.92" r="0.55"/><circle cx="103.22" cy="562.34" r="0.55"/><circle cx="102.75" cy="561.61" r="0.55"/><circle cx="100.05" cy="551.6" r="0.55"/><circle cx="102.34" cy="558.91" r="0.55"/><circle cx="102.85" cy="556.72" r="0.55"/><circle cx="100.11" cy="560.29" r="0.55"/><circle cx="100.58" cy="549.94" r="0.55"/><circle cx="100.51" cy="553.73" r="0.55"/><circle cx="99.76" cy="555.35" r="0.55"/><circle cx="102.79" cy="569.75" r="0.55"/><circle cx="103.94" cy="556.03" r="0.55"/><circle cx="103.08" cy="557.73" r="0.55"/><circle cx="101.99" cy="554.73" r="0.55"/><circle cx="101.29" cy="549.77" r="0.55"/><circle cx="104.03" cy="554.29" r="0.55"/><circle cx="102.26" cy="555.18" r="0.55"/><circle cx="101.8" cy="552.26" r="0.55"/><circle cx="100.85" cy="562.61" r="0.55"/><circle cx="102.27" cy="548.47" r="0.55"/><circle cx="102.65" cy="551.59" r="0.55"/><circle cx="101.82" cy="560.65" r="0.55"/><circle cx="100.46" cy="556.51" r="0.55"/><circle cx="101.04" cy="560.07" r="0.55"/><circle cx="102.74" cy="564.83" r="0.55"/><circle cx="101.88" cy="567.95" r="0.55"/><circle cx="100.01" cy="566.89" r="0.55"/><circle cx="101.02" cy="561.88" r="0.55"/><circle cx="101.22" cy="558.5" r="0.55"/><circle cx="100.05" cy="560" r="0.55"/><circle cx="104.37" cy="558.82" r="0.55"/><circle cx="101.37" cy="558.11" r="0.55"/><circle cx="102.45" cy="557.08" r="0.55"/><circle cx="101.39" cy="559.15" r="0.55"/><circle cx="103.31" cy="562.79" r="0.55"/><circle cx="99.85" cy="554.97" r="0.55"/><circle cx="101.43" cy="562.27" r="0.55"/><circle cx="102.82" cy="557.06" r="0.55"/><circle cx="104.52" cy="557.28" r="0.55"/><circle cx="103.46" cy="565.12" r="0.55"/><circle cx="103.74" cy="559.08" r="0.55"/><circle cx="102.25" cy="550.54" r="0.55"/><circle cx="98.79" cy="555.07" r="0.55"/><circle cx="102.46" cy="563.34" r="0.55"/><circle cx="101.25" cy="563.22" r="0.55"/><circle cx="102.25" cy="565.61" r="0.55"/><circle cx="99.06" cy="553.99" r="0.55"/><circle cx="100" cy="552.93" r="0.55"/><circle cx="103.82" cy="553.52" r="0.55"/><circle cx="100.18" cy="556.12" r="0.55"/><circle cx="102.7" cy="555.81" r="0.55"/><circle cx="102.48" cy="560.8" r="0.55"/><circle cx="100.05" cy="551.92" r="0.55"/><circle cx="103.8" cy="554.54" r="0.55"/><circle cx="99.83" cy="559.95" r="0.55"/><circle cx="101.48" cy="553.46" r="0.55"/><circle cx="103.01" cy="562.6" r="0.55"/><circle cx="101.81" cy="554.34" r="0.55"/><circle cx="100.12" cy="547.96" r="0.55"/><circle cx="101.96" cy="560.02" r="0.55"/><circle cx="100.05" cy="558.21" r="0.55"/><circle cx="106.22" cy="552.51" r="0.55"/><circle cx="98.89" cy="561.09" r="0.55"/><circle cx="100.77" cy="555.64" r="0.55"/><circle cx="102.31" cy="557.43" r="0.55"/><circle cx="102.86" cy="560.62" r="0.55"/><circle cx="103.11" cy="558.67" r="0.55"/><circle cx="98.23" cy="564.78" r="0.55"/><circle cx="98.9" cy="563.23" r="0.55"/><circle cx="101.77" cy="551.21" r="0.55"/><circle cx="101.5" cy="562.42" r="0.55"/><circle cx="99.9" cy="558.28" r="0.55"/><circle cx="100.31" cy="553.11" r="0.55"/><circle cx="100.49" cy="564.37" r="0.55"/><circle cx="102.41" cy="557.92" r="0.55"/><circle cx="101.28" cy="558.7" r="0.55"/><circle cx="101.82" cy="558.98" r="0.55"/><circle cx="98.87" cy="562.61" r="0.55"/><circle cx="102.43" cy="552.1" r="0.55"/><circle cx="101.19" cy="557.6" r="0.55"/><circle cx="100.53" cy="560.71" r="0.55"/><circle cx="101" cy="556.68" r="0.55"/><circle cx="100" cy="556.67" r="0.55"/><circle cx="99.87" cy="558.27" r="0.55"/><circle cx="103.35" cy="563.05" r="0.55"/><circle cx="102.03" cy="551.33" r="0.55"/><circle cx="102.91" cy="562.68" r="0.55"/><circle cx="104.44" cy="546.93" r="0.55"/><circle cx="101.42" cy="556.41" r="0.55"/><circle cx="103" cy="552.68" r="0.55"/><circle cx="100.84" cy="569.53" r="0.55"/><circle cx="102.87" cy="548.19" r="0.55"/><circle cx="101.43" cy="564.82" r="0.55"/><circle cx="100.49" cy="561" r="0.55"/><circle cx="101.55" cy="550.82" r="0.55"/><circle cx="100.48" cy="563.67" r="0.55"/><circle cx="103.15" cy="555.07" r="0.55"/><circle cx="103.06" cy="554.53" r="0.55"/><circle cx="101.76" cy="557.94" r="0.55"/><circle cx="99.56" cy="559.64" r="0.55"/><circle cx="100.18" cy="553.85" r="0.55"/><circle cx="100.17" cy="553.2" r="0.55"/><circle cx="102.71" cy="558.4" r="0.55"/><circle cx="101.78" cy="556.72" r="0.55"/><circle cx="101.49" cy="556.74" r="0.55"/><circle cx="99.79" cy="550.51" r="0.55"/><circle cx="101.51" cy="563.08" r="0.55"/><circle cx="101.75" cy="566.03" r="0.55"/><circle cx="99.39" cy="556.72" r="0.55"/><circle cx="100.49" cy="564.15" r="0.55"/><circle cx="103.9" cy="555.45" r="0.55"/><circle cx="102.48" cy="556.83" r="0.55"/><circle cx="99.93" cy="557.48" r="0.55"/><circle cx="99.86" cy="565.72" r="0.55"/><circle cx="102.27" cy="563.92" r="0.55"/><circle cx="102.58" cy="558.48" r="0.55"/><circle cx="97.88" cy="558.53" r="0.55"/><circle cx="102.89" cy="566.52" r="0.55"/><circle cx="99.89" cy="561.94" r="0.55"/><circle cx="101.89" cy="557.17" r="0.55"/><circle cx="100.98" cy="560.66" r="0.55"/><circle cx="102.25" cy="561.3" r="0.55"/><circle cx="100.8" cy="551.47" r="0.55"/><circle cx="103.35" cy="564.48" r="0.55"/><circle cx="100.57" cy="557.87" r="0.55"/><circle cx="102.59" cy="549.29" r="0.55"/><circle cx="102.14" cy="570.05" r="0.55"/><circle cx="101.8" cy="554.52" r="0.55"/><circle cx="104.41" cy="558.07" r="0.55"/><circle cx="101.71" cy="555.91" r="0.55"/><circle cx="101.67" cy="549.09" r="0.55"/><circle cx="99.51" cy="550.68" r="0.55"/><circle cx="102.73" cy="557.56" r="0.55"/><circle cx="103.1" cy="547.88" r="0.55"/><circle cx="100.52" cy="565.27" r="0.55"/><circle cx="100.23" cy="548.74" r="0.55"/><circle cx="100.3" cy="556.3" r="0.55"/><circle cx="101.38" cy="564.51" r="0.55"/><circle cx="103.36" cy="565.74" r="0.55"/><circle cx="102.26" cy="555.52" r="0.55"/><circle cx="100.67" cy="550.65" r="0.55"/><circle cx="103.28" cy="564.26" r="0.55"/><circle cx="101.53" cy="553.58" r="0.55"/><circle cx="102.4" cy="560.45" r="0.55"/><circle cx="101.63" cy="552.22" r="0.55"/><circle cx="101.75" cy="555.19" r="0.55"/><circle cx="102.49" cy="560.99" r="0.55"/><circle cx="102.05" cy="555.88" r="0.55"/><circle cx="103.65" cy="561.87" r="0.55"/><circle cx="103.27" cy="562.19" r="0.55"/><circle cx="102.38" cy="559.96" r="0.55"/><circle cx="99.82" cy="548.94" r="0.55"/></g>
<g fill="#6060e0" fill-opacity="0.5"><circle cx="102.99" cy="560.33" r="0.5"/><circle cx="99.21" cy="557.58" r="0.5"/><circle cx="101.32" cy="568.87" r="0.5"/><circle cx="106.04" cy="568.77" r="0.5"/><circle cx="104.22" cy="566.62" r="0.5"/><circle cx="100.17" cy="558.7" r="0.5"/><circle cx="101.83" cy="556.11" r="0.5"/><circle cx="106.29" cy="554.4" r="0.5"/><circle cx="102.15" cy="556.12" r="0.5"/><circle cx="107.54" cy="565.09" r="0.5"/><circle cx="103.71" cy="558.57" r="0.5"/><circle cx="108.12" cy="572.67" r="0.5"/><circle cx="103.4" cy="563.28" r="0.5"/><circle cx="107.53" cy="555.46" r="0.5"/><circle cx="101.49" cy="551.6" r="0.5"/><circle cx="103.92" cy="568.37" r="0.5"/><circle cx="100.47" cy="559.9" r="0.5"/><circle cx="108.81" cy="561.13" r="0.5"/><circle cx="102.72" cy="570.15" r="0.5"/><circle cx="107.82" cy="558.48" r="0.5"/><circle cx="100.14" cy="565.04" r="0.5"/><circle cx="106.3" cy="572.27" r="0.5"/><circle cx="105.5" cy="556.75" r="0.5"/><circle cx="104.05" cy="556.25" r="0.5"/><circle cx="103.36" cy="560.8" r="0.5"/><circle cx="108.02" cy="571.83" r="0.5"/><circle cx="108.16" cy="561.05" r="0.5"/><circle cx="108.54" cy="552.5" r="0.5"/><circle cx="108.11" cy="565.13" r="0.5"/><circle cx="107.62" cy="559.42" r="0.5"/><circle cx="108.81" cy="549.63" r="0.5"/><circle cx="107.38" cy="569.65" r="0.5"/><circle cx="102.64" cy="569.88" r="0.5"/><circle cx="101.04" cy="567.96" r="0.5"/><circle cx="103.58" cy="559.36" r="0.5"/><circle cx="100.87" cy="569.16" r="0.5"/><circle cx="106.21" cy="551.24" r="0.5"/><circle cx="108.68" cy="554.58" r="0.5"/><circle cx="102.65" cy="559.45" r="0.5"/><circle cx="104.67" cy="571.43" r="0.5"/><circle cx="108.35" cy="564.96" r="0.5"/><circle cx="102.56" cy="551.71" r="0.5"/><circle cx="99.59" cy="562.08" r="0.5"/><circle cx="104.73" cy="560.27" r="0.5"/><circle cx="108.72" cy="559.42" r="0.5"/><circle cx="102.41" cy="559.54" r="0.5"/><circle cx="100.62" cy="572.67" r="0.5"/><circle cx="104.81" cy="562.68" r="0.5"/><circle cx="103.16" cy="555.3" r="0.5"/><circle cx="102.05" cy="561.44" r="0.5"/><circle cx="103.36" cy="573.68" r="0.5"/><circle cx="104.53" cy="554.22" r="0.5"/><circle cx="99.44" cy="553.01" r="0.5"/><circle cx="102.36" cy="568.72" r="0.5"/><circle cx="107.79" cy="554.96" r="0.5"/><circle cx="106.7" cy="560.13" r="0.5"/><circle cx="104.28" cy="562.43" r="0.5"/><circle cx="99.33" cy="550.67" r="0.5"/><circle cx="105.58" cy="566.37" r="0.5"/><circle cx="102.7" cy="572.16" r="0.5"/></g>
<g fill="#555" fill-opacity="0.4"><circle cx="53.27" cy="579.55" r="0.45"/><circle cx="62.51" cy="581.85" r="0.45"/><circle cx="49.87" cy="583.82" r="0.45"/><circle cx="61.47" cy="581.13" r="0.45"/><circle cx="64.19" cy="579.1" r="0.45"/><circle cx="49.03" cy="584.64" r="0.45"/><circle cx="51.57" cy="588.91" r="0.45"/><circle cx="57.88" cy="586.25" r="0.45"/><circle cx="52.77" cy="578.09" r="0.45"/><circle cx="49.75" cy="581.45" r="0.45"/><circle cx="51.94" cy="576.79" r="0.45"/><circle cx="48.09" cy="583.48" r="0.45"/><circle cx="50.13" cy="586.28" r="0.45"/><circle cx="61.24" cy="576.93" r="0.45"/><circle cx="45.7" cy="589.67" r="0.45"/><circle cx="60.26" cy="583.85" r="0.45"/><circle cx="62.93" cy="592.42" r="0.45"/><circle cx="60.43" cy="580.23" r="0.45"/><circle cx="50.21" cy="581.63" r="0.45"/><circle cx="61.22" cy="591.04" r="0.45"/><circle cx="57.62" cy="593.89" r="0.45"/><circle cx="54.27" cy="595.46" r="0.45"/><circle cx="42.33" cy="588.4" r="0.45"/><circle cx="59.16" cy="579.92" r="0.45"/><circle cx="55.01" cy="584.01" r="0.45"/><circle cx="54.58" cy="583.12" r="0.45"/><circle cx="48.13" cy="587.71" r="0.45"/><circle cx="51.54" cy="580.25" r="0.45"/><circle cx="63.27" cy="590.41" r="0.45"/><circle cx="43.74" cy="589.5" r="0.45"/><circle cx="52.91" cy="586.01" r="0.45"/><circle cx="52.11" cy="581.09" r="0.45"/><circle cx="54.15" cy="584.87" r="0.45"/><circle cx="59.57" cy="591.86" r="0.45"/><circle cx="49.5" cy="577.63" r="0.45"/><circle cx="48.34" cy="594.17" r="0.45"/><circle cx="50.23" cy="583.47" r="0.45"/><circle cx="46.11" cy="589.28" r="0.45"/><circle cx="51.28" cy="582.08" r="0.45"/><circle cx="55.76" cy="590.14" r="0.45"/><circle cx="60.41" cy="583.67" r="0.45"/><circle cx="48.37" cy="579.48" r="0.45"/><circle cx="63.89" cy="587.88" r="0.45"/><circle cx="65.25" cy="584.24" r="0.45"/><circle cx="57.14" cy="585.14" r="0.45"/><circle cx="58.88" cy="590.28" r="0.45"/><circle cx="60.86" cy="595.33" r="0.45"/><circle cx="57.16" cy="579.88" r="0.45"/><circle cx="48.33" cy="577.63" r="0.45"/><circle cx="49.38" cy="586.59" r="0.45"/><circle cx="59.36" cy="581.02" r="0.45"/><circle cx="55.08" cy="588.75" r="0.45"/><circle cx="47.44" cy="597.59" r="0.45"/><circle cx="65.46" cy="577.53" r="0.45"/><circle cx="54.58" cy="585.68" r="0.45"/><circle cx="55.93" cy="579.64" r="0.45"/><circle cx="56.8" cy="586.39" r="0.45"/><circle cx="53.93" cy="587.94" r="0.45"/><circle cx="58.69" cy="586.38" r="0.45"/><circle cx="47.18" cy="586.66" r="0.45"/><circle cx="56.53" cy="591.84" r="0.45"/><circle cx="51.26" cy="577.52" r="0.45"/><circle cx="50.1" cy="589.31" r="0.45"/><circle cx="67.73" cy="585.58" r="0.45"/><circle cx="51.3" cy="584.98" r="0.45"/><circle cx="63.69" cy="579.35" r="0.45"/><circle cx="59.57" cy="589.95" r="0.45"/><circle cx="53.71" cy="578.9" r="0.45"/><circle cx="46.44" cy="591.44" r="0.45"/><circle cx="62.04" cy="588.48" r="0.45"/><circle cx="63.15" cy="588.67" r="0.45"/><circle cx="59.23" cy="582.15" r="0.45"/><circle cx="58.03" cy="584.57" r="0.45"/><circle cx="50.61" cy="586.95" r="0.45"/><circle cx="53.3" cy="582.15" r="0.45"/><circle cx="58.86" cy="584.78" r="0.45"/><circle cx="50.53" cy="579.07" r="0.45"/><circle cx="57.28" cy="579.25" r="0.45"/><circle cx="55.44" cy="580.42" r="0.45"/><circle cx="67.05" cy="584.21" r="0.45"/><circle cx="51.27" cy="585.12" r="0.45"/><circle cx="56.24" cy="582.12" r="0.45"/><circle cx="56.31" cy="593.87" r="0.45"/><circle cx="50.18" cy="595.14" r="0.45"/><circle cx="68.72" cy="577.46" r="0.45"/><circle cx="51.71" cy="596.27" r="0.45"/><circle cx="45.92" cy="594.31" r="0.45"/><circle cx="56.78" cy="591.95" r="0.45"/><circle cx="61.14" cy="580.38" r="0.45"/><circle cx="67.27" cy="581.19" r="0.45"/><circle cx="48.17" cy="582.46" r="0.45"/><circle cx="56.01" cy="582.39" r="0.45"/><circle cx="45.87" cy="579.67" r="0.45"/><circle cx="53.12" cy="584.83" r="0.45"/><circle cx="57.5" cy="578.13" r="0.45"/><circle cx="42.18" cy="586.81" r="0.45"/><circle cx="55.02" cy="585.98" r="0.45"/><circle cx="56.65" cy="579.84" r="0.45"/><circle cx="57.64" cy="582.97" r="0.45"/><circle cx="62.87" cy="577.06" r="0.45"/><circle cx="57.16" cy="586.57" r="0.45"/><circle cx="50.82" cy="585.56" r="0.45"/><circle cx="59.96" cy="580.1" r="0.45"/><circle cx="70.66" cy="582.78" r="0.45"/><circle cx="63.83" cy="579.85" r="0.45"/><circle cx="48.28" cy="590.17" r="0.45"/><circle cx="61.89" cy="585.74" r="0.45"/><circle cx="53.27" cy="581.62" r="0.45"/><circle cx="55.45" cy="577.99" r="0.45"/><circle cx="56.74" cy="588.41" r="0.45"/><circle cx="48.21" cy="592.66" r="0.45"/><circle cx="47.56" cy="589.7" r="0.45"/><circle cx="57.83" cy="581.35" r="0.45"/><circle cx="59.41" cy="581.12" r="0.45"/><circle cx="55.07" cy="587.77" r="0.45"/><circle cx="53.57" cy="586.34" r="0.45"/><circle cx="57.59" cy="577.62" r="0.45"/><circle cx="46.7" cy="577.99" r="0.45"/><circle cx="57.46" cy="594.05" r="0.45"/><circle cx="60.89" cy="588.75" r="0.45"/><circle cx="42.89" cy="586.67" r="0.45"/><circle cx="59.82" cy="586.32" r="0.45"/><circle cx="56.69" cy="582.14" r="0.45"/><circle cx="56.71" cy="586.28" r="0.45"/><circle cx="46.54" cy="578.44" r="0.45"/><circle cx="43.35" cy="582.98" r="0.45"/><circle cx="46.96" cy="589.88" r="0.45"/><circle cx="46.05" cy="582.97" r="0.45"/><circle cx="45.55" cy="592.57" r="0.45"/><circle cx="50.88" cy="585.77" r="0.45"/><circle cx="51.11" cy="591.07" r="0.45"/><circle cx="50.09" cy="592.4" r="0.45"/><circle cx="53.8" cy="591.09" r="0.45"/><circle cx="51.33" cy="590.56" r="0.45"/><circle cx="56.3" cy="582.42" r="0.45"/><circle cx="63.47" cy="578.31" r="0.45"/><circle cx="52.26" cy="591.66" r="0.45"/><circle cx="47.99" cy="585.92" r="0.45"/><circle cx="55.04" cy="585.45" r="0.45"/><circle cx="57.17" cy="590.83" r="0.45"/><circle cx="54.67" cy="586.82" r="0.45"/><circle cx="57.49" cy="588.02" r="0.45"/><circle cx="44.71" cy="579.51" r="0.45"/><circle cx="49.82" cy="589.94" r="0.45"/><circle cx="62.17" cy="592.03" r="0.45"/><circle cx="63.12" cy="584.2" r="0.45"/><circle cx="62.18" cy="576.91" r="0.45"/><circle cx="51.95" cy="587.79" r="0.45"/><circle cx="64.69" cy="580.67" r="0.45"/><circle cx="66.09" cy="580.73" r="0.45"/><circle cx="47.46" cy="582.8" r="0.45"/><circle cx="51.29" cy="584.83" r="0.45"/><circle cx="47.41" cy="586.17" r="0.45"/><circle cx="63.22" cy="595.22" r="0.45"/><circle cx="52.01" cy="582.66" r="0.45"/><circle cx="58.46" cy="588.32" r="0.45"/><circle cx="48.53" cy="586.49" r="0.45"/><circle cx="47.81" cy="595.49" r="0.45"/><circle cx="63.46" cy="588.37" r="0.45"/><circle cx="57.82" cy="579.65" r="0.45"/><circle cx="51.1" cy="585.04" r="0.45"/><circle cx="50.85" cy="593.45" r="0.45"/><circle cx="48.43" cy="584.16" r="0.45"/><circle cx="57.42" cy="582.93" r="0.45"/><circle cx="50.38" cy="586.22" r="0.45"/><circle cx="56.77" cy="592.84" r="0.45"/><circle cx="56.81" cy="577.07" r="0.45"/><circle cx="59.22" cy="590.97" r="0.45"/><circle cx="59.46" cy="593.87" r="0.45"/><circle cx="59.13" cy="585.71" r="0.45"/><circle cx="46.64" cy="597.6" r="0.45"/><circle cx="58.25" cy="585.79" r="0.45"/><circle cx="58.79" cy="584.93" r="0.45"/><circle cx="55.02" cy="590.93" r="0.45"/><circle cx="50.71" cy="579.76" r="0.45"/><circle cx="49.59" cy="589.9" r="0.45"/><circle cx="47.46" cy="598.44" r="0.45"/><circle cx="64.91" cy="597.42" r="0.45"/><circle cx="45.37" cy="590.34" r="0.45"/><circle cx="53.26" cy="589.82" r="0.45"/><circle cx="67.7" cy="585.67" r="0.45"/><circle cx="53.65" cy="594.63" r="0.45"/><circle cx="49.1" cy="591.42" r="0.45"/><circle cx="57.52" cy="586.71" r="0.45"/><circle cx="55.13" cy="594.17" r="0.45"/><circle cx="53.87" cy="584.91" r="0.45"/><circle cx="48.91" cy="581.13" r="0.45"/><circle cx="59.33" cy="583.02" r="0.45"/><circle cx="63.66" cy="590.99" r="0.45"/><circle cx="48.71" cy="587.25" r="0.45"/><circle cx="57.55" cy="588.47" r="0.45"/><circle cx="56.87" cy="589.64" r="0.45"/><circle cx="43.12" cy="578.66" r="0.45"/><circle cx="51.25" cy="584.1" r="0.45"/><circle cx="58.02" cy="582.86" r="0.45"/><circle cx="58.7" cy="590.6" r="0.45"/><circle cx="51.93" cy="589.2" r="0.45"/><circle cx="54.41" cy="586.63" r="0.45"/><circle cx="58.05" cy="580.85" r="0.45"/><circle cx="54.26" cy="581.53" r="0.45"/><circle cx="48.45" cy="583.59" r="0.45"/><circle cx="55.66" cy="579.32" r="0.45"/><circle cx="58.7" cy="584.09" r="0.45"/><circle cx="44.68" cy="583.52" r="0.45"/><circle cx="56.47" cy="589.01" r="0.45"/><circle cx="62.83" cy="580.42" r="0.45"/><circle cx="54.29" cy="588.79" r="0.45"/><circle cx="46.41" cy="598.44" r="0.45"/><circle cx="56.66" cy="587.41" r="0.45"/><circle cx="44.81" cy="584.35" r="0.45"/><circle cx="50.78" cy="587.34" r="0.45"/><circle cx="54.79" cy="581.58" r="0.45"/><circle cx="58.68" cy="586.19" r="0.45"/><circle cx="47.85" cy="589.36" r="0.45"/><circle cx="44.1" cy="589.11" r="0.45"/><circle cx="56.35" cy="577.53" r="0.45"/><circle cx="65.94" cy="578.75" r="0.45"/><circle cx="59.34" cy="581.25" r="0.45"/><circle cx="62.93" cy="585.77" r="0.45"/><circle cx="52.87" cy="581.87" r="0.45"/><circle cx="58.68" cy="595.73" r="0.45"/><circle cx="51.62" cy="583.47" r="0.45"/><circle cx="44.27" cy="580.3" r="0.45"/><circle cx="52.91" cy="588.35" r="0.45"/><circle cx="48.91" cy="583.46" r="0.45"/><circle cx="58.17" cy="584.95" r="0.45"/><circle cx="53.18" cy="588" r="0.45"/><circle cx="52.45" cy="592.83" r="0.45"/></g>
<path d="M46.11,588.71 C46,587.18 46.34,584.32 47.19,582.64 C48.05,580.95 49.78,579.67 51.24,578.59 C52.71,577.51 54.28,576.47 55.97,576.16 C57.66,575.84 60.22,576.07 61.37,576.7 C62.52,577.33 63.01,578.61 62.85,579.94 C62.7,581.26 61.46,583.13 60.42,584.66 C59.39,586.19 58.06,587.88 56.64,589.12 C55.23,590.35 53.38,591.64 51.92,592.09 C50.46,592.54 48.84,592.38 47.87,591.82 C46.9,591.25 46.23,590.24 46.11,588.71Z" fill="#666" fill-opacity="0.35" filter="url(#sb2)"/>
<path d="M48.2,587.5 C48.12,586.37 48.37,584.25 49,583 C49.63,581.75 50.92,580.8 52,580 C53.08,579.2 54.25,578.43 55.5,578.2 C56.75,577.97 58.65,578.13 59.5,578.6 C60.35,579.07 60.72,580.02 60.6,581 C60.48,581.98 59.57,583.37 58.8,584.5 C58.03,585.63 57.05,586.88 56,587.8 C54.95,588.72 53.58,589.67 52.5,590 C51.42,590.33 50.22,590.22 49.5,589.8 C48.78,589.38 48.28,588.63 48.2,587.5Z" fill="#000" filter="url(#sb)"/>
<g fill="#999" fill-opacity="0.6"><circle cx="94.1" cy="585.49" r="0.4"/><circle cx="103.41" cy="578.22" r="0.4"/><circle cx="85.77" cy="597.67" r="0.4"/><circle cx="105.81" cy="597.38" r="0.4"/><circle cx="102.1" cy="588.52" r="0.4"/><circle cx="102.93" cy="589.37" r="0.4"/><circle cx="77.81" cy="582.07" r="0.4"/><circle cx="77.05" cy="596.33" r="0.4"/><circle cx="85.48" cy="585.57" r="0.4"/><circle cx="93.58" cy="578.52" r="0.4"/><circle cx="99.87" cy="594.5" r="0.4"/><circle cx="103.25" cy="596.46" r="0.4"/><circle cx="85.3" cy="579.55" r="0.4"/><circle cx="101.96" cy="592.14" r="0.4"/><circle cx="87.33" cy="584.1" r="0.4"/><circle cx="79.16" cy="595.33" r="0.4"/><circle cx="90.67" cy="594.88" r="0.4"/><circle cx="86.14" cy="583.59" r="0.4"/><circle cx="92.65" cy="593.35" r="0.4"/><circle cx="106.5" cy="584.32" r="0.4"/><circle cx="99.4" cy="585.48" r="0.4"/><circle cx="105.71" cy="593.68" r="0.4"/><circle cx="94.22" cy="584.54" r="0.4"/><circle cx="83.67" cy="596.55" r="0.4"/><circle cx="103.43" cy="583.22" r="0.4"/></g>
<rect x="41.3" y="546" width="69.6" height="53.2" fill="none" stroke="#7a7a7a" stroke-width="0.9"/>
<line x1="73.4" y1="546" x2="73.4" y2="599.2" stroke="#7a7a7a" stroke-width="0.9" />
<line x1="41.3" y1="576.2" x2="110.9" y2="576.2" stroke="#7a7a7a" stroke-width="0.9" />
<line x1="40.8" y1="599.2" x2="111.4" y2="599.2" stroke="#333" stroke-width="1.3" />
<line x1="41.3" y1="546" x2="41.3" y2="599.2" stroke="#555" stroke-width="1" />
<text x="42.9" y="550.6" font-size="4.6" font-weight="bold" fill="#111" stroke="#111" stroke-width="0.12" >12.2%</text>
<text x="75" y="550.6" font-size="4.6" font-weight="bold" fill="#111" stroke="#111" stroke-width="0.12" >46%</text>
<text x="72.6" y="596.8" font-size="4.6" text-anchor="end" font-weight="bold" fill="#111" stroke="#111" stroke-width="0.12" >40.8%</text>
<text x="110.1" y="596.8" font-size="4.6" text-anchor="end" font-weight="bold" fill="#111" stroke="#111" stroke-width="0.12" >1.0%</text>
<text x="64.4" y="569.7" font-size="3.8" fill="#444" >Q1</text>
<text x="75.4" y="569.7" font-size="3.8" fill="#444" >Q2</text>
<text x="64.4" y="586.7" font-size="3.8" fill="#444" >Q3</text>
<text x="75.4" y="586.7" font-size="3.8" fill="#444" >Q4</text>
<text x="29.9" y="552.8" font-size="5.2" fill="#222" stroke="#222" stroke-width="0.15" >10</text>
<text x="35.5" y="549.8" font-size="3.6" fill="#222" stroke="#222" stroke-width="0.15" >5</text>
<line x1="39.5" y1="550.8" x2="41.3" y2="550.8" stroke="#333" stroke-width="0.8" />
<text x="29.9" y="564.2" font-size="5.2" fill="#222" stroke="#222" stroke-width="0.15" >10</text>
<text x="35.5" y="561.2" font-size="3.6" fill="#222" stroke="#222" stroke-width="0.15" >4</text>
<line x1="39.5" y1="562.2" x2="41.3" y2="562.2" stroke="#333" stroke-width="0.8" />
<text x="29.9" y="577.2" font-size="5.2" fill="#222" stroke="#222" stroke-width="0.15" >10</text>
<text x="35.5" y="574.2" font-size="3.6" fill="#222" stroke="#222" stroke-width="0.15" >3</text>
<line x1="39.5" y1="575.2" x2="41.3" y2="575.2" stroke="#333" stroke-width="0.8" />
<text x="29.9" y="588.5" font-size="5.2" fill="#222" stroke="#222" stroke-width="0.15" >10</text>
<text x="35.5" y="585.5" font-size="3.6" fill="#222" stroke="#222" stroke-width="0.15" >2</text>
<line x1="39.5" y1="586.5" x2="41.3" y2="586.5" stroke="#333" stroke-width="0.8" />
<text x="37.8" y="597.6" font-size="5.2" text-anchor="end" fill="#222" >0</text>
<text x="33.8" y="601.4" font-size="4.6" text-anchor="end" fill="#444" >-27</text>
<text x="48.3" y="608.4" font-size="5.2" fill="#222" stroke="#222" stroke-width="0.15" >0</text>
<text x="54.3" y="608.4" font-size="5.2" fill="#222" stroke="#222" stroke-width="0.15" >10</text>
<text x="59.9" y="605.4" font-size="3.6" fill="#222" stroke="#222" stroke-width="0.15" >2</text>
<text x="69.8" y="608.4" font-size="5.2" fill="#222" stroke="#222" stroke-width="0.15" >10</text>
<text x="75.4" y="605.4" font-size="3.6" fill="#222" stroke="#222" stroke-width="0.15" >3</text>
<text x="86.4" y="608.4" font-size="5.2" fill="#222" stroke="#222" stroke-width="0.15" >10</text>
<text x="92" y="605.4" font-size="3.6" fill="#222" stroke="#222" stroke-width="0.15" >4</text>
<text x="103.9" y="608.4" font-size="5.2" fill="#222" stroke="#222" stroke-width="0.15" >10</text>
<text x="109.5" y="605.4" font-size="3.6" fill="#222" stroke="#222" stroke-width="0.15" >5</text>
<line x1="49.8" y1="599.2" x2="49.8" y2="601" stroke="#333" stroke-width="0.8" />
<line x1="57.3" y1="599.2" x2="57.3" y2="601" stroke="#333" stroke-width="0.8" />
<line x1="73.4" y1="599.2" x2="73.4" y2="601" stroke="#333" stroke-width="0.8" />
<line x1="89.4" y1="599.2" x2="89.4" y2="601" stroke="#333" stroke-width="0.8" />
<line x1="107.4" y1="599.2" x2="107.4" y2="601" stroke="#333" stroke-width="0.8" />
<text x="45" y="610.7" font-size="4.6" text-anchor="end" fill="#444" >-118</text>
<g fill="#d890e6" fill-opacity="0.5"><circle cx="168.43" cy="574.44" r="0.5"/><circle cx="150.37" cy="559.1" r="0.5"/><circle cx="166.99" cy="572.55" r="0.5"/><circle cx="159.58" cy="548.05" r="0.5"/><circle cx="162.39" cy="571.08" r="0.5"/><circle cx="162.11" cy="570.97" r="0.5"/><circle cx="166.36" cy="553.48" r="0.5"/><circle cx="168.31" cy="552.43" r="0.5"/><circle cx="159.32" cy="562.26" r="0.5"/><circle cx="152.95" cy="550.44" r="0.5"/><circle cx="166.63" cy="550.79" r="0.5"/><circle cx="168.17" cy="554.09" r="0.5"/><circle cx="168.25" cy="569.04" r="0.5"/><circle cx="159.47" cy="554.46" r="0.5"/><circle cx="165.66" cy="550.33" r="0.5"/><circle cx="163.91" cy="573.73" r="0.5"/><circle cx="167.85" cy="567.79" r="0.5"/><circle cx="167.87" cy="549.64" r="0.5"/><circle cx="163.76" cy="575.06" r="0.5"/><circle cx="167.78" cy="568.06" r="0.5"/><circle cx="167" cy="573.48" r="0.5"/><circle cx="167.2" cy="559.84" r="0.5"/><circle cx="158.83" cy="550.65" r="0.5"/><circle cx="155.22" cy="550.48" r="0.5"/><circle cx="165" cy="574.87" r="0.5"/><circle cx="167.06" cy="562.59" r="0.5"/><circle cx="160.25" cy="571.7" r="0.5"/><circle cx="161.59" cy="557.87" r="0.5"/><circle cx="159.64" cy="572.41" r="0.5"/><circle cx="156.95" cy="553.16" r="0.5"/><circle cx="158.26" cy="549.95" r="0.5"/><circle cx="154.15" cy="556.88" r="0.5"/><circle cx="145.57" cy="552.52" r="0.5"/><circle cx="165.76" cy="560.78" r="0.5"/><circle cx="160.99" cy="554.88" r="0.5"/><circle cx="157.56" cy="566.34" r="0.5"/><circle cx="167.02" cy="559.85" r="0.5"/><circle cx="162.73" cy="552.16" r="0.5"/><circle cx="164.46" cy="551.06" r="0.5"/><circle cx="144.65" cy="550.23" r="0.5"/><circle cx="169.04" cy="563.32" r="0.5"/><circle cx="160.84" cy="557.37" r="0.5"/><circle cx="160.54" cy="551.16" r="0.5"/><circle cx="167.4" cy="570.51" r="0.5"/><circle cx="166.65" cy="558.51" r="0.5"/><circle cx="156.08" cy="552.35" r="0.5"/><circle cx="144.25" cy="556.12" r="0.5"/><circle cx="164.3" cy="553.75" r="0.5"/><circle cx="166.36" cy="562.07" r="0.5"/><circle cx="163.73" cy="549.21" r="0.5"/><circle cx="153.33" cy="558.99" r="0.5"/><circle cx="157.49" cy="557.24" r="0.5"/><circle cx="149.44" cy="547.89" r="0.5"/><circle cx="155.72" cy="555.67" r="0.5"/><circle cx="162.97" cy="570.14" r="0.5"/><circle cx="156.29" cy="559.92" r="0.5"/><circle cx="162.19" cy="568.49" r="0.5"/><circle cx="168.27" cy="546.87" r="0.5"/><circle cx="162.48" cy="569.05" r="0.5"/><circle cx="163.08" cy="567.79" r="0.5"/><circle cx="152.33" cy="559.84" r="0.5"/><circle cx="153.3" cy="559.91" r="0.5"/><circle cx="155.24" cy="546.88" r="0.5"/><circle cx="168.48" cy="562.6" r="0.5"/><circle cx="168.41" cy="556.6" r="0.5"/><circle cx="164" cy="565.7" r="0.5"/><circle cx="168.22" cy="559.78" r="0.5"/><circle cx="166.14" cy="569.01" r="0.5"/><circle cx="152.87" cy="546.57" r="0.5"/><circle cx="143.86" cy="552.04" r="0.5"/><circle cx="166.06" cy="561.45" r="0.5"/><circle cx="168.09" cy="558" r="0.5"/><circle cx="165.42" cy="570.73" r="0.5"/><circle cx="155.99" cy="561.98" r="0.5"/><circle cx="149.67" cy="562.28" r="0.5"/><circle cx="161.25" cy="548.81" r="0.5"/><circle cx="167.17" cy="568.99" r="0.5"/><circle cx="153.82" cy="559.63" r="0.5"/><circle cx="155.9" cy="562.4" r="0.5"/><circle cx="164.07" cy="555.14" r="0.5"/><circle cx="168.58" cy="550.01" r="0.5"/><circle cx="162.82" cy="553.04" r="0.5"/><circle cx="168.71" cy="567.84" r="0.5"/><circle cx="165.25" cy="572.3" r="0.5"/><circle cx="166.23" cy="558.96" r="0.5"/><circle cx="157.01" cy="552.78" r="0.5"/><circle cx="162.96" cy="559.42" r="0.5"/><circle cx="168.42" cy="558.4" r="0.5"/><circle cx="155.43" cy="550.28" r="0.5"/><circle cx="163.75" cy="561.77" r="0.5"/><circle cx="153.63" cy="559.84" r="0.5"/><circle cx="161.94" cy="560.81" r="0.5"/><circle cx="167.58" cy="568.26" r="0.5"/><circle cx="164.92" cy="555.5" r="0.5"/><circle cx="151.39" cy="555.39" r="0.5"/><circle cx="166.94" cy="561.72" r="0.5"/><circle cx="167.54" cy="561.16" r="0.5"/><circle cx="157.33" cy="560.53" r="0.5"/><circle cx="167.22" cy="553.03" r="0.5"/><circle cx="156.45" cy="556.29" r="0.5"/><circle cx="164.24" cy="557.78" r="0.5"/><circle cx="165.2" cy="556.5" r="0.5"/><circle cx="163.42" cy="565.49" r="0.5"/><circle cx="165.22" cy="554.74" r="0.5"/><circle cx="168.1" cy="557.32" r="0.5"/><circle cx="167.52" cy="561.04" r="0.5"/><circle cx="150.7" cy="554.44" r="0.5"/><circle cx="162.16" cy="566.55" r="0.5"/><circle cx="159.67" cy="571.78" r="0.5"/><circle cx="164.76" cy="558.78" r="0.5"/><circle cx="160.14" cy="561.02" r="0.5"/><circle cx="163.23" cy="556.33" r="0.5"/><circle cx="165.54" cy="555.31" r="0.5"/><circle cx="154.78" cy="549.56" r="0.5"/><circle cx="168.2" cy="553.03" r="0.5"/><circle cx="146" cy="548.03" r="0.5"/><circle cx="164.55" cy="550.26" r="0.5"/><circle cx="168" cy="556.47" r="0.5"/><circle cx="165.29" cy="549.1" r="0.5"/><circle cx="158.11" cy="556.21" r="0.5"/><circle cx="152.41" cy="546.79" r="0.5"/><circle cx="155.29" cy="553.73" r="0.5"/><circle cx="162.77" cy="547.56" r="0.5"/><circle cx="157.51" cy="555.8" r="0.5"/><circle cx="165" cy="552.47" r="0.5"/><circle cx="167.97" cy="564.98" r="0.5"/><circle cx="164.87" cy="559.83" r="0.5"/><circle cx="165.83" cy="574.26" r="0.5"/><circle cx="146.15" cy="547.39" r="0.5"/><circle cx="148.45" cy="554.25" r="0.5"/><circle cx="159.24" cy="558.48" r="0.5"/><circle cx="163.42" cy="555.6" r="0.5"/><circle cx="156.81" cy="556.16" r="0.5"/><circle cx="167.84" cy="564.55" r="0.5"/><circle cx="168.38" cy="549.72" r="0.5"/><circle cx="164.32" cy="574.87" r="0.5"/><circle cx="168.82" cy="549.74" r="0.5"/><circle cx="157.2" cy="562.68" r="0.5"/><circle cx="164.08" cy="569.41" r="0.5"/><circle cx="155.09" cy="565.96" r="0.5"/><circle cx="160.97" cy="570.78" r="0.5"/><circle cx="166.14" cy="551.17" r="0.5"/><circle cx="168.58" cy="547.48" r="0.5"/><circle cx="163.15" cy="562.15" r="0.5"/><circle cx="162.94" cy="556.22" r="0.5"/><circle cx="165.48" cy="574.66" r="0.5"/><circle cx="161.57" cy="555.54" r="0.5"/><circle cx="150.43" cy="555.18" r="0.5"/><circle cx="154.7" cy="565.14" r="0.5"/><circle cx="165.69" cy="549.96" r="0.5"/><circle cx="161.42" cy="551.71" r="0.5"/><circle cx="164.98" cy="570.07" r="0.5"/><circle cx="152.75" cy="554.7" r="0.5"/><circle cx="158.59" cy="561" r="0.5"/><circle cx="168.37" cy="567.07" r="0.5"/><circle cx="168.26" cy="569.48" r="0.5"/><circle cx="164.75" cy="560.29" r="0.5"/><circle cx="166.49" cy="562.44" r="0.5"/><circle cx="153.95" cy="556.42" r="0.5"/><circle cx="159.94" cy="551.61" r="0.5"/><circle cx="161.26" cy="552.96" r="0.5"/><circle cx="157.17" cy="564.5" r="0.5"/><circle cx="154.29" cy="555.86" r="0.5"/><circle cx="164.33" cy="570.83" r="0.5"/><circle cx="155.42" cy="560" r="0.5"/><circle cx="161.42" cy="573.44" r="0.5"/><circle cx="160.97" cy="567.64" r="0.5"/><circle cx="153.14" cy="555.75" r="0.5"/><circle cx="166.66" cy="557.17" r="0.5"/><circle cx="163.69" cy="549.42" r="0.5"/><circle cx="163.14" cy="555.28" r="0.5"/><circle cx="168.25" cy="558.63" r="0.5"/><circle cx="158.86" cy="563.75" r="0.5"/><circle cx="159.74" cy="555.22" r="0.5"/><circle cx="155.68" cy="555.87" r="0.5"/><circle cx="151.46" cy="546.9" r="0.5"/><circle cx="145.31" cy="551.21" r="0.5"/><circle cx="168.22" cy="555.52" r="0.5"/><circle cx="160.17" cy="566.19" r="0.5"/><circle cx="155.94" cy="555.16" r="0.5"/><circle cx="161.12" cy="558.93" r="0.5"/><circle cx="165.98" cy="571.79" r="0.5"/><circle cx="162.91" cy="566.26" r="0.5"/><circle cx="168.81" cy="567.91" r="0.5"/><circle cx="162.62" cy="552.61" r="0.5"/><circle cx="166.02" cy="567.25" r="0.5"/><circle cx="164.69" cy="548.38" r="0.5"/><circle cx="159.22" cy="571.02" r="0.5"/><circle cx="163.07" cy="549.58" r="0.5"/><circle cx="163.22" cy="550.63" r="0.5"/><circle cx="146.77" cy="551.33" r="0.5"/><circle cx="166.84" cy="553.28" r="0.5"/><circle cx="159.53" cy="557.2" r="0.5"/><circle cx="165.89" cy="552.53" r="0.5"/><circle cx="156.02" cy="558.45" r="0.5"/><circle cx="159.82" cy="548.23" r="0.5"/><circle cx="157.51" cy="547.22" r="0.5"/><circle cx="165.6" cy="551.81" r="0.5"/><circle cx="166.15" cy="548.47" r="0.5"/><circle cx="158.29" cy="563.43" r="0.5"/><circle cx="159.36" cy="565.89" r="0.5"/><circle cx="158.3" cy="559.37" r="0.5"/><circle cx="168.97" cy="571.31" r="0.5"/><circle cx="163.49" cy="553.42" r="0.5"/><circle cx="167" cy="552.23" r="0.5"/><circle cx="168.65" cy="570.88" r="0.5"/><circle cx="149.43" cy="551.76" r="0.5"/><circle cx="161.9" cy="569.72" r="0.5"/><circle cx="142.05" cy="554.12" r="0.5"/><circle cx="161.93" cy="554.33" r="0.5"/><circle cx="157.87" cy="555.04" r="0.5"/><circle cx="164.33" cy="549.04" r="0.5"/><circle cx="154.84" cy="563.35" r="0.5"/><circle cx="151.88" cy="550.57" r="0.5"/><circle cx="168.32" cy="557.57" r="0.5"/><circle cx="158.62" cy="553.23" r="0.5"/><circle cx="155.93" cy="557.92" r="0.5"/><circle cx="160.68" cy="555.87" r="0.5"/><circle cx="166.65" cy="572.96" r="0.5"/><circle cx="167.61" cy="565.46" r="0.5"/><circle cx="155.21" cy="547.39" r="0.5"/><circle cx="159.06" cy="563.62" r="0.5"/><circle cx="168.31" cy="552.58" r="0.5"/><circle cx="160.05" cy="557.72" r="0.5"/><circle cx="143.51" cy="557.34" r="0.5"/><circle cx="148.48" cy="553.75" r="0.5"/><circle cx="167.94" cy="557.41" r="0.5"/><circle cx="167.67" cy="562.34" r="0.5"/><circle cx="162.32" cy="571.18" r="0.5"/><circle cx="168.58" cy="568.11" r="0.5"/><circle cx="168.32" cy="555.69" r="0.5"/><circle cx="150.64" cy="561.76" r="0.5"/><circle cx="166.23" cy="554.55" r="0.5"/><circle cx="164.01" cy="574.34" r="0.5"/><circle cx="154.15" cy="558.92" r="0.5"/><circle cx="167.05" cy="557.14" r="0.5"/><circle cx="157.76" cy="548.21" r="0.5"/><circle cx="160.31" cy="558.37" r="0.5"/><circle cx="163.43" cy="552.08" r="0.5"/><circle cx="153.28" cy="550.63" r="0.5"/><circle cx="167.34" cy="563.58" r="0.5"/><circle cx="142.47" cy="549.64" r="0.5"/><circle cx="147.1" cy="550.5" r="0.5"/><circle cx="163.28" cy="574.1" r="0.5"/><circle cx="163.18" cy="565.6" r="0.5"/><circle cx="161.22" cy="562.24" r="0.5"/><circle cx="155.23" cy="567.76" r="0.5"/><circle cx="165.56" cy="557.3" r="0.5"/><circle cx="163.63" cy="562.67" r="0.5"/><circle cx="162.38" cy="549.42" r="0.5"/><circle cx="160.19" cy="569.23" r="0.5"/><circle cx="159.34" cy="552.62" r="0.5"/><circle cx="161.78" cy="550.62" r="0.5"/><circle cx="166.73" cy="562.74" r="0.5"/><circle cx="149.93" cy="550.21" r="0.5"/><circle cx="155.08" cy="560.12" r="0.5"/><circle cx="166.84" cy="572.15" r="0.5"/><circle cx="168.5" cy="553.24" r="0.5"/><circle cx="154.07" cy="552.44" r="0.5"/><circle cx="164.34" cy="567.61" r="0.5"/><circle cx="149.8" cy="556.29" r="0.5"/><circle cx="168.9" cy="560.71" r="0.5"/><circle cx="149.57" cy="558.68" r="0.5"/><circle cx="168.95" cy="558.22" r="0.5"/><circle cx="148" cy="556.37" r="0.5"/><circle cx="161.46" cy="557.17" r="0.5"/><circle cx="167.55" cy="565.19" r="0.5"/><circle cx="144.5" cy="556.36" r="0.5"/><circle cx="163.89" cy="562.4" r="0.5"/><circle cx="153.22" cy="564.58" r="0.5"/><circle cx="159.57" cy="557.04" r="0.5"/><circle cx="167.89" cy="546.51" r="0.5"/><circle cx="158.98" cy="549.39" r="0.5"/><circle cx="150.71" cy="556.56" r="0.5"/><circle cx="166.4" cy="554.96" r="0.5"/><circle cx="162.91" cy="566.07" r="0.5"/><circle cx="163.47" cy="546.93" r="0.5"/><circle cx="160.63" cy="546.52" r="0.5"/><circle cx="164.87" cy="563.75" r="0.5"/><circle cx="168.08" cy="559.86" r="0.5"/><circle cx="162.55" cy="555.68" r="0.5"/><circle cx="164.1" cy="553.07" r="0.5"/><circle cx="166.31" cy="547.77" r="0.5"/><circle cx="151.13" cy="557.7" r="0.5"/><circle cx="154.78" cy="548.12" r="0.5"/><circle cx="164.86" cy="549.63" r="0.5"/><circle cx="168.83" cy="548.71" r="0.5"/><circle cx="162.14" cy="564.32" r="0.5"/><circle cx="155.36" cy="553.7" r="0.5"/><circle cx="166.2" cy="560.06" r="0.5"/><circle cx="164.07" cy="549.24" r="0.5"/><circle cx="164.12" cy="564.86" r="0.5"/><circle cx="150.43" cy="550.5" r="0.5"/><circle cx="165.49" cy="564.3" r="0.5"/><circle cx="164.78" cy="556.59" r="0.5"/><circle cx="157.87" cy="570.12" r="0.5"/><circle cx="148.65" cy="558.57" r="0.5"/><circle cx="154.66" cy="565.98" r="0.5"/><circle cx="161.43" cy="564.48" r="0.5"/><circle cx="164.48" cy="559.27" r="0.5"/><circle cx="167.64" cy="570.51" r="0.5"/><circle cx="158.84" cy="571.15" r="0.5"/><circle cx="155.9" cy="554.18" r="0.5"/><circle cx="161.55" cy="556.73" r="0.5"/><circle cx="149.96" cy="550.83" r="0.5"/><circle cx="148.57" cy="552.23" r="0.5"/><circle cx="155.85" cy="552.71" r="0.5"/><circle cx="158.07" cy="555.54" r="0.5"/><circle cx="162.8" cy="563.94" r="0.5"/><circle cx="168" cy="572.9" r="0.5"/><circle cx="160.52" cy="553.57" r="0.5"/><circle cx="145.18" cy="557.91" r="0.5"/><circle cx="167.54" cy="554.27" r="0.5"/><circle cx="155.07" cy="552.72" r="0.5"/><circle cx="169.02" cy="549.77" r="0.5"/><circle cx="154.72" cy="558.33" r="0.5"/><circle cx="163.48" cy="562.34" r="0.5"/><circle cx="164.87" cy="559.13" r="0.5"/><circle cx="160.96" cy="549.67" r="0.5"/><circle cx="158.19" cy="553.21" r="0.5"/><circle cx="166.05" cy="571.24" r="0.5"/><circle cx="166.57" cy="549.05" r="0.5"/><circle cx="166.32" cy="573.38" r="0.5"/><circle cx="167.77" cy="548.06" r="0.5"/><circle cx="161.83" cy="569.87" r="0.5"/><circle cx="163.18" cy="551.56" r="0.5"/><circle cx="167.55" cy="567.34" r="0.5"/><circle cx="153.42" cy="547.77" r="0.5"/><circle cx="166.08" cy="554.19" r="0.5"/><circle cx="167.84" cy="549.44" r="0.5"/><circle cx="144.19" cy="556.34" r="0.5"/><circle cx="157.97" cy="565.33" r="0.5"/><circle cx="163.82" cy="550.71" r="0.5"/><circle cx="167.19" cy="557.61" r="0.5"/><circle cx="166.39" cy="574.25" r="0.5"/><circle cx="167.59" cy="555" r="0.5"/><circle cx="167.51" cy="572.43" r="0.5"/><circle cx="154.9" cy="557.37" r="0.5"/><circle cx="165.66" cy="574.03" r="0.5"/><circle cx="153.73" cy="562.87" r="0.5"/><circle cx="164.02" cy="553.11" r="0.5"/><circle cx="166.31" cy="573.99" r="0.5"/><circle cx="166.85" cy="570.43" r="0.5"/><circle cx="159.53" cy="561.94" r="0.5"/><circle cx="164.4" cy="572.76" r="0.5"/><circle cx="161.93" cy="554.86" r="0.5"/><circle cx="161.31" cy="547.51" r="0.5"/><circle cx="159.48" cy="551.72" r="0.5"/><circle cx="162.49" cy="564.63" r="0.5"/><circle cx="156.14" cy="551.77" r="0.5"/><circle cx="166.3" cy="569.18" r="0.5"/><circle cx="155.58" cy="557.24" r="0.5"/><circle cx="163" cy="559.44" r="0.5"/><circle cx="164.7" cy="571.59" r="0.5"/><circle cx="154.07" cy="550.58" r="0.5"/><circle cx="166.05" cy="555.76" r="0.5"/><circle cx="160.27" cy="549.66" r="0.5"/><circle cx="163.54" cy="563.62" r="0.5"/><circle cx="165.72" cy="553.4" r="0.5"/><circle cx="155.59" cy="568.74" r="0.5"/><circle cx="155.24" cy="564.81" r="0.5"/><circle cx="165.8" cy="566.16" r="0.5"/><circle cx="161.58" cy="564.07" r="0.5"/><circle cx="159.53" cy="548.76" r="0.5"/><circle cx="162.67" cy="572.36" r="0.5"/><circle cx="163.36" cy="568.01" r="0.5"/><circle cx="152.94" cy="562.45" r="0.5"/><circle cx="165.74" cy="551.72" r="0.5"/><circle cx="165.4" cy="571.17" r="0.5"/><circle cx="157.35" cy="567.98" r="0.5"/><circle cx="149.74" cy="556.69" r="0.5"/><circle cx="158.13" cy="555.31" r="0.5"/><circle cx="150.6" cy="550.26" r="0.5"/><circle cx="165.26" cy="564.73" r="0.5"/><circle cx="168.06" cy="558.83" r="0.5"/><circle cx="163.87" cy="558.83" r="0.5"/><circle cx="166.53" cy="555.73" r="0.5"/><circle cx="165.98" cy="551.01" r="0.5"/><circle cx="152.19" cy="551.81" r="0.5"/><circle cx="166.26" cy="563.44" r="0.5"/><circle cx="166.2" cy="574.2" r="0.5"/><circle cx="152.43" cy="558.63" r="0.5"/><circle cx="163.32" cy="567.45" r="0.5"/><circle cx="163.53" cy="552.03" r="0.5"/><circle cx="161.98" cy="571.72" r="0.5"/><circle cx="159.28" cy="559.79" r="0.5"/><circle cx="154.1" cy="554.2" r="0.5"/><circle cx="168.75" cy="553.46" r="0.5"/><circle cx="159.83" cy="554.93" r="0.5"/><circle cx="167.89" cy="562.63" r="0.5"/><circle cx="147.83" cy="549.33" r="0.5"/><circle cx="159.37" cy="571.63" r="0.5"/><circle cx="158.7" cy="556.88" r="0.5"/><circle cx="160.63" cy="567.49" r="0.5"/><circle cx="161.49" cy="566.24" r="0.5"/><circle cx="151.46" cy="549.62" r="0.5"/><circle cx="151.63" cy="546.58" r="0.5"/><circle cx="154.59" cy="556.41" r="0.5"/><circle cx="159.73" cy="564.06" r="0.5"/><circle cx="165.01" cy="563.52" r="0.5"/><circle cx="167.29" cy="568.43" r="0.5"/><circle cx="156.41" cy="552.65" r="0.5"/><circle cx="164.39" cy="560.1" r="0.5"/><circle cx="161.87" cy="554.08" r="0.5"/><circle cx="156.87" cy="556.44" r="0.5"/><circle cx="165.18" cy="564.75" r="0.5"/><circle cx="167.47" cy="564.64" r="0.5"/><circle cx="165.54" cy="551.2" r="0.5"/><circle cx="166.82" cy="568.77" r="0.5"/><circle cx="163.09" cy="553.07" r="0.5"/><circle cx="155.35" cy="564.71" r="0.5"/><circle cx="155.24" cy="552.58" r="0.5"/><circle cx="167.15" cy="554.81" r="0.5"/><circle cx="150.75" cy="562.67" r="0.5"/><circle cx="164.18" cy="566.38" r="0.5"/><circle cx="162.62" cy="549.78" r="0.5"/><circle cx="160.12" cy="559.04" r="0.5"/><circle cx="148.47" cy="558.27" r="0.5"/><circle cx="152.16" cy="558.42" r="0.5"/><circle cx="156.72" cy="559.56" r="0.5"/><circle cx="156.83" cy="552.76" r="0.5"/><circle cx="165.46" cy="548.08" r="0.5"/><circle cx="163.98" cy="559.32" r="0.5"/><circle cx="153.89" cy="547.63" r="0.5"/><circle cx="154.63" cy="552.72" r="0.5"/><circle cx="167.1" cy="569.64" r="0.5"/><circle cx="154.52" cy="565.2" r="0.5"/><circle cx="149.9" cy="549.48" r="0.5"/><circle cx="159.56" cy="558.8" r="0.5"/><circle cx="166.73" cy="568.04" r="0.5"/><circle cx="150.9" cy="550.95" r="0.5"/><circle cx="168.18" cy="572.91" r="0.5"/><circle cx="168.68" cy="554.24" r="0.5"/><circle cx="151.13" cy="562.34" r="0.5"/><circle cx="166.22" cy="551.83" r="0.5"/><circle cx="168.38" cy="567.31" r="0.5"/><circle cx="163.72" cy="555.51" r="0.5"/><circle cx="155.61" cy="566.29" r="0.5"/><circle cx="165.59" cy="564.69" r="0.5"/><circle cx="157.17" cy="559.62" r="0.5"/><circle cx="167.38" cy="546.84" r="0.5"/><circle cx="149.65" cy="549.65" r="0.5"/><circle cx="168.7" cy="558.88" r="0.5"/><circle cx="163.54" cy="560.13" r="0.5"/><circle cx="150.55" cy="558.64" r="0.5"/><circle cx="161.64" cy="562.23" r="0.5"/><circle cx="167.35" cy="574.09" r="0.5"/><circle cx="168.77" cy="566.17" r="0.5"/><circle cx="165.99" cy="558.22" r="0.5"/><circle cx="144.08" cy="557.36" r="0.5"/><circle cx="153.39" cy="551.39" r="0.5"/><circle cx="155.06" cy="566.59" r="0.5"/><circle cx="158.48" cy="554.58" r="0.5"/><circle cx="156.2" cy="557.69" r="0.5"/><circle cx="167.14" cy="554.7" r="0.5"/><circle cx="158.07" cy="552.97" r="0.5"/><circle cx="160.05" cy="552.78" r="0.5"/><circle cx="165.92" cy="564.06" r="0.5"/><circle cx="149.87" cy="561.35" r="0.5"/><circle cx="167.05" cy="559.88" r="0.5"/><circle cx="167.41" cy="554.33" r="0.5"/><circle cx="165.48" cy="555.91" r="0.5"/><circle cx="165.22" cy="555.85" r="0.5"/><circle cx="152.32" cy="549.77" r="0.5"/><circle cx="163.09" cy="547.54" r="0.5"/><circle cx="153.55" cy="566.08" r="0.5"/><circle cx="166.61" cy="561.11" r="0.5"/><circle cx="162.99" cy="567.19" r="0.5"/><circle cx="159.51" cy="570.74" r="0.5"/><circle cx="151.39" cy="560.2" r="0.5"/><circle cx="148.64" cy="556.09" r="0.5"/><circle cx="167.39" cy="552.54" r="0.5"/><circle cx="161.19" cy="552.73" r="0.5"/><circle cx="162.09" cy="551.11" r="0.5"/><circle cx="163.34" cy="546.99" r="0.5"/><circle cx="167.71" cy="562.21" r="0.5"/><circle cx="161.03" cy="572.68" r="0.5"/><circle cx="163.4" cy="556.63" r="0.5"/><circle cx="156.25" cy="558.82" r="0.5"/><circle cx="168.47" cy="555.29" r="0.5"/><circle cx="167.75" cy="553.47" r="0.5"/><circle cx="162.44" cy="562.94" r="0.5"/></g>
<g fill="#b050d0" fill-opacity="0.45"><circle cx="165.87" cy="563.29" r="0.45"/><circle cx="164.68" cy="558.12" r="0.45"/><circle cx="162.82" cy="550.89" r="0.45"/><circle cx="161.13" cy="554.17" r="0.45"/><circle cx="163.01" cy="569.99" r="0.45"/><circle cx="157.15" cy="553.07" r="0.45"/><circle cx="160.58" cy="560.46" r="0.45"/><circle cx="166.02" cy="556.33" r="0.45"/><circle cx="160.95" cy="568.3" r="0.45"/><circle cx="163.97" cy="564.17" r="0.45"/><circle cx="165.17" cy="556.55" r="0.45"/><circle cx="163.58" cy="557.05" r="0.45"/><circle cx="161.12" cy="561.81" r="0.45"/><circle cx="164.13" cy="553.34" r="0.45"/><circle cx="160.99" cy="564.67" r="0.45"/><circle cx="163.43" cy="565" r="0.45"/><circle cx="162.18" cy="556.17" r="0.45"/><circle cx="165.03" cy="564.62" r="0.45"/><circle cx="155.6" cy="566.21" r="0.45"/><circle cx="161.01" cy="565.02" r="0.45"/><circle cx="167.09" cy="559.32" r="0.45"/><circle cx="160.47" cy="562.55" r="0.45"/><circle cx="163.23" cy="564.41" r="0.45"/><circle cx="159.34" cy="562.48" r="0.45"/><circle cx="165.33" cy="565.21" r="0.45"/><circle cx="164.64" cy="568.21" r="0.45"/><circle cx="160.85" cy="568.36" r="0.45"/><circle cx="163.54" cy="555.02" r="0.45"/><circle cx="162.22" cy="562.64" r="0.45"/><circle cx="163.86" cy="569.13" r="0.45"/><circle cx="163.5" cy="557.93" r="0.45"/><circle cx="168.7" cy="559.01" r="0.45"/><circle cx="160.85" cy="566.58" r="0.45"/><circle cx="161.91" cy="556.26" r="0.45"/><circle cx="160.22" cy="568.15" r="0.45"/><circle cx="160.23" cy="561.62" r="0.45"/><circle cx="161.81" cy="559.85" r="0.45"/><circle cx="160.87" cy="561.92" r="0.45"/><circle cx="164.57" cy="567.35" r="0.45"/><circle cx="162.06" cy="554" r="0.45"/><circle cx="159.13" cy="561.06" r="0.45"/><circle cx="156.52" cy="569.02" r="0.45"/><circle cx="163.07" cy="561.75" r="0.45"/><circle cx="159.36" cy="557.14" r="0.45"/><circle cx="161.06" cy="565.08" r="0.45"/><circle cx="161.93" cy="564.74" r="0.45"/><circle cx="164.34" cy="549.44" r="0.45"/><circle cx="162.39" cy="568.61" r="0.45"/><circle cx="161.66" cy="561.8" r="0.45"/><circle cx="162.67" cy="553.65" r="0.45"/><circle cx="168.69" cy="560.23" r="0.45"/><circle cx="164.66" cy="558.33" r="0.45"/><circle cx="166.66" cy="567.96" r="0.45"/><circle cx="166.08" cy="566.75" r="0.45"/><circle cx="164.83" cy="569.37" r="0.45"/><circle cx="164.05" cy="561.85" r="0.45"/><circle cx="165.11" cy="555.67" r="0.45"/><circle cx="156.38" cy="565.91" r="0.45"/><circle cx="163.4" cy="556.81" r="0.45"/><circle cx="162.3" cy="555.3" r="0.45"/><circle cx="160.8" cy="562.17" r="0.45"/><circle cx="163.32" cy="566.04" r="0.45"/><circle cx="162.76" cy="564.84" r="0.45"/><circle cx="164.78" cy="556.83" r="0.45"/><circle cx="158.59" cy="556.93" r="0.45"/><circle cx="162.34" cy="557.85" r="0.45"/><circle cx="168.76" cy="556.95" r="0.45"/><circle cx="164.24" cy="556.46" r="0.45"/><circle cx="164.8" cy="553.47" r="0.45"/><circle cx="165.48" cy="562.14" r="0.45"/><circle cx="161.95" cy="553.88" r="0.45"/><circle cx="167.35" cy="557.58" r="0.45"/><circle cx="166.76" cy="546.6" r="0.45"/><circle cx="159.87" cy="571.93" r="0.45"/><circle cx="167.65" cy="561.17" r="0.45"/><circle cx="165.6" cy="564.7" r="0.45"/><circle cx="162.06" cy="561.84" r="0.45"/><circle cx="160.01" cy="553.01" r="0.45"/><circle cx="163.32" cy="565.44" r="0.45"/><circle cx="163.42" cy="553.7" r="0.45"/><circle cx="165.21" cy="561.59" r="0.45"/><circle cx="164.96" cy="559.33" r="0.45"/><circle cx="162.31" cy="567.37" r="0.45"/><circle cx="166.58" cy="553.85" r="0.45"/><circle cx="160.11" cy="566.87" r="0.45"/><circle cx="163.94" cy="561.38" r="0.45"/><circle cx="160.44" cy="567.13" r="0.45"/><circle cx="163.49" cy="562.37" r="0.45"/><circle cx="164.01" cy="557.93" r="0.45"/><circle cx="164.04" cy="561.86" r="0.45"/><circle cx="164.88" cy="563.35" r="0.45"/><circle cx="159.66" cy="556.83" r="0.45"/><circle cx="162.3" cy="568.04" r="0.45"/><circle cx="161.3" cy="567.86" r="0.45"/><circle cx="165.81" cy="566.31" r="0.45"/><circle cx="168.88" cy="561.02" r="0.45"/><circle cx="163.84" cy="568.38" r="0.45"/><circle cx="164.06" cy="567.03" r="0.45"/><circle cx="162.66" cy="569.55" r="0.45"/><circle cx="163.92" cy="549.62" r="0.45"/><circle cx="165.83" cy="559.93" r="0.45"/><circle cx="160.7" cy="559.29" r="0.45"/><circle cx="162.26" cy="567.94" r="0.45"/><circle cx="163.87" cy="560.66" r="0.45"/><circle cx="162.96" cy="555.7" r="0.45"/><circle cx="161.33" cy="558.29" r="0.45"/><circle cx="162.41" cy="554.11" r="0.45"/><circle cx="161.96" cy="567.08" r="0.45"/><circle cx="164.18" cy="561.08" r="0.45"/><circle cx="163.9" cy="559.64" r="0.45"/><circle cx="159.9" cy="566.36" r="0.45"/><circle cx="168.86" cy="564.14" r="0.45"/><circle cx="159.84" cy="564.23" r="0.45"/><circle cx="162.11" cy="559.43" r="0.45"/><circle cx="158.68" cy="560.61" r="0.45"/><circle cx="164.04" cy="551.53" r="0.45"/><circle cx="162.42" cy="558.16" r="0.45"/><circle cx="160.39" cy="564.87" r="0.45"/><circle cx="167.29" cy="563.58" r="0.45"/><circle cx="165.68" cy="565.63" r="0.45"/><circle cx="162.83" cy="564.56" r="0.45"/><circle cx="166.46" cy="558.55" r="0.45"/><circle cx="162.61" cy="552.85" r="0.45"/><circle cx="158.15" cy="556.21" r="0.45"/><circle cx="165.34" cy="563.27" r="0.45"/><circle cx="163.68" cy="568.93" r="0.45"/><circle cx="158.39" cy="569.32" r="0.45"/><circle cx="163.22" cy="565.72" r="0.45"/><circle cx="166.61" cy="556.24" r="0.45"/><circle cx="160.73" cy="563.5" r="0.45"/><circle cx="162.85" cy="557.61" r="0.45"/><circle cx="162.67" cy="556.76" r="0.45"/><circle cx="163.35" cy="558.79" r="0.45"/><circle cx="167.44" cy="554.87" r="0.45"/><circle cx="164.52" cy="561.54" r="0.45"/><circle cx="167.13" cy="555.32" r="0.45"/><circle cx="161.78" cy="571.41" r="0.45"/><circle cx="161.28" cy="558.82" r="0.45"/><circle cx="161.98" cy="555.26" r="0.45"/></g>
<g fill="#5050d8" fill-opacity="0.42"><circle cx="175.23" cy="570.94" r="0.45"/><circle cx="189.97" cy="556" r="0.45"/><circle cx="182.53" cy="566.8" r="0.45"/><circle cx="181.1" cy="556.34" r="0.45"/><circle cx="185.08" cy="573.38" r="0.45"/><circle cx="174.03" cy="556.19" r="0.45"/><circle cx="183.97" cy="574.22" r="0.45"/><circle cx="197.01" cy="550.21" r="0.45"/><circle cx="188.03" cy="553.4" r="0.45"/><circle cx="176.9" cy="553.34" r="0.45"/><circle cx="184.4" cy="574.44" r="0.45"/><circle cx="196.32" cy="559.03" r="0.45"/><circle cx="194.6" cy="566.95" r="0.45"/><circle cx="173.5" cy="572.16" r="0.45"/><circle cx="178.6" cy="574.07" r="0.45"/><circle cx="174.98" cy="572.14" r="0.45"/><circle cx="184.73" cy="562.68" r="0.45"/><circle cx="176.28" cy="562.01" r="0.45"/><circle cx="191.04" cy="563.68" r="0.45"/><circle cx="196.69" cy="563.15" r="0.45"/><circle cx="194.75" cy="553.29" r="0.45"/><circle cx="190.46" cy="564.75" r="0.45"/><circle cx="194.2" cy="558.26" r="0.45"/><circle cx="183.45" cy="569.99" r="0.45"/><circle cx="178.15" cy="559.14" r="0.45"/><circle cx="193.27" cy="565.95" r="0.45"/><circle cx="184.13" cy="550.38" r="0.45"/><circle cx="191.15" cy="560.21" r="0.45"/><circle cx="177.68" cy="559.5" r="0.45"/><circle cx="175.12" cy="570.68" r="0.45"/><circle cx="192.01" cy="573.76" r="0.45"/><circle cx="188.86" cy="553.97" r="0.45"/><circle cx="182.42" cy="574.49" r="0.45"/><circle cx="171.62" cy="558.42" r="0.45"/><circle cx="175.42" cy="554.2" r="0.45"/><circle cx="178.64" cy="565.23" r="0.45"/><circle cx="173.32" cy="571.33" r="0.45"/><circle cx="182.61" cy="554.26" r="0.45"/><circle cx="174.19" cy="562.91" r="0.45"/><circle cx="180.54" cy="562.32" r="0.45"/><circle cx="174.36" cy="558.74" r="0.45"/><circle cx="184.54" cy="552.07" r="0.45"/><circle cx="184.44" cy="570.68" r="0.45"/><circle cx="186.7" cy="553.18" r="0.45"/><circle cx="187.76" cy="552.04" r="0.45"/><circle cx="175.24" cy="550.23" r="0.45"/><circle cx="185.18" cy="554.37" r="0.45"/><circle cx="178.74" cy="552.96" r="0.45"/><circle cx="194.51" cy="553.57" r="0.45"/><circle cx="188.86" cy="569.83" r="0.45"/><circle cx="183.1" cy="564.33" r="0.45"/><circle cx="180.13" cy="570.14" r="0.45"/><circle cx="189.15" cy="551.92" r="0.45"/><circle cx="189.62" cy="553.46" r="0.45"/><circle cx="183.91" cy="554.51" r="0.45"/><circle cx="184" cy="566.12" r="0.45"/><circle cx="190.37" cy="558" r="0.45"/><circle cx="173" cy="561.08" r="0.45"/><circle cx="195.01" cy="563.58" r="0.45"/><circle cx="187.46" cy="568.84" r="0.45"/><circle cx="187.93" cy="573.34" r="0.45"/><circle cx="196.04" cy="568.17" r="0.45"/><circle cx="192.26" cy="553.49" r="0.45"/><circle cx="178.38" cy="567.49" r="0.45"/><circle cx="186.46" cy="571.21" r="0.45"/><circle cx="191.42" cy="558.15" r="0.45"/><circle cx="175.99" cy="566.18" r="0.45"/><circle cx="174.44" cy="562.18" r="0.45"/><circle cx="178.66" cy="559.87" r="0.45"/><circle cx="188.34" cy="565.59" r="0.45"/><circle cx="187.41" cy="551.49" r="0.45"/><circle cx="194.49" cy="567.34" r="0.45"/><circle cx="194.82" cy="565.07" r="0.45"/><circle cx="188.15" cy="571.85" r="0.45"/><circle cx="190.7" cy="565.61" r="0.45"/><circle cx="172.62" cy="550.59" r="0.45"/><circle cx="189.95" cy="570.84" r="0.45"/><circle cx="181.49" cy="555.18" r="0.45"/><circle cx="182.9" cy="570.7" r="0.45"/><circle cx="190.94" cy="553.21" r="0.45"/><circle cx="176.76" cy="555.11" r="0.45"/><circle cx="190.68" cy="556.17" r="0.45"/><circle cx="194.35" cy="560.13" r="0.45"/><circle cx="176.54" cy="560.22" r="0.45"/><circle cx="175.18" cy="571.63" r="0.45"/><circle cx="172.19" cy="560.25" r="0.45"/><circle cx="181.29" cy="550.94" r="0.45"/><circle cx="177.28" cy="574.33" r="0.45"/><circle cx="193.59" cy="560.35" r="0.45"/><circle cx="193.95" cy="572.34" r="0.45"/><circle cx="193.55" cy="567.86" r="0.45"/><circle cx="186.12" cy="562.58" r="0.45"/><circle cx="189.94" cy="564.8" r="0.45"/><circle cx="196.51" cy="554.43" r="0.45"/><circle cx="194.6" cy="568.57" r="0.45"/><circle cx="182.93" cy="570.86" r="0.45"/><circle cx="178.93" cy="559.63" r="0.45"/><circle cx="186.37" cy="573.86" r="0.45"/><circle cx="177.81" cy="570.85" r="0.45"/><circle cx="188.43" cy="572.63" r="0.45"/><circle cx="179.28" cy="566.32" r="0.45"/><circle cx="194.35" cy="571.75" r="0.45"/><circle cx="189.48" cy="570.66" r="0.45"/><circle cx="187.83" cy="563.59" r="0.45"/><circle cx="176.52" cy="562.75" r="0.45"/><circle cx="196.61" cy="573.27" r="0.45"/><circle cx="172.68" cy="557.47" r="0.45"/><circle cx="177.73" cy="570.72" r="0.45"/><circle cx="176.26" cy="568.83" r="0.45"/><circle cx="176.62" cy="558.36" r="0.45"/><circle cx="196.49" cy="553.08" r="0.45"/><circle cx="186.49" cy="556.76" r="0.45"/><circle cx="190.95" cy="551.65" r="0.45"/><circle cx="188.93" cy="556.33" r="0.45"/><circle cx="196.11" cy="558.09" r="0.45"/><circle cx="188.73" cy="550.71" r="0.45"/><circle cx="195.65" cy="565.59" r="0.45"/><circle cx="195" cy="568.29" r="0.45"/><circle cx="173.14" cy="568.29" r="0.45"/><circle cx="181.35" cy="554.94" r="0.45"/><circle cx="194.4" cy="566.33" r="0.45"/><circle cx="180.54" cy="551.77" r="0.45"/><circle cx="188.22" cy="551.47" r="0.45"/><circle cx="177.72" cy="551.19" r="0.45"/><circle cx="176.01" cy="568.39" r="0.45"/><circle cx="178.45" cy="574.26" r="0.45"/><circle cx="178.75" cy="569.66" r="0.45"/><circle cx="190.44" cy="565.83" r="0.45"/><circle cx="187.08" cy="553.44" r="0.45"/><circle cx="192.81" cy="572.7" r="0.45"/><circle cx="185.2" cy="554.61" r="0.45"/><circle cx="173.8" cy="556.3" r="0.45"/><circle cx="196.48" cy="557.8" r="0.45"/><circle cx="178.78" cy="562.92" r="0.45"/><circle cx="172.49" cy="569.42" r="0.45"/><circle cx="191.56" cy="557.57" r="0.45"/><circle cx="172.36" cy="572.14" r="0.45"/><circle cx="192.33" cy="568.79" r="0.45"/><circle cx="176.99" cy="573.47" r="0.45"/><circle cx="188.01" cy="550.78" r="0.45"/><circle cx="196.72" cy="567.18" r="0.45"/><circle cx="176.31" cy="571.91" r="0.45"/><circle cx="186.89" cy="565.66" r="0.45"/><circle cx="172.31" cy="555.25" r="0.45"/><circle cx="191.88" cy="550.34" r="0.45"/><circle cx="176.56" cy="551.71" r="0.45"/><circle cx="186.52" cy="553.39" r="0.45"/><circle cx="191.68" cy="561.11" r="0.45"/><circle cx="191.63" cy="572.47" r="0.45"/><circle cx="196.48" cy="554.72" r="0.45"/><circle cx="180.93" cy="569.53" r="0.45"/><circle cx="180.11" cy="573.08" r="0.45"/><circle cx="180.21" cy="565.42" r="0.45"/><circle cx="178.15" cy="567.79" r="0.45"/><circle cx="178.86" cy="560.38" r="0.45"/><circle cx="190.11" cy="570.37" r="0.45"/><circle cx="175.19" cy="554.26" r="0.45"/><circle cx="177.03" cy="568.88" r="0.45"/><circle cx="188.85" cy="567.64" r="0.45"/><circle cx="192.28" cy="555.75" r="0.45"/><circle cx="184.31" cy="550.12" r="0.45"/><circle cx="180.62" cy="564.78" r="0.45"/><circle cx="178.27" cy="569.56" r="0.45"/><circle cx="177.04" cy="560.87" r="0.45"/><circle cx="189.11" cy="555.45" r="0.45"/><circle cx="188.59" cy="559.85" r="0.45"/><circle cx="172.84" cy="552.6" r="0.45"/><circle cx="188.3" cy="570.23" r="0.45"/><circle cx="189" cy="571.23" r="0.45"/><circle cx="188.64" cy="569.15" r="0.45"/><circle cx="193.06" cy="564.65" r="0.45"/><circle cx="185.21" cy="553.97" r="0.45"/><circle cx="177.65" cy="552.11" r="0.45"/><circle cx="174.44" cy="559.64" r="0.45"/><circle cx="179.08" cy="563.85" r="0.45"/><circle cx="192.8" cy="556.61" r="0.45"/><circle cx="194.5" cy="570.52" r="0.45"/><circle cx="176.52" cy="564.51" r="0.45"/><circle cx="176.66" cy="551.59" r="0.45"/><circle cx="177.24" cy="555.02" r="0.45"/><circle cx="171.79" cy="550.63" r="0.45"/><circle cx="192.27" cy="571.28" r="0.45"/><circle cx="193.71" cy="551.81" r="0.45"/><circle cx="172.2" cy="571.09" r="0.45"/><circle cx="181.19" cy="558.49" r="0.45"/><circle cx="189.54" cy="563.05" r="0.45"/><circle cx="180.03" cy="553.69" r="0.45"/><circle cx="174.54" cy="567.52" r="0.45"/><circle cx="194.78" cy="550.94" r="0.45"/><circle cx="177.32" cy="562.91" r="0.45"/><circle cx="178.42" cy="562.03" r="0.45"/><circle cx="184.45" cy="556.49" r="0.45"/><circle cx="174.6" cy="560.31" r="0.45"/><circle cx="192.36" cy="553.4" r="0.45"/><circle cx="185.37" cy="569.94" r="0.45"/><circle cx="186.2" cy="558.53" r="0.45"/><circle cx="195.36" cy="569.22" r="0.45"/><circle cx="197.12" cy="557.37" r="0.45"/><circle cx="183.99" cy="561.08" r="0.45"/><circle cx="193.12" cy="565.25" r="0.45"/><circle cx="185.69" cy="562.66" r="0.45"/><circle cx="194.41" cy="558.69" r="0.45"/><circle cx="174.96" cy="554.34" r="0.45"/><circle cx="177.84" cy="552.35" r="0.45"/><circle cx="196.6" cy="563.66" r="0.45"/><circle cx="192.03" cy="561.17" r="0.45"/><circle cx="184.95" cy="555.54" r="0.45"/><circle cx="194.41" cy="560.34" r="0.45"/><circle cx="181.99" cy="568.26" r="0.45"/><circle cx="193.83" cy="574.54" r="0.45"/><circle cx="183.92" cy="560.43" r="0.45"/><circle cx="192.75" cy="560.45" r="0.45"/><circle cx="176.78" cy="561.76" r="0.45"/><circle cx="179.43" cy="556.33" r="0.45"/><circle cx="191.38" cy="558.59" r="0.45"/><circle cx="187.61" cy="557.45" r="0.45"/><circle cx="174.52" cy="569.21" r="0.45"/><circle cx="191.44" cy="567.34" r="0.45"/><circle cx="187.21" cy="554.29" r="0.45"/><circle cx="184.44" cy="570.49" r="0.45"/><circle cx="191.68" cy="564.54" r="0.45"/><circle cx="187.76" cy="554.2" r="0.45"/><circle cx="173.01" cy="570.81" r="0.45"/><circle cx="172.07" cy="556.24" r="0.45"/><circle cx="181.83" cy="567.23" r="0.45"/><circle cx="189.44" cy="571.32" r="0.45"/><circle cx="195.4" cy="556.68" r="0.45"/><circle cx="177.97" cy="553.01" r="0.45"/><circle cx="180.05" cy="552.53" r="0.45"/><circle cx="196.21" cy="564.14" r="0.45"/><circle cx="184.17" cy="551.41" r="0.45"/><circle cx="194.95" cy="556.02" r="0.45"/><circle cx="191.3" cy="555.04" r="0.45"/><circle cx="178.53" cy="553.37" r="0.45"/><circle cx="185.3" cy="556.99" r="0.45"/><circle cx="186.23" cy="567.59" r="0.45"/><circle cx="177.38" cy="553.24" r="0.45"/><circle cx="184.79" cy="559.83" r="0.45"/><circle cx="183.04" cy="559.06" r="0.45"/><circle cx="175.82" cy="553.02" r="0.45"/><circle cx="190.22" cy="565.6" r="0.45"/><circle cx="189.21" cy="565.71" r="0.45"/><circle cx="184.74" cy="554.83" r="0.45"/><circle cx="195" cy="563.11" r="0.45"/><circle cx="183.33" cy="556.43" r="0.45"/><circle cx="181.25" cy="574.13" r="0.45"/><circle cx="182" cy="569.78" r="0.45"/><circle cx="174.78" cy="564.74" r="0.45"/><circle cx="178.56" cy="555.76" r="0.45"/><circle cx="179.37" cy="559.75" r="0.45"/><circle cx="188.08" cy="560.02" r="0.45"/><circle cx="193.65" cy="553.81" r="0.45"/><circle cx="193.5" cy="560.74" r="0.45"/><circle cx="191.89" cy="559.71" r="0.45"/><circle cx="178.19" cy="572" r="0.45"/><circle cx="187.9" cy="567.77" r="0.45"/><circle cx="184.98" cy="567.48" r="0.45"/><circle cx="196.09" cy="568.22" r="0.45"/><circle cx="196.4" cy="558.6" r="0.45"/><circle cx="179.23" cy="571.73" r="0.45"/><circle cx="192.95" cy="571.86" r="0.45"/><circle cx="182.75" cy="560.17" r="0.45"/><circle cx="195.85" cy="554.98" r="0.45"/><circle cx="175.86" cy="554.23" r="0.45"/><circle cx="179.35" cy="560.27" r="0.45"/><circle cx="181.41" cy="561.32" r="0.45"/><circle cx="172.5" cy="558.41" r="0.45"/><circle cx="184.61" cy="551.33" r="0.45"/><circle cx="183.93" cy="572.27" r="0.45"/><circle cx="188.32" cy="573.27" r="0.45"/><circle cx="193.62" cy="562.15" r="0.45"/><circle cx="172.14" cy="551.46" r="0.45"/><circle cx="186.35" cy="570.73" r="0.45"/><circle cx="180.09" cy="553.24" r="0.45"/><circle cx="191.03" cy="563.26" r="0.45"/><circle cx="183.58" cy="553.14" r="0.45"/><circle cx="185.78" cy="564.11" r="0.45"/><circle cx="189.79" cy="572.19" r="0.45"/><circle cx="173.54" cy="570.44" r="0.45"/><circle cx="179.83" cy="560.22" r="0.45"/><circle cx="180.41" cy="569.86" r="0.45"/><circle cx="182.89" cy="551.76" r="0.45"/><circle cx="183.74" cy="553.65" r="0.45"/><circle cx="172.01" cy="551.25" r="0.45"/><circle cx="181.34" cy="561.09" r="0.45"/><circle cx="171.62" cy="553.36" r="0.45"/><circle cx="194.69" cy="563.38" r="0.45"/><circle cx="196.69" cy="563.34" r="0.45"/><circle cx="196.03" cy="567.01" r="0.45"/><circle cx="181.51" cy="551.23" r="0.45"/><circle cx="175.38" cy="569.49" r="0.45"/><circle cx="188.55" cy="557.31" r="0.45"/><circle cx="175.78" cy="565.74" r="0.45"/><circle cx="195.4" cy="556.11" r="0.45"/><circle cx="197.12" cy="563.14" r="0.45"/><circle cx="176.93" cy="554.49" r="0.45"/><circle cx="189.82" cy="572.83" r="0.45"/><circle cx="176.8" cy="555.86" r="0.45"/><circle cx="175.26" cy="555.13" r="0.45"/><circle cx="177.37" cy="560.27" r="0.45"/><circle cx="177.69" cy="566.31" r="0.45"/><circle cx="177.74" cy="556.55" r="0.45"/><circle cx="182.32" cy="554.16" r="0.45"/><circle cx="172.91" cy="552.23" r="0.45"/><circle cx="171.72" cy="566.58" r="0.45"/><circle cx="172.86" cy="561.8" r="0.45"/><circle cx="194.36" cy="565.11" r="0.45"/><circle cx="179.44" cy="559.89" r="0.45"/><circle cx="182.54" cy="557.9" r="0.45"/><circle cx="172.98" cy="553.85" r="0.45"/><circle cx="175.26" cy="555.11" r="0.45"/><circle cx="180.07" cy="552.53" r="0.45"/><circle cx="187.36" cy="554.91" r="0.45"/><circle cx="184.67" cy="567.05" r="0.45"/><circle cx="184.33" cy="568.23" r="0.45"/><circle cx="191.57" cy="561.01" r="0.45"/><circle cx="177.04" cy="551.05" r="0.45"/><circle cx="189.34" cy="559.04" r="0.45"/><circle cx="179.05" cy="552.06" r="0.45"/><circle cx="176.21" cy="571.93" r="0.45"/><circle cx="183.68" cy="570.84" r="0.45"/><circle cx="193.22" cy="556.1" r="0.45"/><circle cx="177.39" cy="571.81" r="0.45"/><circle cx="177.66" cy="564.72" r="0.45"/><circle cx="195.57" cy="561.46" r="0.45"/><circle cx="182.47" cy="573.55" r="0.45"/><circle cx="193.69" cy="572.8" r="0.45"/><circle cx="189.7" cy="555.51" r="0.45"/><circle cx="172.83" cy="550.53" r="0.45"/><circle cx="195.23" cy="563.35" r="0.45"/><circle cx="194.21" cy="573.56" r="0.45"/><circle cx="177.68" cy="573.87" r="0.45"/><circle cx="178.61" cy="554.41" r="0.45"/><circle cx="178.57" cy="574.49" r="0.45"/><circle cx="195.66" cy="558.67" r="0.45"/><circle cx="183.94" cy="570.26" r="0.45"/><circle cx="192.18" cy="572.08" r="0.45"/><circle cx="180.88" cy="555.71" r="0.45"/><circle cx="184.73" cy="572.98" r="0.45"/><circle cx="187.3" cy="571.45" r="0.45"/><circle cx="176.62" cy="562.48" r="0.45"/><circle cx="195.08" cy="564.04" r="0.45"/><circle cx="191.92" cy="569.87" r="0.45"/><circle cx="182.93" cy="566.96" r="0.45"/><circle cx="189.31" cy="560.81" r="0.45"/><circle cx="184.92" cy="569.93" r="0.45"/><circle cx="194.17" cy="574.27" r="0.45"/><circle cx="181.01" cy="566.63" r="0.45"/><circle cx="185.7" cy="570.95" r="0.45"/><circle cx="177.75" cy="561.49" r="0.45"/><circle cx="178.16" cy="569.76" r="0.45"/><circle cx="189.78" cy="550.16" r="0.45"/><circle cx="174.38" cy="553.48" r="0.45"/><circle cx="186.74" cy="569.07" r="0.45"/><circle cx="180.4" cy="551.95" r="0.45"/><circle cx="186.59" cy="565.11" r="0.45"/><circle cx="182.62" cy="556.66" r="0.45"/><circle cx="180.48" cy="555.72" r="0.45"/><circle cx="192.41" cy="559.39" r="0.45"/><circle cx="189.87" cy="563.51" r="0.45"/><circle cx="177.47" cy="556.88" r="0.45"/><circle cx="188.76" cy="571.23" r="0.45"/><circle cx="195.09" cy="553.79" r="0.45"/><circle cx="178.24" cy="552.44" r="0.45"/><circle cx="176.44" cy="559.51" r="0.45"/><circle cx="189.98" cy="572.53" r="0.45"/><circle cx="186.73" cy="553.58" r="0.45"/><circle cx="181.24" cy="553.53" r="0.45"/><circle cx="178.76" cy="564.13" r="0.45"/><circle cx="184.44" cy="554.23" r="0.45"/><circle cx="178.67" cy="572.04" r="0.45"/><circle cx="187.74" cy="564.8" r="0.45"/><circle cx="179.85" cy="557.36" r="0.45"/><circle cx="191.09" cy="550.37" r="0.45"/><circle cx="188.34" cy="573.52" r="0.45"/><circle cx="187.86" cy="551.18" r="0.45"/><circle cx="172.47" cy="569.31" r="0.45"/><circle cx="176.34" cy="560.38" r="0.45"/><circle cx="188.28" cy="566.61" r="0.45"/><circle cx="178.97" cy="566.78" r="0.45"/><circle cx="194.99" cy="561.52" r="0.45"/><circle cx="181.75" cy="566.87" r="0.45"/><circle cx="193.95" cy="566.9" r="0.45"/><circle cx="195.34" cy="569.23" r="0.45"/><circle cx="196.09" cy="556.16" r="0.45"/><circle cx="188.83" cy="555.15" r="0.45"/><circle cx="174.61" cy="558.4" r="0.45"/><circle cx="195.81" cy="557.25" r="0.45"/><circle cx="179.51" cy="572.8" r="0.45"/><circle cx="196.74" cy="568.63" r="0.45"/><circle cx="180.63" cy="570.25" r="0.45"/><circle cx="173.28" cy="550.25" r="0.45"/><circle cx="173.22" cy="558.23" r="0.45"/><circle cx="177.78" cy="571.14" r="0.45"/><circle cx="183.04" cy="570.94" r="0.45"/><circle cx="184.09" cy="559.16" r="0.45"/><circle cx="180.29" cy="551.17" r="0.45"/><circle cx="183.24" cy="573.4" r="0.45"/><circle cx="196.47" cy="572.92" r="0.45"/><circle cx="174.1" cy="560.88" r="0.45"/><circle cx="192.95" cy="553.79" r="0.45"/><circle cx="173.27" cy="555.06" r="0.45"/><circle cx="173.75" cy="568.21" r="0.45"/><circle cx="189.84" cy="574.32" r="0.45"/><circle cx="172.89" cy="567.29" r="0.45"/><circle cx="191.91" cy="554.39" r="0.45"/><circle cx="173.62" cy="574.11" r="0.45"/><circle cx="191.84" cy="551.7" r="0.45"/><circle cx="176.39" cy="566.2" r="0.45"/><circle cx="175.98" cy="560.73" r="0.45"/><circle cx="175.44" cy="552.25" r="0.45"/><circle cx="184" cy="563.35" r="0.45"/><circle cx="193.28" cy="550.1" r="0.45"/><circle cx="180.68" cy="551.77" r="0.45"/><circle cx="185.75" cy="554.07" r="0.45"/><circle cx="180.08" cy="573.84" r="0.45"/><circle cx="188.23" cy="566.44" r="0.45"/><circle cx="187.11" cy="554.96" r="0.45"/><circle cx="189.13" cy="573.87" r="0.45"/><circle cx="173.89" cy="570.64" r="0.45"/></g>
<g fill="#1818f0" fill-opacity="0.7"><circle cx="196.45" cy="560.56" r="0.55"/><circle cx="195.59" cy="550.57" r="0.55"/><circle cx="197.3" cy="560.64" r="0.55"/><circle cx="196.09" cy="557.98" r="0.55"/><circle cx="193.26" cy="557.4" r="0.55"/><circle cx="198.15" cy="558.78" r="0.55"/><circle cx="197.11" cy="560.65" r="0.55"/><circle cx="194.43" cy="552.09" r="0.55"/><circle cx="195.39" cy="559.11" r="0.55"/><circle cx="196.16" cy="549.35" r="0.55"/><circle cx="197.96" cy="557.14" r="0.55"/><circle cx="198.08" cy="567.2" r="0.55"/><circle cx="194.94" cy="552.15" r="0.55"/><circle cx="198.18" cy="564.47" r="0.55"/><circle cx="197.37" cy="559.66" r="0.55"/><circle cx="197.72" cy="561.01" r="0.55"/><circle cx="195.39" cy="561.42" r="0.55"/><circle cx="198.08" cy="556.14" r="0.55"/><circle cx="195.81" cy="555.76" r="0.55"/><circle cx="196.2" cy="560.42" r="0.55"/><circle cx="197.82" cy="558.11" r="0.55"/><circle cx="196.54" cy="549.88" r="0.55"/><circle cx="196.39" cy="553.43" r="0.55"/><circle cx="196.24" cy="559.58" r="0.55"/><circle cx="197.09" cy="574.06" r="0.55"/><circle cx="195.86" cy="555.55" r="0.55"/><circle cx="195.54" cy="556.83" r="0.55"/><circle cx="196.56" cy="562.6" r="0.55"/><circle cx="194.58" cy="562.17" r="0.55"/><circle cx="197.67" cy="555.6" r="0.55"/><circle cx="196.08" cy="558.9" r="0.55"/><circle cx="197.52" cy="557.27" r="0.55"/><circle cx="196.71" cy="558.08" r="0.55"/><circle cx="195.61" cy="559.25" r="0.55"/><circle cx="197.59" cy="558.24" r="0.55"/><circle cx="195.54" cy="558" r="0.55"/><circle cx="196.77" cy="559.45" r="0.55"/><circle cx="196.4" cy="561.8" r="0.55"/><circle cx="198.19" cy="561.77" r="0.55"/><circle cx="197.18" cy="563.57" r="0.55"/><circle cx="196.85" cy="557.24" r="0.55"/><circle cx="195.19" cy="558.09" r="0.55"/><circle cx="198.35" cy="553.65" r="0.55"/><circle cx="197.83" cy="552.22" r="0.55"/><circle cx="197.25" cy="566.32" r="0.55"/><circle cx="196.95" cy="552.69" r="0.55"/><circle cx="197.24" cy="557.34" r="0.55"/><circle cx="197.84" cy="555.63" r="0.55"/><circle cx="194.83" cy="555.84" r="0.55"/><circle cx="197.6" cy="562.67" r="0.55"/><circle cx="197.22" cy="558.12" r="0.55"/><circle cx="197.71" cy="557.12" r="0.55"/><circle cx="196.36" cy="559.03" r="0.55"/><circle cx="198.2" cy="555.74" r="0.55"/><circle cx="197.49" cy="555.11" r="0.55"/><circle cx="196.02" cy="558.79" r="0.55"/><circle cx="195.31" cy="554.15" r="0.55"/><circle cx="195.48" cy="555.29" r="0.55"/><circle cx="195.81" cy="568.55" r="0.55"/><circle cx="197.62" cy="558.34" r="0.55"/><circle cx="195.3" cy="547.27" r="0.55"/><circle cx="197.42" cy="555.17" r="0.55"/><circle cx="198.14" cy="556.23" r="0.55"/><circle cx="195.34" cy="555.13" r="0.55"/><circle cx="195.07" cy="551.63" r="0.55"/><circle cx="197.74" cy="555.62" r="0.55"/><circle cx="197.71" cy="555.49" r="0.55"/><circle cx="196.62" cy="555.53" r="0.55"/><circle cx="196.24" cy="555.04" r="0.55"/><circle cx="198.67" cy="557.77" r="0.55"/><circle cx="194.57" cy="565.65" r="0.55"/><circle cx="198.39" cy="563.06" r="0.55"/><circle cx="196.77" cy="557.31" r="0.55"/><circle cx="196.32" cy="558.57" r="0.55"/><circle cx="197.45" cy="558" r="0.55"/><circle cx="195.91" cy="553.67" r="0.55"/><circle cx="198.88" cy="565.6" r="0.55"/><circle cx="195.41" cy="555.14" r="0.55"/><circle cx="196.84" cy="560.65" r="0.55"/><circle cx="196.75" cy="559.09" r="0.55"/><circle cx="197.32" cy="563.13" r="0.55"/><circle cx="195.33" cy="562.94" r="0.55"/><circle cx="197.41" cy="560.43" r="0.55"/><circle cx="195.09" cy="556.98" r="0.55"/><circle cx="196.58" cy="560.88" r="0.55"/><circle cx="197.71" cy="561.1" r="0.55"/><circle cx="195.34" cy="563.65" r="0.55"/><circle cx="196.97" cy="562.19" r="0.55"/><circle cx="196.88" cy="554.87" r="0.55"/><circle cx="200.02" cy="560.96" r="0.55"/><circle cx="197.8" cy="555.95" r="0.55"/><circle cx="196.62" cy="562.99" r="0.55"/><circle cx="197.42" cy="565.83" r="0.55"/><circle cx="198.32" cy="553.2" r="0.55"/><circle cx="195.05" cy="563.2" r="0.55"/><circle cx="197.6" cy="556.86" r="0.55"/><circle cx="196.54" cy="555.53" r="0.55"/><circle cx="199.03" cy="557.29" r="0.55"/><circle cx="195.24" cy="562.06" r="0.55"/><circle cx="196.78" cy="559.61" r="0.55"/><circle cx="196.43" cy="557.84" r="0.55"/><circle cx="194.64" cy="560.41" r="0.55"/><circle cx="196.06" cy="556.32" r="0.55"/><circle cx="197.26" cy="563.71" r="0.55"/><circle cx="194.31" cy="557.42" r="0.55"/><circle cx="197.54" cy="562.54" r="0.55"/><circle cx="195.8" cy="559.44" r="0.55"/><circle cx="197.36" cy="562.17" r="0.55"/><circle cx="196.14" cy="557.2" r="0.55"/><circle cx="196.27" cy="563.08" r="0.55"/><circle cx="198.18" cy="556.06" r="0.55"/><circle cx="196.72" cy="559" r="0.55"/><circle cx="195.8" cy="557.52" r="0.55"/><circle cx="197.92" cy="561.47" r="0.55"/><circle cx="196.07" cy="555.15" r="0.55"/><circle cx="196.74" cy="551.52" r="0.55"/><circle cx="197.25" cy="558.56" r="0.55"/><circle cx="195.28" cy="557" r="0.55"/><circle cx="196.09" cy="556.84" r="0.55"/><circle cx="195.83" cy="564.07" r="0.55"/><circle cx="195.73" cy="561.41" r="0.55"/><circle cx="197.13" cy="564.42" r="0.55"/><circle cx="196.81" cy="558.04" r="0.55"/><circle cx="196.96" cy="549.71" r="0.55"/><circle cx="199.76" cy="557.1" r="0.55"/><circle cx="196.5" cy="553.07" r="0.55"/><circle cx="196.72" cy="565.14" r="0.55"/><circle cx="195.97" cy="559.98" r="0.55"/><circle cx="198.11" cy="562.21" r="0.55"/><circle cx="196.4" cy="550.36" r="0.55"/><circle cx="197.37" cy="560.55" r="0.55"/><circle cx="196.49" cy="556.16" r="0.55"/><circle cx="198.98" cy="551.1" r="0.55"/><circle cx="196.26" cy="555.38" r="0.55"/><circle cx="195.01" cy="555.01" r="0.55"/><circle cx="195.92" cy="563.51" r="0.55"/><circle cx="194.79" cy="552.01" r="0.55"/><circle cx="197.19" cy="551.25" r="0.55"/><circle cx="194.48" cy="555.31" r="0.55"/><circle cx="195.43" cy="553.77" r="0.55"/><circle cx="196.69" cy="560.04" r="0.55"/><circle cx="196.1" cy="556.84" r="0.55"/><circle cx="197.73" cy="557.38" r="0.55"/><circle cx="197.76" cy="555.47" r="0.55"/><circle cx="197.46" cy="563.64" r="0.55"/><circle cx="195.22" cy="571.16" r="0.55"/><circle cx="196.49" cy="556.57" r="0.55"/><circle cx="196.68" cy="560.08" r="0.55"/><circle cx="195.43" cy="558.23" r="0.55"/><circle cx="196.18" cy="564.3" r="0.55"/><circle cx="194.81" cy="560.89" r="0.55"/><circle cx="196.5" cy="554.79" r="0.55"/><circle cx="197.04" cy="557.01" r="0.55"/><circle cx="196.93" cy="559.1" r="0.55"/><circle cx="198.32" cy="556.29" r="0.55"/><circle cx="199.06" cy="563.37" r="0.55"/><circle cx="198.75" cy="558.93" r="0.55"/><circle cx="197.22" cy="553.63" r="0.55"/><circle cx="198.48" cy="553" r="0.55"/><circle cx="195.93" cy="558.06" r="0.55"/><circle cx="197.16" cy="559.54" r="0.55"/><circle cx="195.49" cy="556.56" r="0.55"/><circle cx="197.46" cy="563.23" r="0.55"/><circle cx="197.79" cy="559.87" r="0.55"/><circle cx="196.57" cy="555.7" r="0.55"/><circle cx="196.26" cy="557.65" r="0.55"/><circle cx="197.51" cy="555.86" r="0.55"/><circle cx="199.34" cy="553.7" r="0.55"/><circle cx="197.85" cy="557.18" r="0.55"/><circle cx="196.71" cy="556.41" r="0.55"/><circle cx="198.71" cy="556.77" r="0.55"/><circle cx="197.54" cy="558.58" r="0.55"/><circle cx="197.77" cy="560.62" r="0.55"/><circle cx="198.85" cy="554.88" r="0.55"/><circle cx="195.89" cy="565.44" r="0.55"/><circle cx="198.4" cy="558.38" r="0.55"/><circle cx="196.53" cy="559.17" r="0.55"/><circle cx="198.44" cy="554.73" r="0.55"/><circle cx="198.61" cy="557.82" r="0.55"/><circle cx="196.45" cy="556.34" r="0.55"/><circle cx="194.37" cy="559.46" r="0.55"/><circle cx="195.3" cy="555.64" r="0.55"/><circle cx="195.81" cy="559.08" r="0.55"/><circle cx="197.74" cy="558.24" r="0.55"/><circle cx="197.1" cy="559.85" r="0.55"/><circle cx="198.8" cy="560.58" r="0.55"/><circle cx="198.76" cy="557.8" r="0.55"/><circle cx="197.3" cy="555.24" r="0.55"/><circle cx="197.59" cy="554.35" r="0.55"/><circle cx="197.44" cy="555.32" r="0.55"/><circle cx="196.46" cy="563.36" r="0.55"/><circle cx="197.05" cy="561.51" r="0.55"/><circle cx="196.59" cy="549.97" r="0.55"/><circle cx="198.64" cy="557.29" r="0.55"/><circle cx="196.1" cy="562.18" r="0.55"/><circle cx="195.52" cy="554.84" r="0.55"/><circle cx="198.25" cy="555.05" r="0.55"/><circle cx="198.23" cy="556.74" r="0.55"/><circle cx="196.63" cy="558.37" r="0.55"/><circle cx="196.28" cy="562.72" r="0.55"/><circle cx="198.19" cy="558.36" r="0.55"/><circle cx="197.61" cy="560.42" r="0.55"/><circle cx="198.89" cy="551.19" r="0.55"/><circle cx="198.1" cy="562.03" r="0.55"/><circle cx="196.5" cy="558.13" r="0.55"/><circle cx="196.46" cy="563.44" r="0.55"/><circle cx="195.51" cy="560.7" r="0.55"/><circle cx="198.41" cy="560.56" r="0.55"/><circle cx="196.3" cy="556.08" r="0.55"/><circle cx="194.35" cy="553.62" r="0.55"/><circle cx="198.19" cy="553.97" r="0.55"/><circle cx="194.92" cy="557.01" r="0.55"/><circle cx="195.1" cy="560.06" r="0.55"/><circle cx="195.84" cy="562.2" r="0.55"/><circle cx="196.74" cy="551.93" r="0.55"/><circle cx="195.96" cy="555.27" r="0.55"/><circle cx="195.87" cy="563.43" r="0.55"/><circle cx="195.68" cy="559.65" r="0.55"/><circle cx="196.18" cy="560.63" r="0.55"/><circle cx="195.17" cy="551.29" r="0.55"/><circle cx="197.49" cy="564.27" r="0.55"/><circle cx="195.22" cy="556.72" r="0.55"/><circle cx="196.27" cy="554.02" r="0.55"/><circle cx="198.04" cy="558.29" r="0.55"/><circle cx="195.22" cy="557.14" r="0.55"/><circle cx="198.47" cy="555.01" r="0.55"/><circle cx="196.26" cy="554.49" r="0.55"/><circle cx="197.07" cy="555.67" r="0.55"/><circle cx="197.95" cy="554.48" r="0.55"/><circle cx="195.14" cy="560.03" r="0.55"/><circle cx="193.08" cy="553.96" r="0.55"/><circle cx="197.22" cy="559.15" r="0.55"/><circle cx="196.19" cy="556.15" r="0.55"/><circle cx="197.5" cy="574.22" r="0.55"/><circle cx="195.92" cy="557.3" r="0.55"/><circle cx="196.33" cy="560.47" r="0.55"/><circle cx="196.89" cy="560.48" r="0.55"/><circle cx="198.83" cy="556.89" r="0.55"/><circle cx="196.53" cy="559.7" r="0.55"/><circle cx="199.39" cy="556.52" r="0.55"/><circle cx="198.9" cy="563.21" r="0.55"/><circle cx="193.6" cy="553.77" r="0.55"/><circle cx="195.71" cy="559.8" r="0.55"/><circle cx="198.47" cy="558.32" r="0.55"/><circle cx="197.08" cy="567.47" r="0.55"/><circle cx="197.31" cy="567.4" r="0.55"/><circle cx="195.81" cy="565.22" r="0.55"/><circle cx="196.27" cy="547.57" r="0.55"/><circle cx="195.89" cy="556.02" r="0.55"/><circle cx="196.83" cy="561.35" r="0.55"/><circle cx="197.71" cy="560.34" r="0.55"/><circle cx="195.99" cy="565.81" r="0.55"/><circle cx="198.32" cy="558.23" r="0.55"/><circle cx="196.2" cy="557.87" r="0.55"/><circle cx="196.62" cy="555.06" r="0.55"/><circle cx="196.87" cy="555.2" r="0.55"/><circle cx="197.65" cy="555.25" r="0.55"/><circle cx="197.47" cy="559.47" r="0.55"/><circle cx="197.08" cy="560.35" r="0.55"/></g>
<g fill="#555" fill-opacity="0.4"><circle cx="148.14" cy="592.38" r="0.45"/><circle cx="148.5" cy="582.8" r="0.45"/><circle cx="165.54" cy="583.43" r="0.45"/><circle cx="150.26" cy="589.57" r="0.45"/><circle cx="160.37" cy="590.8" r="0.45"/><circle cx="156.03" cy="579.77" r="0.45"/><circle cx="143.97" cy="580.06" r="0.45"/><circle cx="154.94" cy="588.79" r="0.45"/><circle cx="149.88" cy="590.64" r="0.45"/><circle cx="149.12" cy="582.14" r="0.45"/><circle cx="146.09" cy="596.82" r="0.45"/><circle cx="168.73" cy="576.8" r="0.45"/><circle cx="139" cy="584.48" r="0.45"/><circle cx="154.07" cy="587.66" r="0.45"/><circle cx="162.8" cy="577.81" r="0.45"/><circle cx="152.32" cy="586.74" r="0.45"/><circle cx="146.57" cy="585.28" r="0.45"/><circle cx="151.32" cy="588.82" r="0.45"/><circle cx="138.52" cy="591.8" r="0.45"/><circle cx="161.47" cy="580.37" r="0.45"/><circle cx="157.29" cy="585.9" r="0.45"/><circle cx="152.78" cy="586.2" r="0.45"/><circle cx="143.84" cy="587.76" r="0.45"/><circle cx="144.14" cy="579.06" r="0.45"/><circle cx="143.58" cy="583.42" r="0.45"/><circle cx="142.8" cy="592.09" r="0.45"/><circle cx="145.74" cy="592.39" r="0.45"/><circle cx="150.58" cy="587.84" r="0.45"/><circle cx="155.91" cy="590.89" r="0.45"/><circle cx="150.6" cy="587.42" r="0.45"/><circle cx="144.52" cy="589.69" r="0.45"/><circle cx="144.1" cy="578.97" r="0.45"/><circle cx="147.61" cy="576.18" r="0.45"/><circle cx="153.55" cy="582.27" r="0.45"/><circle cx="146.05" cy="577.16" r="0.45"/><circle cx="150.36" cy="588.83" r="0.45"/><circle cx="163.9" cy="591.79" r="0.45"/><circle cx="154.11" cy="581.83" r="0.45"/><circle cx="141.33" cy="587.87" r="0.45"/><circle cx="150" cy="588.77" r="0.45"/><circle cx="142.28" cy="590.47" r="0.45"/><circle cx="158.02" cy="582.99" r="0.45"/><circle cx="161.15" cy="582.35" r="0.45"/><circle cx="158.83" cy="591.52" r="0.45"/><circle cx="145.02" cy="584.21" r="0.45"/><circle cx="144.26" cy="591.14" r="0.45"/><circle cx="156.45" cy="588.37" r="0.45"/><circle cx="161.95" cy="582.08" r="0.45"/><circle cx="157.22" cy="578.25" r="0.45"/><circle cx="146.4" cy="593.58" r="0.45"/><circle cx="161.77" cy="587.98" r="0.45"/><circle cx="147.16" cy="583.34" r="0.45"/><circle cx="148.97" cy="588.82" r="0.45"/><circle cx="149" cy="584.38" r="0.45"/><circle cx="150.61" cy="582.43" r="0.45"/><circle cx="149.99" cy="580.35" r="0.45"/><circle cx="138.63" cy="590.46" r="0.45"/><circle cx="161.15" cy="588.46" r="0.45"/><circle cx="147.4" cy="589.06" r="0.45"/><circle cx="160.9" cy="579.24" r="0.45"/><circle cx="145.53" cy="589.16" r="0.45"/><circle cx="150.35" cy="581.59" r="0.45"/><circle cx="144.88" cy="582.05" r="0.45"/><circle cx="154.57" cy="583.68" r="0.45"/><circle cx="150.4" cy="580.82" r="0.45"/><circle cx="152.16" cy="581.28" r="0.45"/><circle cx="151.39" cy="582.94" r="0.45"/><circle cx="141.48" cy="582.1" r="0.45"/><circle cx="144.24" cy="579.63" r="0.45"/><circle cx="160.71" cy="594.83" r="0.45"/><circle cx="146.94" cy="582.13" r="0.45"/><circle cx="152.91" cy="584.96" r="0.45"/><circle cx="155.38" cy="584.97" r="0.45"/><circle cx="144.28" cy="581.36" r="0.45"/><circle cx="152.64" cy="581.45" r="0.45"/><circle cx="155.22" cy="590.59" r="0.45"/><circle cx="155.72" cy="595" r="0.45"/><circle cx="150.79" cy="594.57" r="0.45"/><circle cx="151.27" cy="594.05" r="0.45"/><circle cx="145.83" cy="587.01" r="0.45"/><circle cx="148.79" cy="582.26" r="0.45"/><circle cx="157.66" cy="593.9" r="0.45"/><circle cx="154.65" cy="578.27" r="0.45"/><circle cx="155.52" cy="590.84" r="0.45"/><circle cx="151.61" cy="591.87" r="0.45"/><circle cx="147.75" cy="579.29" r="0.45"/><circle cx="142.79" cy="578.97" r="0.45"/><circle cx="158.46" cy="580.69" r="0.45"/><circle cx="151.82" cy="583.78" r="0.45"/><circle cx="147.28" cy="589.51" r="0.45"/><circle cx="146.93" cy="580.13" r="0.45"/><circle cx="140.12" cy="581.21" r="0.45"/><circle cx="159.65" cy="579.76" r="0.45"/><circle cx="150.25" cy="590.62" r="0.45"/><circle cx="139.88" cy="582.53" r="0.45"/><circle cx="158.42" cy="592.36" r="0.45"/><circle cx="152.59" cy="584.63" r="0.45"/><circle cx="144.39" cy="577.95" r="0.45"/><circle cx="141.07" cy="589.27" r="0.45"/><circle cx="146.96" cy="589.41" r="0.45"/><circle cx="142.29" cy="588.28" r="0.45"/><circle cx="146.89" cy="584.83" r="0.45"/><circle cx="146.17" cy="586.77" r="0.45"/><circle cx="142.62" cy="581.71" r="0.45"/><circle cx="166" cy="590.58" r="0.45"/><circle cx="151.97" cy="576.65" r="0.45"/><circle cx="161.31" cy="581.48" r="0.45"/><circle cx="146.92" cy="592.18" r="0.45"/><circle cx="148.37" cy="590.92" r="0.45"/><circle cx="160.51" cy="587.41" r="0.45"/><circle cx="142.55" cy="589.16" r="0.45"/><circle cx="145.35" cy="578.26" r="0.45"/><circle cx="155.4" cy="587.1" r="0.45"/><circle cx="138.77" cy="588.26" r="0.45"/><circle cx="137.83" cy="582.98" r="0.45"/><circle cx="148.21" cy="597.61" r="0.45"/><circle cx="144.11" cy="585.9" r="0.45"/><circle cx="160.46" cy="586.37" r="0.45"/><circle cx="144.23" cy="585.64" r="0.45"/><circle cx="153.76" cy="598.68" r="0.45"/><circle cx="153.4" cy="592.43" r="0.45"/><circle cx="148.58" cy="585.58" r="0.45"/><circle cx="155.07" cy="585.27" r="0.45"/><circle cx="154.58" cy="584.6" r="0.45"/><circle cx="153.76" cy="582.1" r="0.45"/><circle cx="163.15" cy="584.44" r="0.45"/><circle cx="148.46" cy="583.74" r="0.45"/><circle cx="153.97" cy="579.88" r="0.45"/><circle cx="143.22" cy="592.04" r="0.45"/><circle cx="140.18" cy="588.06" r="0.45"/><circle cx="164.96" cy="581.53" r="0.45"/><circle cx="146.76" cy="586.75" r="0.45"/><circle cx="145.68" cy="587.96" r="0.45"/><circle cx="143.05" cy="595.48" r="0.45"/><circle cx="147.75" cy="581.61" r="0.45"/><circle cx="145.24" cy="584.43" r="0.45"/><circle cx="144.25" cy="584.96" r="0.45"/><circle cx="161.25" cy="582.99" r="0.45"/><circle cx="154.17" cy="585.26" r="0.45"/><circle cx="162.72" cy="582.3" r="0.45"/><circle cx="152.51" cy="585.69" r="0.45"/><circle cx="151.41" cy="584.32" r="0.45"/><circle cx="153.94" cy="582.8" r="0.45"/><circle cx="157.64" cy="582.41" r="0.45"/><circle cx="150.43" cy="589.78" r="0.45"/><circle cx="149.54" cy="581.76" r="0.45"/><circle cx="145.9" cy="584.42" r="0.45"/><circle cx="146.31" cy="583.95" r="0.45"/><circle cx="167.71" cy="597.06" r="0.45"/><circle cx="153.56" cy="591.91" r="0.45"/><circle cx="146.27" cy="586.37" r="0.45"/><circle cx="139.87" cy="580.81" r="0.45"/><circle cx="142.41" cy="586.07" r="0.45"/><circle cx="149.72" cy="582.52" r="0.45"/><circle cx="140.65" cy="588.44" r="0.45"/><circle cx="154.31" cy="590.47" r="0.45"/><circle cx="142.49" cy="585.53" r="0.45"/><circle cx="147.13" cy="588.38" r="0.45"/><circle cx="151.23" cy="585.47" r="0.45"/><circle cx="151.92" cy="581.32" r="0.45"/><circle cx="145.74" cy="576.74" r="0.45"/><circle cx="153.64" cy="595" r="0.45"/><circle cx="149.05" cy="580.34" r="0.45"/><circle cx="154.95" cy="590.37" r="0.45"/><circle cx="143.94" cy="585.63" r="0.45"/><circle cx="147.19" cy="582.24" r="0.45"/><circle cx="151.05" cy="585.11" r="0.45"/><circle cx="139.9" cy="586.86" r="0.45"/><circle cx="142.93" cy="592.32" r="0.45"/><circle cx="154.24" cy="587.59" r="0.45"/><circle cx="142.18" cy="586.06" r="0.45"/><circle cx="140.66" cy="594.34" r="0.45"/><circle cx="158.83" cy="582.73" r="0.45"/><circle cx="155.02" cy="583.54" r="0.45"/><circle cx="156.05" cy="588.7" r="0.45"/><circle cx="166.09" cy="590.73" r="0.45"/><circle cx="151.44" cy="590.98" r="0.45"/><circle cx="157.35" cy="583.58" r="0.45"/><circle cx="146.91" cy="576.8" r="0.45"/><circle cx="142.41" cy="583.25" r="0.45"/><circle cx="149.97" cy="577.15" r="0.45"/><circle cx="155.18" cy="586.2" r="0.45"/><circle cx="149.36" cy="582.74" r="0.45"/><circle cx="158.95" cy="589.76" r="0.45"/><circle cx="142.92" cy="581.29" r="0.45"/><circle cx="142.66" cy="582.88" r="0.45"/><circle cx="147.84" cy="585.31" r="0.45"/><circle cx="142.99" cy="586.37" r="0.45"/><circle cx="144.19" cy="590.96" r="0.45"/><circle cx="157.27" cy="592.58" r="0.45"/><circle cx="151.66" cy="591.52" r="0.45"/><circle cx="148.5" cy="578.52" r="0.45"/><circle cx="154.21" cy="577.21" r="0.45"/><circle cx="150.79" cy="581.26" r="0.45"/><circle cx="149.16" cy="586.93" r="0.45"/><circle cx="143.04" cy="590.7" r="0.45"/><circle cx="155.69" cy="579.66" r="0.45"/><circle cx="150.78" cy="588.9" r="0.45"/><circle cx="138.4" cy="590.72" r="0.45"/><circle cx="161.02" cy="585.28" r="0.45"/><circle cx="151.95" cy="576.81" r="0.45"/><circle cx="143.99" cy="594.6" r="0.45"/><circle cx="154.35" cy="587.77" r="0.45"/><circle cx="161.21" cy="585.65" r="0.45"/><circle cx="148.15" cy="586.32" r="0.45"/><circle cx="155.84" cy="587.25" r="0.45"/><circle cx="146.78" cy="583.07" r="0.45"/><circle cx="147.49" cy="595.24" r="0.45"/><circle cx="150.06" cy="580.35" r="0.45"/><circle cx="139.64" cy="587.98" r="0.45"/><circle cx="139.85" cy="588.34" r="0.45"/><circle cx="148.35" cy="590.43" r="0.45"/><circle cx="140.73" cy="580.12" r="0.45"/><circle cx="154.08" cy="580.61" r="0.45"/><circle cx="149.65" cy="584.99" r="0.45"/><circle cx="155.72" cy="589.3" r="0.45"/><circle cx="156.74" cy="579.46" r="0.45"/><circle cx="139.99" cy="588.87" r="0.45"/><circle cx="150.75" cy="577.02" r="0.45"/><circle cx="145.75" cy="594.82" r="0.45"/><circle cx="150.55" cy="587.35" r="0.45"/><circle cx="148.1" cy="586.64" r="0.45"/><circle cx="153.4" cy="598.33" r="0.45"/><circle cx="153.83" cy="581.44" r="0.45"/><circle cx="156.29" cy="587.63" r="0.45"/><circle cx="147.19" cy="588.45" r="0.45"/><circle cx="149.18" cy="581.01" r="0.45"/><circle cx="144.13" cy="587.46" r="0.45"/><circle cx="146.45" cy="584.17" r="0.45"/><circle cx="154.58" cy="582.55" r="0.45"/><circle cx="164.58" cy="582.19" r="0.45"/><circle cx="145.06" cy="582.93" r="0.45"/><circle cx="151.86" cy="580.76" r="0.45"/><circle cx="139.8" cy="593.06" r="0.45"/><circle cx="147.17" cy="585.18" r="0.45"/></g>
<path d="M140.09,588.97 C140.02,587.4 140.02,585.15 140.76,583.57 C141.5,582 142.97,580.56 144.54,579.52 C146.12,578.49 148.14,577.7 150.21,577.36 C152.28,577.03 155.32,577.03 156.96,577.5 C158.6,577.97 159.73,578.96 160.07,580.2 C160.4,581.44 159.73,583.24 158.99,584.92 C158.24,586.61 157.07,588.64 155.61,590.32 C154.15,592.01 152.01,594.19 150.21,595.05 C148.41,595.9 146.32,595.79 144.81,595.45 C143.3,595.12 141.95,594.1 141.17,593.02 C140.38,591.94 140.15,590.55 140.09,588.97Z" fill="#666" fill-opacity="0.35" filter="url(#sb2)"/>
<path d="M142.5,588.2 C142.45,587.03 142.45,585.37 143,584.2 C143.55,583.03 144.63,581.97 145.8,581.2 C146.97,580.43 148.47,579.85 150,579.6 C151.53,579.35 153.78,579.35 155,579.7 C156.22,580.05 157.05,580.78 157.3,581.7 C157.55,582.62 157.05,583.95 156.5,585.2 C155.95,586.45 155.08,587.95 154,589.2 C152.92,590.45 151.33,592.07 150,592.7 C148.67,593.33 147.12,593.25 146,593 C144.88,592.75 143.88,592 143.3,591.2 C142.72,590.4 142.55,589.37 142.5,588.2Z" fill="#000" filter="url(#sb)"/>
<g fill="#999" fill-opacity="0.6"><circle cx="171.38" cy="579.95" r="0.4"/><circle cx="205.16" cy="596.81" r="0.4"/><circle cx="180.9" cy="576.73" r="0.4"/><circle cx="193.47" cy="580.28" r="0.4"/><circle cx="203.14" cy="597.28" r="0.4"/><circle cx="199" cy="593.94" r="0.4"/><circle cx="198.87" cy="595.23" r="0.4"/><circle cx="183.88" cy="592.64" r="0.4"/><circle cx="199.13" cy="586.29" r="0.4"/><circle cx="196.18" cy="589.41" r="0.4"/><circle cx="178.05" cy="581.68" r="0.4"/><circle cx="196.05" cy="597.22" r="0.4"/><circle cx="193.23" cy="593.49" r="0.4"/><circle cx="193.52" cy="579.04" r="0.4"/><circle cx="179.2" cy="589.33" r="0.4"/><circle cx="197.95" cy="585.49" r="0.4"/><circle cx="195.73" cy="583.49" r="0.4"/><circle cx="181.44" cy="579.59" r="0.4"/><circle cx="185.16" cy="589.28" r="0.4"/><circle cx="173.73" cy="597.55" r="0.4"/><circle cx="182.64" cy="597.73" r="0.4"/></g>
<rect x="137" y="546" width="70.2" height="53.2" fill="none" stroke="#7a7a7a" stroke-width="0.9"/>
<line x1="169.6" y1="546" x2="169.6" y2="599.2" stroke="#7a7a7a" stroke-width="0.9" />
<line x1="137" y1="575.6" x2="207.2" y2="575.6" stroke="#7a7a7a" stroke-width="0.9" />
<line x1="136.5" y1="599.2" x2="207.7" y2="599.2" stroke="#333" stroke-width="1.3" />
<line x1="137" y1="546" x2="137" y2="599.2" stroke="#555" stroke-width="1" />
<text x="138.6" y="550.6" font-size="4.6" font-weight="bold" fill="#111" stroke="#111" stroke-width="0.12" >8%</text>
<text x="171.2" y="550.6" font-size="4.6" font-weight="bold" fill="#111" stroke="#111" stroke-width="0.12" >17.8%</text>
<text x="168.8" y="596.8" font-size="4.6" text-anchor="end" font-weight="bold" fill="#111" stroke="#111" stroke-width="0.12" >73.6%</text>
<text x="206.4" y="596.8" font-size="4.6" text-anchor="end" font-weight="bold" fill="#111" stroke="#111" stroke-width="0.12" >0.8%</text>
<text x="160.6" y="569.1" font-size="3.8" fill="#444" >Q1</text>
<text x="171.6" y="569.1" font-size="3.8" fill="#444" >Q2</text>
<text x="160.6" y="586.1" font-size="3.8" fill="#444" >Q3</text>
<text x="171.6" y="586.1" font-size="3.8" fill="#444" >Q4</text>
<text x="125.6" y="552.8" font-size="5.2" fill="#222" stroke="#222" stroke-width="0.15" >10</text>
<text x="131.2" y="549.8" font-size="3.6" fill="#222" stroke="#222" stroke-width="0.15" >5</text>
<line x1="135.2" y1="550.8" x2="137" y2="550.8" stroke="#333" stroke-width="0.8" />
<text x="125.6" y="564.2" font-size="5.2" fill="#222" stroke="#222" stroke-width="0.15" >10</text>
<text x="131.2" y="561.2" font-size="3.6" fill="#222" stroke="#222" stroke-width="0.15" >4</text>
<line x1="135.2" y1="562.2" x2="137" y2="562.2" stroke="#333" stroke-width="0.8" />
<text x="125.6" y="576.6" font-size="5.2" fill="#222" stroke="#222" stroke-width="0.15" >10</text>
<text x="131.2" y="573.6" font-size="3.6" fill="#222" stroke="#222" stroke-width="0.15" >3</text>
<line x1="135.2" y1="574.6" x2="137" y2="574.6" stroke="#333" stroke-width="0.8" />
<text x="125.6" y="587.9" font-size="5.2" fill="#222" stroke="#222" stroke-width="0.15" >10</text>
<text x="131.2" y="584.9" font-size="3.6" fill="#222" stroke="#222" stroke-width="0.15" >2</text>
<line x1="135.2" y1="585.9" x2="137" y2="585.9" stroke="#333" stroke-width="0.8" />
<text x="133.5" y="597.6" font-size="5.2" text-anchor="end" fill="#222" >0</text>
<text x="129.5" y="601.4" font-size="4.6" text-anchor="end" fill="#444" >-43</text>
<text x="144" y="608.4" font-size="5.2" fill="#222" stroke="#222" stroke-width="0.15" >0</text>
<text x="150" y="608.4" font-size="5.2" fill="#222" stroke="#222" stroke-width="0.15" >10</text>
<text x="155.6" y="605.4" font-size="3.6" fill="#222" stroke="#222" stroke-width="0.15" >2</text>
<text x="166" y="608.4" font-size="5.2" fill="#222" stroke="#222" stroke-width="0.15" >10</text>
<text x="171.6" y="605.4" font-size="3.6" fill="#222" stroke="#222" stroke-width="0.15" >3</text>
<text x="182.6" y="608.4" font-size="5.2" fill="#222" stroke="#222" stroke-width="0.15" >10</text>
<text x="188.2" y="605.4" font-size="3.6" fill="#222" stroke="#222" stroke-width="0.15" >4</text>
<text x="200.2" y="608.4" font-size="5.2" fill="#222" stroke="#222" stroke-width="0.15" >10</text>
<text x="205.8" y="605.4" font-size="3.6" fill="#222" stroke="#222" stroke-width="0.15" >5</text>
<line x1="145.5" y1="599.2" x2="145.5" y2="601" stroke="#333" stroke-width="0.8" />
<line x1="153" y1="599.2" x2="153" y2="601" stroke="#333" stroke-width="0.8" />
<line x1="169.6" y1="599.2" x2="169.6" y2="601" stroke="#333" stroke-width="0.8" />
<line x1="185.6" y1="599.2" x2="185.6" y2="601" stroke="#333" stroke-width="0.8" />
<line x1="203.7" y1="599.2" x2="203.7" y2="601" stroke="#333" stroke-width="0.8" />
<text x="140.7" y="610.7" font-size="4.6" text-anchor="end" fill="#444" >-106</text>
<text x="54.4" y="466.9" font-size="9.57" fill="#262626" stroke="#262626" stroke-width="0.15" textLength="42.9" lengthAdjust="spacingAndGlyphs" >Vector only</text>
<text x="144.3" y="468.2" font-size="9.57" font-style="italic" fill="#262626" stroke="#262626" stroke-width="0.15" textLength="55.6" lengthAdjust="spacingAndGlyphs" >KMT2E-ASNS</text>
<text x="65.8" y="625.1" font-size="10.23" fill="#262626" stroke="#262626" stroke-width="0.25" textLength="116.3" lengthAdjust="spacingAndGlyphs" >Propidium iodide fluorescence</text>
<text transform="translate(19.7,536.7) rotate(-90)" font-size="9.9" text-anchor="middle" fill="#262626" stroke="#262626" stroke-width="0.25" textLength="132.6" lengthAdjust="spacingAndGlyphs" >Annexin V-Allexa 488 fluorescence</text>
<text transform="translate(212,500) rotate(90)" font-size="9.24" text-anchor="middle" fill="#262626" stroke="#262626" stroke-width="0.15" textLength="27.3" lengthAdjust="spacingAndGlyphs" >Control</text>
<text transform="translate(212.1,572.9) rotate(90)" font-size="9.02" text-anchor="middle" fill="#262626" stroke="#262626" stroke-width="0.15" textLength="31" lengthAdjust="spacingAndGlyphs" >ASNase</text>
<line x1="254.5" y1="457.5" x2="254.5" y2="637" stroke="#000" stroke-width="1.5" />
<line x1="254.5" y1="591.7" x2="510" y2="591.7" stroke="#000" stroke-width="1.5" />
<line x1="251.5" y1="591.3" x2="254.5" y2="591.3" stroke="#000" stroke-width="1.3" />
<text x="248.2" y="593.4" font-size="9.02" text-anchor="end" fill="#262626" stroke="#262626" stroke-width="0.15" textLength="11.85" lengthAdjust="spacingAndGlyphs" >0%</text>
<line x1="251.5" y1="576.78" x2="254.5" y2="576.78" stroke="#000" stroke-width="1.3" />
<text x="248.2" y="578.88" font-size="9.02" text-anchor="end" fill="#262626" stroke="#262626" stroke-width="0.15" textLength="16.41" lengthAdjust="spacingAndGlyphs" >10%</text>
<line x1="251.5" y1="562.26" x2="254.5" y2="562.26" stroke="#000" stroke-width="1.3" />
<text x="248.2" y="564.36" font-size="9.02" text-anchor="end" fill="#262626" stroke="#262626" stroke-width="0.15" textLength="16.41" lengthAdjust="spacingAndGlyphs" >20%</text>
<line x1="251.5" y1="547.74" x2="254.5" y2="547.74" stroke="#000" stroke-width="1.3" />
<text x="248.2" y="549.84" font-size="9.02" text-anchor="end" fill="#262626" stroke="#262626" stroke-width="0.15" textLength="16.41" lengthAdjust="spacingAndGlyphs" >30%</text>
<line x1="251.5" y1="533.22" x2="254.5" y2="533.22" stroke="#000" stroke-width="1.3" />
<text x="248.2" y="535.32" font-size="9.02" text-anchor="end" fill="#262626" stroke="#262626" stroke-width="0.15" textLength="16.41" lengthAdjust="spacingAndGlyphs" >40%</text>
<line x1="251.5" y1="518.7" x2="254.5" y2="518.7" stroke="#000" stroke-width="1.3" />
<text x="248.2" y="520.8" font-size="9.02" text-anchor="end" fill="#262626" stroke="#262626" stroke-width="0.15" textLength="16.41" lengthAdjust="spacingAndGlyphs" >50%</text>
<line x1="251.5" y1="504.18" x2="254.5" y2="504.18" stroke="#000" stroke-width="1.3" />
<text x="248.2" y="506.28" font-size="9.02" text-anchor="end" fill="#262626" stroke="#262626" stroke-width="0.15" textLength="16.41" lengthAdjust="spacingAndGlyphs" >60%</text>
<line x1="251.5" y1="489.66" x2="254.5" y2="489.66" stroke="#000" stroke-width="1.3" />
<text x="248.2" y="491.76" font-size="9.02" text-anchor="end" fill="#262626" stroke="#262626" stroke-width="0.15" textLength="16.41" lengthAdjust="spacingAndGlyphs" >70%</text>
<line x1="251.5" y1="475.14" x2="254.5" y2="475.14" stroke="#000" stroke-width="1.3" />
<text x="248.2" y="477.24" font-size="9.02" text-anchor="end" fill="#262626" stroke="#262626" stroke-width="0.15" textLength="16.41" lengthAdjust="spacingAndGlyphs" >80%</text>
<line x1="251.5" y1="460.62" x2="254.5" y2="460.62" stroke="#000" stroke-width="1.3" />
<text x="248.2" y="462.72" font-size="9.02" text-anchor="end" fill="#262626" stroke="#262626" stroke-width="0.15" textLength="16.41" lengthAdjust="spacingAndGlyphs" >90%</text>
<line x1="317.8" y1="591.3" x2="317.8" y2="637" stroke="#000" stroke-width="1.5" />
<line x1="381.6" y1="591.3" x2="381.6" y2="637" stroke="#000" stroke-width="1.5" />
<line x1="445.6" y1="591.3" x2="445.6" y2="637" stroke="#000" stroke-width="1.5" />
<line x1="509.6" y1="591.3" x2="509.6" y2="637" stroke="#000" stroke-width="1.5" />
<rect x="260.8" y="459" width="5.9" height="5" fill="#a8042c" />
<rect x="260.8" y="468" width="5.9" height="5" fill="#2e4d80" />
<rect x="260.8" y="477" width="5.9" height="5" fill="#69aa3e" />
<text x="269.8" y="464.3" font-size="8.14" fill="#262626" stroke="#262626" stroke-width="0.15" textLength="20.8" lengthAdjust="spacingAndGlyphs" >Death</text>
<text x="269.8" y="473.3" font-size="8.14" fill="#262626" stroke="#262626" stroke-width="0.15" textLength="49.8" lengthAdjust="spacingAndGlyphs" >Late apoptosis</text>
<text x="269.8" y="482.5" font-size="8.14" fill="#262626" stroke="#262626" stroke-width="0.15" textLength="52.6" lengthAdjust="spacingAndGlyphs" >Early apoptosis</text>
<rect x="257.7" y="587.52" width="14.5" height="3.28" fill="#69aa3e" />
<rect x="257.7" y="582.3" width="14.5" height="5.23" fill="#2e4d80" />
<rect x="257.7" y="580.85" width="14.5" height="1.45" fill="#a8042c" />
<rect x="278.9" y="583.31" width="14.5" height="7.49" fill="#69aa3e" />
<rect x="278.9" y="577.22" width="14.5" height="6.1" fill="#2e4d80" />
<rect x="278.9" y="574.89" width="14.5" height="2.32" fill="#a8042c" />
<rect x="300.1" y="587.52" width="14.5" height="3.28" fill="#69aa3e" />
<rect x="300.1" y="584.04" width="14.5" height="3.48" fill="#2e4d80" />
<rect x="300.1" y="582.88" width="14.5" height="1.16" fill="#a8042c" />
<rect x="321.2" y="515.22" width="14.5" height="75.58" fill="#69aa3e" />
<rect x="321.2" y="492.56" width="14.5" height="22.65" fill="#2e4d80" />
<rect x="321.2" y="489.95" width="14.5" height="2.61" fill="#a8042c" />
<text x="328.45" y="555.26" font-size="5.6" text-anchor="middle" fill="#e8f3e0" textLength="10.5" lengthAdjust="spacingAndGlyphs" fill-opacity="0.8">52%</text>
<text x="328.45" y="505.09" font-size="5.6" text-anchor="middle" fill="#e8ecf6" textLength="10.5" lengthAdjust="spacingAndGlyphs" fill-opacity="0.85">16%</text>
<rect x="342.4" y="518.7" width="14.5" height="72.1" fill="#69aa3e" />
<rect x="342.4" y="494.31" width="14.5" height="24.39" fill="#2e4d80" />
<rect x="342.4" y="492.85" width="14.5" height="1.45" fill="#a8042c" />
<text x="349.65" y="557" font-size="5.6" text-anchor="middle" fill="#e8f3e0" textLength="10.5" lengthAdjust="spacingAndGlyphs" fill-opacity="0.8">50%</text>
<text x="349.65" y="507.7" font-size="5.6" text-anchor="middle" fill="#e8ecf6" textLength="10.5" lengthAdjust="spacingAndGlyphs" fill-opacity="0.85">17%</text>
<rect x="363.6" y="518.7" width="14.5" height="72.1" fill="#69aa3e" />
<rect x="363.6" y="495.76" width="14.5" height="22.94" fill="#2e4d80" />
<rect x="363.6" y="494.6" width="14.5" height="1.16" fill="#a8042c" />
<text x="370.85" y="557" font-size="5.6" text-anchor="middle" fill="#e8f3e0" textLength="10.5" lengthAdjust="spacingAndGlyphs" fill-opacity="0.8">50%</text>
<text x="370.85" y="508.43" font-size="5.6" text-anchor="middle" fill="#e8ecf6" textLength="10.5" lengthAdjust="spacingAndGlyphs" fill-opacity="0.85">16%</text>
<rect x="384.8" y="513.04" width="14.5" height="77.76" fill="#69aa3e" />
<rect x="384.8" y="485.16" width="14.5" height="27.88" fill="#2e4d80" />
<rect x="384.8" y="484" width="14.5" height="1.16" fill="#a8042c" />
<text x="392.05" y="554.17" font-size="5.6" text-anchor="middle" fill="#e8f3e0" textLength="10.5" lengthAdjust="spacingAndGlyphs" fill-opacity="0.8">54%</text>
<text x="392.05" y="500.3" font-size="5.6" text-anchor="middle" fill="#e8ecf6" textLength="10.5" lengthAdjust="spacingAndGlyphs" fill-opacity="0.85">19%</text>
<rect x="406" y="537.14" width="14.5" height="53.66" fill="#69aa3e" />
<rect x="406" y="516.23" width="14.5" height="20.91" fill="#2e4d80" />
<rect x="406" y="514.92" width="14.5" height="1.31" fill="#a8042c" />
<text x="413.25" y="566.22" font-size="5.6" text-anchor="middle" fill="#e8f3e0" textLength="10.5" lengthAdjust="spacingAndGlyphs" fill-opacity="0.8">37%</text>
<text x="413.25" y="527.89" font-size="5.6" text-anchor="middle" fill="#e8ecf6" textLength="10.5" lengthAdjust="spacingAndGlyphs" fill-opacity="0.85">14%</text>
<rect x="427.2" y="537.14" width="14.5" height="53.66" fill="#69aa3e" />
<rect x="427.2" y="515.51" width="14.5" height="21.63" fill="#2e4d80" />
<rect x="427.2" y="514.2" width="14.5" height="1.31" fill="#a8042c" />
<text x="434.45" y="566.22" font-size="5.6" text-anchor="middle" fill="#e8f3e0" textLength="10.5" lengthAdjust="spacingAndGlyphs" fill-opacity="0.8">37%</text>
<text x="434.45" y="527.52" font-size="5.6" text-anchor="middle" fill="#e8ecf6" textLength="10.5" lengthAdjust="spacingAndGlyphs" fill-opacity="0.85">15%</text>
<rect x="448.4" y="544.55" width="14.5" height="46.25" fill="#69aa3e" />
<rect x="448.4" y="500.26" width="14.5" height="44.29" fill="#2e4d80" />
<rect x="448.4" y="498.81" width="14.5" height="1.45" fill="#a8042c" />
<text x="455.65" y="569.92" font-size="5.6" text-anchor="middle" fill="#e8f3e0" textLength="10.5" lengthAdjust="spacingAndGlyphs" fill-opacity="0.8">33%</text>
<text x="455.65" y="523.6" font-size="5.6" text-anchor="middle" fill="#e8ecf6" textLength="10.5" lengthAdjust="spacingAndGlyphs" fill-opacity="0.85">30%</text>
<rect x="469.6" y="539.46" width="14.5" height="51.34" fill="#69aa3e" />
<rect x="469.6" y="482.25" width="14.5" height="57.21" fill="#2e4d80" />
<rect x="469.6" y="481.24" width="14.5" height="1.02" fill="#a8042c" />
<text x="476.85" y="567.38" font-size="5.6" text-anchor="middle" fill="#e8f3e0" textLength="10.5" lengthAdjust="spacingAndGlyphs" fill-opacity="0.8">36%</text>
<text x="476.85" y="512.06" font-size="5.6" text-anchor="middle" fill="#e8ecf6" textLength="10.5" lengthAdjust="spacingAndGlyphs" fill-opacity="0.85">39%</text>
<rect x="490.8" y="570.97" width="14.5" height="19.83" fill="#69aa3e" />
<rect x="490.8" y="557.47" width="14.5" height="13.5" fill="#2e4d80" />
<rect x="490.8" y="556.16" width="14.5" height="1.31" fill="#a8042c" />
<text x="498.05" y="583.14" font-size="5.6" text-anchor="middle" fill="#e8f3e0" textLength="10.5" lengthAdjust="spacingAndGlyphs" fill-opacity="0.8">14%</text>
<text x="498.05" y="565.42" font-size="5.6" text-anchor="middle" fill="#e8ecf6" textLength="10.5" lengthAdjust="spacingAndGlyphs" fill-opacity="0.85">10%</text>
<line x1="328.6" y1="489.1" x2="328.6" y2="494.3" stroke="#111" stroke-width="1.4" />
<line x1="326.3" y1="489.1" x2="330.9" y2="489.1" stroke="#111" stroke-width="1.4" />
<line x1="326.3" y1="494.3" x2="330.9" y2="494.3" stroke="#111" stroke-width="1.4" />
<line x1="328.6" y1="507.2" x2="328.6" y2="523.2" stroke="#111" stroke-width="1.4" />
<line x1="326.3" y1="507.2" x2="330.9" y2="507.2" stroke="#111" stroke-width="1.4" />
<line x1="326.3" y1="523.2" x2="330.9" y2="523.2" stroke="#111" stroke-width="1.4" />
<line x1="349.7" y1="490.9" x2="349.7" y2="497.4" stroke="#111" stroke-width="1.4" />
<line x1="347.4" y1="490.9" x2="352" y2="490.9" stroke="#111" stroke-width="1.4" />
<line x1="347.4" y1="497.4" x2="352" y2="497.4" stroke="#111" stroke-width="1.4" />
<line x1="349.7" y1="510" x2="349.7" y2="527" stroke="#111" stroke-width="1.4" />
<line x1="347.4" y1="510" x2="352" y2="510" stroke="#111" stroke-width="1.4" />
<line x1="347.4" y1="527" x2="352" y2="527" stroke="#111" stroke-width="1.4" />
<line x1="370.9" y1="493.5" x2="370.9" y2="497" stroke="#111" stroke-width="1.4" />
<line x1="368.6" y1="493.5" x2="373.2" y2="493.5" stroke="#111" stroke-width="1.4" />
<line x1="368.6" y1="497" x2="373.2" y2="497" stroke="#111" stroke-width="1.4" />
<line x1="370.9" y1="510" x2="370.9" y2="527.5" stroke="#111" stroke-width="1.4" />
<line x1="368.6" y1="510" x2="373.2" y2="510" stroke="#111" stroke-width="1.4" />
<line x1="368.6" y1="527.5" x2="373.2" y2="527.5" stroke="#111" stroke-width="1.4" />
<line x1="392.1" y1="480.8" x2="392.1" y2="490.2" stroke="#111" stroke-width="1.4" />
<line x1="389.8" y1="480.8" x2="394.4" y2="480.8" stroke="#111" stroke-width="1.4" />
<line x1="389.8" y1="490.2" x2="394.4" y2="490.2" stroke="#111" stroke-width="1.4" />
<line x1="392.1" y1="512" x2="392.1" y2="514" stroke="#111" stroke-width="1.4" />
<line x1="389.8" y1="512" x2="394.4" y2="512" stroke="#111" stroke-width="1.4" />
<line x1="389.8" y1="514" x2="394.4" y2="514" stroke="#111" stroke-width="1.4" />
<line x1="413.2" y1="514.8" x2="413.2" y2="518.5" stroke="#111" stroke-width="1.4" />
<line x1="410.9" y1="514.8" x2="415.5" y2="514.8" stroke="#111" stroke-width="1.4" />
<line x1="410.9" y1="518.5" x2="415.5" y2="518.5" stroke="#111" stroke-width="1.4" />
<line x1="413.2" y1="536.5" x2="413.2" y2="538.7" stroke="#111" stroke-width="1.4" />
<line x1="410.9" y1="536.5" x2="415.5" y2="536.5" stroke="#111" stroke-width="1.4" />
<line x1="410.9" y1="538.7" x2="415.5" y2="538.7" stroke="#111" stroke-width="1.4" />
<line x1="434.5" y1="514" x2="434.5" y2="517.8" stroke="#111" stroke-width="1.4" />
<line x1="432.2" y1="514" x2="436.8" y2="514" stroke="#111" stroke-width="1.4" />
<line x1="432.2" y1="517.8" x2="436.8" y2="517.8" stroke="#111" stroke-width="1.4" />
<line x1="434.5" y1="536.5" x2="434.5" y2="538.7" stroke="#111" stroke-width="1.4" />
<line x1="432.2" y1="536.5" x2="436.8" y2="536.5" stroke="#111" stroke-width="1.4" />
<line x1="432.2" y1="538.7" x2="436.8" y2="538.7" stroke="#111" stroke-width="1.4" />
<line x1="455.7" y1="497.7" x2="455.7" y2="501.8" stroke="#111" stroke-width="1.4" />
<line x1="453.4" y1="497.7" x2="458" y2="497.7" stroke="#111" stroke-width="1.4" />
<line x1="453.4" y1="501.8" x2="458" y2="501.8" stroke="#111" stroke-width="1.4" />
<line x1="455.7" y1="542.2" x2="455.7" y2="546.7" stroke="#111" stroke-width="1.4" />
<line x1="453.4" y1="542.2" x2="458" y2="542.2" stroke="#111" stroke-width="1.4" />
<line x1="453.4" y1="546.7" x2="458" y2="546.7" stroke="#111" stroke-width="1.4" />
<line x1="476.9" y1="480.4" x2="476.9" y2="482.6" stroke="#111" stroke-width="1.4" />
<line x1="474.6" y1="480.4" x2="479.2" y2="480.4" stroke="#111" stroke-width="1.4" />
<line x1="474.6" y1="482.6" x2="479.2" y2="482.6" stroke="#111" stroke-width="1.4" />
<line x1="476.9" y1="537.8" x2="476.9" y2="541.4" stroke="#111" stroke-width="1.4" />
<line x1="474.6" y1="537.8" x2="479.2" y2="537.8" stroke="#111" stroke-width="1.4" />
<line x1="474.6" y1="541.4" x2="479.2" y2="541.4" stroke="#111" stroke-width="1.4" />
<line x1="498" y1="555.6" x2="498" y2="558.3" stroke="#111" stroke-width="1.4" />
<line x1="495.7" y1="555.6" x2="500.3" y2="555.6" stroke="#111" stroke-width="1.4" />
<line x1="495.7" y1="558.3" x2="500.3" y2="558.3" stroke="#111" stroke-width="1.4" />
<line x1="498" y1="569.6" x2="498" y2="572.3" stroke="#111" stroke-width="1.4" />
<line x1="495.7" y1="569.6" x2="500.3" y2="569.6" stroke="#111" stroke-width="1.4" />
<line x1="495.7" y1="572.3" x2="500.3" y2="572.3" stroke="#111" stroke-width="1.4" />
<line x1="265" y1="580" x2="265" y2="582" stroke="#111" stroke-width="1.4" />
<line x1="262.7" y1="580" x2="267.3" y2="580" stroke="#111" stroke-width="1.4" />
<line x1="262.7" y1="582" x2="267.3" y2="582" stroke="#111" stroke-width="1.4" />
<line x1="286.2" y1="576" x2="286.2" y2="583" stroke="#111" stroke-width="1.4" />
<line x1="283.9" y1="576" x2="288.5" y2="576" stroke="#111" stroke-width="1.4" />
<line x1="283.9" y1="583" x2="288.5" y2="583" stroke="#111" stroke-width="1.4" />
<line x1="307.4" y1="582.3" x2="307.4" y2="584.3" stroke="#111" stroke-width="1.4" />
<line x1="305.1" y1="582.3" x2="309.7" y2="582.3" stroke="#111" stroke-width="1.4" />
<line x1="305.1" y1="584.3" x2="309.7" y2="584.3" stroke="#111" stroke-width="1.4" />
<circle cx="497.7" cy="550.7" r="0.95" fill="#111"/>
<text transform="translate(267.75,594.3) rotate(-90)" font-size="8.8" text-anchor="end" fill="#262626" stroke="#262626" stroke-width="0.15" textLength="28.91" lengthAdjust="spacingAndGlyphs" >parental</text>
<text transform="translate(288.95,594.3) rotate(-90)" font-size="8.8" text-anchor="end" fill="#262626" stroke="#262626" stroke-width="0.15" textLength="21.78" lengthAdjust="spacingAndGlyphs" >vector</text>
<text transform="translate(310.15,594.3) rotate(-90)" font-size="8.8" text-anchor="end" fill="#262626" stroke="#262626" stroke-width="0.15" textLength="51.12" lengthAdjust="spacingAndGlyphs" >KMT2E-ASNS</text>
<text transform="translate(331.25,594.3) rotate(-90)" font-size="8.8" text-anchor="end" fill="#262626" stroke="#262626" stroke-width="0.15" textLength="28.91" lengthAdjust="spacingAndGlyphs" >parental</text>
<text transform="translate(352.45,594.3) rotate(-90)" font-size="8.8" text-anchor="end" fill="#262626" stroke="#262626" stroke-width="0.15" textLength="21.78" lengthAdjust="spacingAndGlyphs" >vector</text>
<text transform="translate(373.65,594.3) rotate(-90)" font-size="8.8" text-anchor="end" fill="#262626" stroke="#262626" stroke-width="0.15" textLength="51.12" lengthAdjust="spacingAndGlyphs" >KMT2E-ASNS</text>
<text transform="translate(394.85,594.3) rotate(-90)" font-size="8.8" text-anchor="end" fill="#262626" stroke="#262626" stroke-width="0.15" textLength="28.91" lengthAdjust="spacingAndGlyphs" >parental</text>
<text transform="translate(416.05,594.3) rotate(-90)" font-size="8.8" text-anchor="end" fill="#262626" stroke="#262626" stroke-width="0.15" textLength="21.78" lengthAdjust="spacingAndGlyphs" >vector</text>
<text transform="translate(437.25,594.3) rotate(-90)" font-size="8.8" text-anchor="end" fill="#262626" stroke="#262626" stroke-width="0.15" textLength="51.12" lengthAdjust="spacingAndGlyphs" >KMT2E-ASNS</text>
<text transform="translate(458.45,594.3) rotate(-90)" font-size="8.8" text-anchor="end" fill="#262626" stroke="#262626" stroke-width="0.15" textLength="28.91" lengthAdjust="spacingAndGlyphs" >parental</text>
<text transform="translate(479.65,594.3) rotate(-90)" font-size="8.8" text-anchor="end" fill="#262626" stroke="#262626" stroke-width="0.15" textLength="21.78" lengthAdjust="spacingAndGlyphs" >vector</text>
<text transform="translate(500.85,594.3) rotate(-90)" font-size="8.8" text-anchor="end" fill="#262626" stroke="#262626" stroke-width="0.15" textLength="51.12" lengthAdjust="spacingAndGlyphs" >KMT2E-ASNS</text>
<text x="286" y="659" font-size="9.02" text-anchor="middle" fill="#262626" stroke="#262626" stroke-width="0.15" textLength="34" lengthAdjust="spacingAndGlyphs" >untreated</text>
<text x="350" y="659" font-size="9.02" text-anchor="middle" fill="#262626" stroke="#262626" stroke-width="0.15" textLength="50.8" lengthAdjust="spacingAndGlyphs" >Camptothecin</text>
<text x="413.2" y="659" font-size="9.02" text-anchor="middle" fill="#262626" stroke="#262626" stroke-width="0.15" textLength="43.3" lengthAdjust="spacingAndGlyphs" >Doxorubicin</text>
<text x="477.2" y="659" font-size="9.02" text-anchor="middle" fill="#262626" stroke="#262626" stroke-width="0.15" textLength="49.9" lengthAdjust="spacingAndGlyphs" >Asparaginase</text>
<rect x="0.7" y="0.7" width="518.6" height="666.6" fill="none" stroke="#000" stroke-width="1.4"/>
</svg>
</body></html>
